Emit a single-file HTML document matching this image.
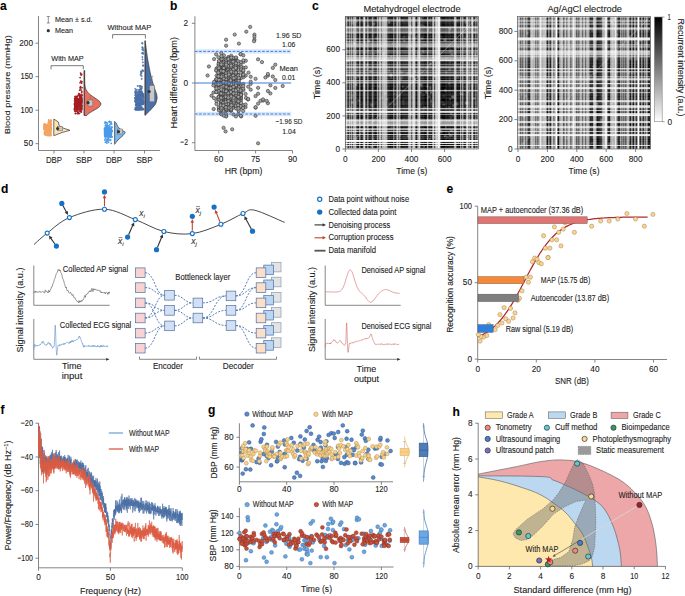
<!DOCTYPE html>
<html><head><meta charset="utf-8"><style>
html,body{margin:0;padding:0;background:#fff;width:685px;height:596px;overflow:hidden}
svg{display:block;font-family:"Liberation Sans", sans-serif;}
</style></head><body>
<svg width="685" height="596" viewBox="0 0 685 596" font-size="7.5" fill="#222">
<style>text{stroke:#222;stroke-width:0.1px}</style>
<text x="0" y="10" font-weight="bold" fill="#000" font-size="12">a</text>
<text x="170" y="10" font-weight="bold" fill="#000" font-size="12">b</text>
<text x="312" y="10" font-weight="bold" fill="#000" font-size="12">c</text>
<text x="1" y="192.5" font-weight="bold" fill="#000" font-size="12">d</text>
<text x="446.5" y="193" font-weight="bold" fill="#000" font-size="12">e</text>
<text x="0.5" y="413.8" font-weight="bold" fill="#000" font-size="12">f</text>
<text x="208" y="413.5" font-weight="bold" fill="#000" font-size="12">g</text>
<text x="452.5" y="415.5" font-weight="bold" fill="#000" font-size="12">h</text>
<line x1="38.5" y1="16" x2="38.5" y2="150.5" stroke="#666" stroke-width="0.8"/>
<line x1="38.5" y1="150.5" x2="160" y2="150.5" stroke="#666" stroke-width="0.8"/>
<line x1="35.5" y1="43.2" x2="38.5" y2="43.2" stroke="#666" stroke-width="0.8"/>
<text x="33" y="45.8" text-anchor="end" textLength="13.8" lengthAdjust="spacingAndGlyphs" font-size="9">200</text>
<line x1="35.5" y1="76.7" x2="38.5" y2="76.7" stroke="#666" stroke-width="0.8"/>
<text x="33" y="79.3" text-anchor="end" textLength="12.5" lengthAdjust="spacingAndGlyphs" font-size="9">150</text>
<line x1="35.5" y1="110.2" x2="38.5" y2="110.2" stroke="#666" stroke-width="0.8"/>
<text x="33" y="112.8" text-anchor="end" textLength="12.5" lengthAdjust="spacingAndGlyphs" font-size="9">100</text>
<line x1="35.5" y1="143.7" x2="38.5" y2="143.7" stroke="#666" stroke-width="0.8"/>
<text x="33" y="146.3" text-anchor="end" textLength="9.2" lengthAdjust="spacingAndGlyphs" font-size="9">50</text>
<line x1="54" y1="150.5" x2="54" y2="153.5" stroke="#666" stroke-width="0.8"/>
<text x="54" y="162.6" text-anchor="middle" textLength="16.1" lengthAdjust="spacingAndGlyphs" font-size="8.5">DBP</text>
<line x1="84" y1="150.5" x2="84" y2="153.5" stroke="#666" stroke-width="0.8"/>
<text x="84" y="162.6" text-anchor="middle" textLength="16.1" lengthAdjust="spacingAndGlyphs" font-size="8.5">SBP</text>
<line x1="114" y1="150.5" x2="114" y2="153.5" stroke="#666" stroke-width="0.8"/>
<text x="114" y="162.6" text-anchor="middle" textLength="16.1" lengthAdjust="spacingAndGlyphs" font-size="8.5">DBP</text>
<line x1="144.5" y1="150.5" x2="144.5" y2="153.5" stroke="#666" stroke-width="0.8"/>
<text x="144.5" y="162.6" text-anchor="middle" textLength="16.1" lengthAdjust="spacingAndGlyphs" font-size="8.5">SBP</text>
<text x="0" y="2.8" text-anchor="middle" textLength="99" lengthAdjust="spacingAndGlyphs" font-size="7.8" transform="translate(7,84.7) rotate(-90)">Blood pressure (mmHg)</text>
<line x1="48.3" y1="16.5" x2="48.3" y2="23" stroke="#666" stroke-width="0.7"/>
<line x1="46.8" y1="16.5" x2="49.8" y2="16.5" stroke="#666" stroke-width="0.7"/>
<line x1="46.8" y1="23" x2="49.8" y2="23" stroke="#666" stroke-width="0.7"/>
<text x="55" y="22.1" textLength="37.5" lengthAdjust="spacingAndGlyphs">Mean ± s.d.</text>
<circle cx="48.3" cy="30.7" r="1.6" fill="#333"/>
<text x="55" y="33" textLength="18" lengthAdjust="spacingAndGlyphs">Mean</text>
<path d="M51,69.4V65.7H83.3V69.4" fill="none" stroke="#444" stroke-width="0.7"/>
<text x="67.5" y="60.7" text-anchor="middle" textLength="32.5" lengthAdjust="spacingAndGlyphs">With MAP</text>
<path d="M112.6,38.5V34.6H145.4V38.5" fill="none" stroke="#444" stroke-width="0.7"/>
<text x="129.4" y="29.5" text-anchor="middle" textLength="43.8" lengthAdjust="spacingAndGlyphs">Without MAP</text>
<circle cx="50.1" cy="129" r="0.9" fill="#F2A462"/>
<circle cx="47.2" cy="130.3" r="0.9" fill="#F2A462"/>
<circle cx="51.2" cy="127.8" r="0.9" fill="#F2A462"/>
<circle cx="45.5" cy="125.3" r="0.9" fill="#F2A462"/>
<circle cx="44.3" cy="127.1" r="0.9" fill="#F2A462"/>
<circle cx="45.1" cy="124.8" r="0.9" fill="#F2A462"/>
<circle cx="51.1" cy="129.3" r="0.9" fill="#F2A462"/>
<circle cx="49" cy="134.6" r="0.9" fill="#F2A462"/>
<circle cx="49.1" cy="126.9" r="0.9" fill="#F2A462"/>
<circle cx="50.7" cy="126.4" r="0.9" fill="#F2A462"/>
<circle cx="46.8" cy="131.1" r="0.9" fill="#F2A462"/>
<circle cx="45.5" cy="130.5" r="0.9" fill="#F2A462"/>
<circle cx="49.1" cy="129.4" r="0.9" fill="#F2A462"/>
<circle cx="45" cy="125.1" r="0.9" fill="#F2A462"/>
<circle cx="45.5" cy="128.9" r="0.9" fill="#F2A462"/>
<circle cx="50.5" cy="131.9" r="0.9" fill="#F2A462"/>
<circle cx="48.8" cy="123.4" r="0.9" fill="#F2A462"/>
<circle cx="44.9" cy="127.1" r="0.9" fill="#F2A462"/>
<circle cx="50.8" cy="121" r="0.9" fill="#F2A462"/>
<circle cx="49.5" cy="123.6" r="0.9" fill="#F2A462"/>
<circle cx="49.3" cy="121.3" r="0.9" fill="#F2A462"/>
<circle cx="46.9" cy="128" r="0.9" fill="#F2A462"/>
<circle cx="51.2" cy="123.7" r="0.9" fill="#F2A462"/>
<circle cx="46.5" cy="130.1" r="0.9" fill="#F2A462"/>
<circle cx="46.8" cy="129.7" r="0.9" fill="#F2A462"/>
<circle cx="45.3" cy="128.2" r="0.9" fill="#F2A462"/>
<circle cx="48.7" cy="120" r="0.9" fill="#F2A462"/>
<circle cx="49" cy="126.7" r="0.9" fill="#F2A462"/>
<circle cx="46.1" cy="128.8" r="0.9" fill="#F2A462"/>
<circle cx="45" cy="129.5" r="0.9" fill="#F2A462"/>
<circle cx="48.4" cy="122.6" r="0.9" fill="#F2A462"/>
<circle cx="50.3" cy="127" r="0.9" fill="#F2A462"/>
<circle cx="51.3" cy="124.9" r="0.9" fill="#F2A462"/>
<circle cx="46.6" cy="125.6" r="0.9" fill="#F2A462"/>
<circle cx="49.9" cy="133.5" r="0.9" fill="#F2A462"/>
<circle cx="47.3" cy="125.6" r="0.9" fill="#F2A462"/>
<circle cx="44.4" cy="128.9" r="0.9" fill="#F2A462"/>
<circle cx="48.7" cy="132.7" r="0.9" fill="#F2A462"/>
<circle cx="49.6" cy="126.5" r="0.9" fill="#F2A462"/>
<circle cx="48.1" cy="128.5" r="0.9" fill="#F2A462"/>
<circle cx="46.6" cy="129.5" r="0.9" fill="#F2A462"/>
<circle cx="50.7" cy="129.3" r="0.9" fill="#F2A462"/>
<circle cx="50.2" cy="123.9" r="0.9" fill="#F2A462"/>
<circle cx="50.5" cy="129.3" r="0.9" fill="#F2A462"/>
<circle cx="46.5" cy="134.7" r="0.9" fill="#F2A462"/>
<circle cx="48.6" cy="122.5" r="0.9" fill="#F2A462"/>
<circle cx="48.7" cy="132.6" r="0.9" fill="#F2A462"/>
<circle cx="48.7" cy="129.5" r="0.9" fill="#F2A462"/>
<circle cx="47.5" cy="126.3" r="0.9" fill="#F2A462"/>
<circle cx="49.9" cy="135.5" r="0.9" fill="#F2A462"/>
<circle cx="49.6" cy="132.2" r="0.9" fill="#F2A462"/>
<circle cx="50.3" cy="124" r="0.9" fill="#F2A462"/>
<circle cx="48.1" cy="129.3" r="0.9" fill="#F2A462"/>
<circle cx="50.9" cy="131.4" r="0.9" fill="#F2A462"/>
<circle cx="45.9" cy="128.2" r="0.9" fill="#F2A462"/>
<circle cx="47.2" cy="131.9" r="0.9" fill="#F2A462"/>
<circle cx="49.3" cy="128.7" r="0.9" fill="#F2A462"/>
<circle cx="50.9" cy="131.8" r="0.9" fill="#F2A462"/>
<circle cx="45.8" cy="135" r="0.9" fill="#F2A462"/>
<circle cx="50.5" cy="126.2" r="0.9" fill="#F2A462"/>
<circle cx="50.5" cy="129.9" r="0.9" fill="#F2A462"/>
<circle cx="50.5" cy="127.1" r="0.9" fill="#F2A462"/>
<circle cx="50.9" cy="129.5" r="0.9" fill="#F2A462"/>
<circle cx="44.7" cy="124" r="0.9" fill="#F2A462"/>
<circle cx="49.5" cy="126.6" r="0.9" fill="#F2A462"/>
<circle cx="49.2" cy="128.2" r="0.9" fill="#F2A462"/>
<circle cx="45.3" cy="132.8" r="0.9" fill="#F2A462"/>
<circle cx="46.9" cy="133.8" r="0.9" fill="#F2A462"/>
<circle cx="50.8" cy="123.4" r="0.9" fill="#F2A462"/>
<circle cx="48.2" cy="125.7" r="0.9" fill="#F2A462"/>
<circle cx="44.9" cy="131.7" r="0.9" fill="#F2A462"/>
<circle cx="50.2" cy="120.6" r="0.9" fill="#F2A462"/>
<circle cx="46.2" cy="127.1" r="0.9" fill="#F2A462"/>
<circle cx="50.8" cy="128.6" r="0.9" fill="#F2A462"/>
<circle cx="46" cy="134.3" r="0.9" fill="#F2A462"/>
<circle cx="45.7" cy="131.9" r="0.9" fill="#F2A462"/>
<circle cx="45.3" cy="127.6" r="0.9" fill="#F2A462"/>
<circle cx="46.4" cy="127.5" r="0.9" fill="#F2A462"/>
<circle cx="48.7" cy="127.9" r="0.9" fill="#F2A462"/>
<circle cx="51" cy="135.4" r="0.9" fill="#F2A462"/>
<circle cx="47.6" cy="127.2" r="0.9" fill="#F2A462"/>
<circle cx="45.8" cy="127.7" r="0.9" fill="#F2A462"/>
<circle cx="50.1" cy="130.5" r="0.9" fill="#F2A462"/>
<circle cx="49.5" cy="128.5" r="0.9" fill="#F2A462"/>
<circle cx="47.5" cy="128.2" r="0.9" fill="#F2A462"/>
<circle cx="45.9" cy="124.3" r="0.9" fill="#F2A462"/>
<circle cx="44.8" cy="129" r="0.9" fill="#F2A462"/>
<circle cx="50.6" cy="127.1" r="0.9" fill="#F2A462"/>
<circle cx="50.1" cy="133.9" r="0.9" fill="#F2A462"/>
<circle cx="45.5" cy="131.7" r="0.9" fill="#F2A462"/>
<circle cx="46.7" cy="128.9" r="0.9" fill="#F2A462"/>
<circle cx="46.1" cy="131.8" r="0.9" fill="#F2A462"/>
<circle cx="44" cy="127.6" r="0.9" fill="#F2A462"/>
<circle cx="44.5" cy="133.4" r="0.9" fill="#F2A462"/>
<circle cx="45.2" cy="129" r="0.9" fill="#F2A462"/>
<circle cx="45.7" cy="131.5" r="0.9" fill="#F2A462"/>
<circle cx="50.1" cy="123.6" r="0.9" fill="#F2A462"/>
<circle cx="46.7" cy="130.5" r="0.9" fill="#F2A462"/>
<circle cx="50.9" cy="121.9" r="0.9" fill="#F2A462"/>
<circle cx="48.8" cy="120.5" r="0.9" fill="#F2A462"/>
<circle cx="45.8" cy="127.7" r="0.9" fill="#F2A462"/>
<circle cx="46.1" cy="125.2" r="0.9" fill="#F2A462"/>
<circle cx="48.2" cy="129.7" r="0.9" fill="#F2A462"/>
<circle cx="48.7" cy="135.5" r="0.9" fill="#F2A462"/>
<circle cx="48.4" cy="125.5" r="0.9" fill="#F2A462"/>
<circle cx="51.2" cy="126.4" r="0.9" fill="#F2A462"/>
<circle cx="45.2" cy="129.9" r="0.9" fill="#F2A462"/>
<circle cx="47.4" cy="131.1" r="0.9" fill="#F2A462"/>
<circle cx="48.6" cy="128.3" r="0.9" fill="#F2A462"/>
<circle cx="47.4" cy="128.1" r="0.9" fill="#F2A462"/>
<circle cx="46.1" cy="132" r="0.9" fill="#F2A462"/>
<circle cx="48.6" cy="131.2" r="0.9" fill="#F2A462"/>
<circle cx="45.3" cy="124.7" r="0.9" fill="#F2A462"/>
<circle cx="44.6" cy="128.7" r="0.9" fill="#F2A462"/>
<circle cx="48.6" cy="129.1" r="0.9" fill="#F2A462"/>
<circle cx="50.5" cy="124.6" r="0.9" fill="#F2A462"/>
<circle cx="45.8" cy="130.1" r="0.9" fill="#F2A462"/>
<circle cx="44.1" cy="125.4" r="0.9" fill="#F2A462"/>
<circle cx="50.4" cy="133.1" r="0.9" fill="#F2A462"/>
<circle cx="46.2" cy="129.8" r="0.9" fill="#F2A462"/>
<circle cx="45.3" cy="129.4" r="0.9" fill="#F2A462"/>
<circle cx="44.6" cy="126.5" r="0.9" fill="#F2A462"/>
<circle cx="50.6" cy="128.5" r="0.9" fill="#F2A462"/>
<circle cx="51.2" cy="120.6" r="0.9" fill="#F2A462"/>
<circle cx="44.1" cy="124.2" r="0.9" fill="#F2A462"/>
<circle cx="50.6" cy="130.5" r="0.9" fill="#F2A462"/>
<circle cx="50.9" cy="120.1" r="0.9" fill="#F2A462"/>
<circle cx="47.2" cy="132.6" r="0.9" fill="#F2A462"/>
<circle cx="49.9" cy="121.7" r="0.9" fill="#F2A462"/>
<circle cx="45.9" cy="132.2" r="0.9" fill="#F2A462"/>
<circle cx="50.1" cy="125.4" r="0.9" fill="#F2A462"/>
<circle cx="44.6" cy="132.3" r="0.9" fill="#F2A462"/>
<circle cx="49.9" cy="129.5" r="0.9" fill="#F2A462"/>
<circle cx="48.8" cy="122.5" r="0.9" fill="#F2A462"/>
<circle cx="51" cy="134.2" r="0.9" fill="#F2A462"/>
<circle cx="47.9" cy="135.1" r="0.9" fill="#F2A462"/>
<circle cx="51.3" cy="128.7" r="0.9" fill="#F2A462"/>
<circle cx="49.1" cy="127.8" r="0.9" fill="#F2A462"/>
<circle cx="49.2" cy="128.3" r="0.9" fill="#F2A462"/>
<circle cx="46.1" cy="124.9" r="0.9" fill="#F2A462"/>
<circle cx="48.1" cy="133.6" r="0.9" fill="#F2A462"/>
<circle cx="51.1" cy="126.7" r="0.9" fill="#F2A462"/>
<circle cx="44" cy="128.8" r="0.9" fill="#F2A462"/>
<circle cx="44.8" cy="125.7" r="0.9" fill="#F2A462"/>
<circle cx="44.6" cy="126.4" r="0.9" fill="#F2A462"/>
<circle cx="50.6" cy="123.6" r="0.9" fill="#F2A462"/>
<circle cx="48.5" cy="134.3" r="0.9" fill="#F2A462"/>
<circle cx="49.8" cy="128.4" r="0.9" fill="#F2A462"/>
<circle cx="50.6" cy="133.1" r="0.9" fill="#F2A462"/>
<circle cx="51.3" cy="129.1" r="0.9" fill="#F2A462"/>
<circle cx="47.7" cy="126.1" r="0.9" fill="#F2A462"/>
<circle cx="50.6" cy="127.6" r="0.9" fill="#F2A462"/>
<circle cx="50.2" cy="126.6" r="0.9" fill="#F2A462"/>
<circle cx="45" cy="129" r="0.9" fill="#F2A462"/>
<circle cx="47.9" cy="127.4" r="0.9" fill="#F2A462"/>
<circle cx="50.1" cy="127.7" r="0.9" fill="#F2A462"/>
<circle cx="49.2" cy="123.2" r="0.9" fill="#F2A462"/>
<circle cx="49.5" cy="125.6" r="0.9" fill="#F2A462"/>
<circle cx="47.5" cy="135.5" r="0.9" fill="#F2A462"/>
<circle cx="49.4" cy="126.2" r="0.9" fill="#F2A462"/>
<circle cx="47.6" cy="124.6" r="0.9" fill="#F2A462"/>
<circle cx="46.8" cy="130.4" r="0.9" fill="#F2A462"/>
<circle cx="47.5" cy="134.9" r="0.9" fill="#F2A462"/>
<circle cx="50.1" cy="122.9" r="0.9" fill="#F2A462"/>
<circle cx="45.6" cy="128.1" r="0.9" fill="#F2A462"/>
<circle cx="44.9" cy="126.3" r="0.9" fill="#F2A462"/>
<circle cx="50.9" cy="121.6" r="0.9" fill="#F2A462"/>
<circle cx="50.5" cy="132.1" r="0.9" fill="#F2A462"/>
<circle cx="50.7" cy="128.9" r="0.9" fill="#F2A462"/>
<circle cx="44.2" cy="129.3" r="0.9" fill="#F2A462"/>
<circle cx="44.4" cy="125.8" r="0.9" fill="#F2A462"/>
<circle cx="49.8" cy="130.9" r="0.9" fill="#F2A462"/>
<circle cx="44.2" cy="126.7" r="0.9" fill="#F2A462"/>
<circle cx="49.9" cy="128.4" r="0.9" fill="#F2A462"/>
<circle cx="47.7" cy="124.3" r="0.9" fill="#F2A462"/>
<circle cx="49.8" cy="123.9" r="0.9" fill="#F2A462"/>
<circle cx="44.6" cy="134.6" r="0.9" fill="#F2A462"/>
<circle cx="51.2" cy="126.9" r="0.9" fill="#F2A462"/>
<circle cx="49.1" cy="130.2" r="0.9" fill="#F2A462"/>
<circle cx="47" cy="128.9" r="0.9" fill="#F2A462"/>
<circle cx="51" cy="127.1" r="0.9" fill="#F2A462"/>
<circle cx="49.7" cy="126.9" r="0.9" fill="#F2A462"/>
<circle cx="48" cy="131.6" r="0.9" fill="#F2A462"/>
<circle cx="44.9" cy="127.7" r="0.9" fill="#F2A462"/>
<circle cx="45.8" cy="128.4" r="0.9" fill="#F2A462"/>
<circle cx="45.3" cy="129.1" r="0.9" fill="#F2A462"/>
<circle cx="45.8" cy="133.9" r="0.9" fill="#F2A462"/>
<circle cx="46.2" cy="131.9" r="0.9" fill="#F2A462"/>
<circle cx="45.1" cy="130.6" r="0.9" fill="#F2A462"/>
<circle cx="46.4" cy="126.6" r="0.9" fill="#F2A462"/>
<circle cx="48.9" cy="123.2" r="0.9" fill="#F2A462"/>
<circle cx="49.2" cy="133" r="0.9" fill="#F2A462"/>
<circle cx="50.2" cy="133.1" r="0.9" fill="#F2A462"/>
<circle cx="45.8" cy="128.4" r="0.9" fill="#F2A462"/>
<circle cx="50.3" cy="131.3" r="0.9" fill="#F2A462"/>
<circle cx="44.6" cy="132.3" r="0.9" fill="#F2A462"/>
<circle cx="47" cy="132.5" r="0.9" fill="#F2A462"/>
<circle cx="49" cy="132.9" r="0.9" fill="#F2A462"/>
<circle cx="44.5" cy="127.1" r="0.9" fill="#F2A462"/>
<circle cx="50.3" cy="135.4" r="0.9" fill="#F2A462"/>
<path d="M53.8,119.1 L58.5,122 L59,125.5 L63,128 L69.9,130.3 L62,132.5 L53.8,135.7Z" fill="#FEE3AF" stroke="#333" stroke-width="0.7"/>
<rect x="57.4" y="126.5" width="5.1" height="4.3" fill="#C8C8C8" stroke="#666" stroke-width="0.5"/>
<circle cx="57.6" cy="128.5" r="1.6" fill="#333"/>
<circle cx="79.2" cy="105.1" r="0.9" fill="#A51F24"/>
<circle cx="76.3" cy="109" r="0.9" fill="#A51F24"/>
<circle cx="81.7" cy="95.3" r="0.9" fill="#A51F24"/>
<circle cx="80" cy="100.1" r="0.9" fill="#A51F24"/>
<circle cx="75.9" cy="104.9" r="0.9" fill="#A51F24"/>
<circle cx="78.5" cy="106" r="0.9" fill="#A51F24"/>
<circle cx="78.6" cy="102.1" r="0.9" fill="#A51F24"/>
<circle cx="74.7" cy="109.1" r="0.9" fill="#A51F24"/>
<circle cx="79.6" cy="105.1" r="0.9" fill="#A51F24"/>
<circle cx="81.7" cy="97.9" r="0.9" fill="#A51F24"/>
<circle cx="79.1" cy="99.3" r="0.9" fill="#A51F24"/>
<circle cx="80.8" cy="108" r="0.9" fill="#A51F24"/>
<circle cx="81.4" cy="106.3" r="0.9" fill="#A51F24"/>
<circle cx="79.7" cy="94.5" r="0.9" fill="#A51F24"/>
<circle cx="74.8" cy="110.7" r="0.9" fill="#A51F24"/>
<circle cx="77.7" cy="107" r="0.9" fill="#A51F24"/>
<circle cx="77.1" cy="110.7" r="0.9" fill="#A51F24"/>
<circle cx="79.6" cy="102.1" r="0.9" fill="#A51F24"/>
<circle cx="77.7" cy="102.5" r="0.9" fill="#A51F24"/>
<circle cx="76.4" cy="98.4" r="0.9" fill="#A51F24"/>
<circle cx="77.6" cy="113.5" r="0.9" fill="#A51F24"/>
<circle cx="76" cy="103.1" r="0.9" fill="#A51F24"/>
<circle cx="77.9" cy="111.9" r="0.9" fill="#A51F24"/>
<circle cx="80.5" cy="100.8" r="0.9" fill="#A51F24"/>
<circle cx="77.6" cy="104.8" r="0.9" fill="#A51F24"/>
<circle cx="80" cy="95.6" r="0.9" fill="#A51F24"/>
<circle cx="80.8" cy="102.1" r="0.9" fill="#A51F24"/>
<circle cx="77.4" cy="108.9" r="0.9" fill="#A51F24"/>
<circle cx="75.9" cy="97.7" r="0.9" fill="#A51F24"/>
<circle cx="81" cy="109.4" r="0.9" fill="#A51F24"/>
<circle cx="77.9" cy="105.7" r="0.9" fill="#A51F24"/>
<circle cx="76.5" cy="98.8" r="0.9" fill="#A51F24"/>
<circle cx="79" cy="101.5" r="0.9" fill="#A51F24"/>
<circle cx="80" cy="101.7" r="0.9" fill="#A51F24"/>
<circle cx="79.2" cy="103.8" r="0.9" fill="#A51F24"/>
<circle cx="77.9" cy="101.3" r="0.9" fill="#A51F24"/>
<circle cx="76.9" cy="99.9" r="0.9" fill="#A51F24"/>
<circle cx="77.8" cy="102.5" r="0.9" fill="#A51F24"/>
<circle cx="81.2" cy="98.9" r="0.9" fill="#A51F24"/>
<circle cx="75.9" cy="97.6" r="0.9" fill="#A51F24"/>
<circle cx="75.1" cy="103.8" r="0.9" fill="#A51F24"/>
<circle cx="81.2" cy="108.4" r="0.9" fill="#A51F24"/>
<circle cx="80.1" cy="96.4" r="0.9" fill="#A51F24"/>
<circle cx="80.7" cy="104" r="0.9" fill="#A51F24"/>
<circle cx="75.6" cy="100.8" r="0.9" fill="#A51F24"/>
<circle cx="75.2" cy="99.1" r="0.9" fill="#A51F24"/>
<circle cx="81.7" cy="108.3" r="0.9" fill="#A51F24"/>
<circle cx="79.5" cy="101.4" r="0.9" fill="#A51F24"/>
<circle cx="80.6" cy="111.5" r="0.9" fill="#A51F24"/>
<circle cx="78.5" cy="100.1" r="0.9" fill="#A51F24"/>
<circle cx="75.1" cy="105.9" r="0.9" fill="#A51F24"/>
<circle cx="81.5" cy="102.9" r="0.9" fill="#A51F24"/>
<circle cx="80.7" cy="100.2" r="0.9" fill="#A51F24"/>
<circle cx="78.3" cy="106.9" r="0.9" fill="#A51F24"/>
<circle cx="78.1" cy="103.2" r="0.9" fill="#A51F24"/>
<circle cx="76.4" cy="107" r="0.9" fill="#A51F24"/>
<circle cx="78.7" cy="103.8" r="0.9" fill="#A51F24"/>
<circle cx="80.9" cy="98.6" r="0.9" fill="#A51F24"/>
<circle cx="79.3" cy="103.5" r="0.9" fill="#A51F24"/>
<circle cx="74.6" cy="104.3" r="0.9" fill="#A51F24"/>
<circle cx="76.4" cy="108.8" r="0.9" fill="#A51F24"/>
<circle cx="81.1" cy="99.5" r="0.9" fill="#A51F24"/>
<circle cx="75.9" cy="103.8" r="0.9" fill="#A51F24"/>
<circle cx="80.8" cy="95.4" r="0.9" fill="#A51F24"/>
<circle cx="76.1" cy="107.3" r="0.9" fill="#A51F24"/>
<circle cx="81.9" cy="98.6" r="0.9" fill="#A51F24"/>
<circle cx="78.5" cy="95" r="0.9" fill="#A51F24"/>
<circle cx="80.8" cy="103.7" r="0.9" fill="#A51F24"/>
<circle cx="78.6" cy="109.5" r="0.9" fill="#A51F24"/>
<circle cx="77" cy="96.4" r="0.9" fill="#A51F24"/>
<circle cx="78.2" cy="98.6" r="0.9" fill="#A51F24"/>
<circle cx="80.8" cy="100.3" r="0.9" fill="#A51F24"/>
<circle cx="81" cy="98.4" r="0.9" fill="#A51F24"/>
<circle cx="79.9" cy="105.9" r="0.9" fill="#A51F24"/>
<circle cx="81.6" cy="100" r="0.9" fill="#A51F24"/>
<circle cx="80.4" cy="100.4" r="0.9" fill="#A51F24"/>
<circle cx="81" cy="106.9" r="0.9" fill="#A51F24"/>
<circle cx="78.5" cy="100.2" r="0.9" fill="#A51F24"/>
<circle cx="79.3" cy="106.2" r="0.9" fill="#A51F24"/>
<circle cx="77.6" cy="99.1" r="0.9" fill="#A51F24"/>
<circle cx="79.9" cy="97.9" r="0.9" fill="#A51F24"/>
<circle cx="81.9" cy="94.8" r="0.9" fill="#A51F24"/>
<circle cx="79.5" cy="113.3" r="0.9" fill="#A51F24"/>
<circle cx="76.3" cy="102.4" r="0.9" fill="#A51F24"/>
<circle cx="80.1" cy="105.2" r="0.9" fill="#A51F24"/>
<circle cx="79" cy="103.8" r="0.9" fill="#A51F24"/>
<circle cx="76.3" cy="104.8" r="0.9" fill="#A51F24"/>
<circle cx="78.9" cy="104.2" r="0.9" fill="#A51F24"/>
<circle cx="75.3" cy="113.5" r="0.9" fill="#A51F24"/>
<circle cx="75.1" cy="98.8" r="0.9" fill="#A51F24"/>
<circle cx="79.7" cy="96.2" r="0.9" fill="#A51F24"/>
<circle cx="76.5" cy="98.9" r="0.9" fill="#A51F24"/>
<circle cx="80.1" cy="97.3" r="0.9" fill="#A51F24"/>
<circle cx="81" cy="107.7" r="0.9" fill="#A51F24"/>
<circle cx="78.7" cy="108.1" r="0.9" fill="#A51F24"/>
<circle cx="77.5" cy="99.2" r="0.9" fill="#A51F24"/>
<circle cx="75" cy="97" r="0.9" fill="#A51F24"/>
<circle cx="80.9" cy="102.2" r="0.9" fill="#A51F24"/>
<circle cx="76.7" cy="111" r="0.9" fill="#A51F24"/>
<circle cx="81" cy="89.9" r="0.9" fill="#A51F24"/>
<circle cx="81" cy="106.6" r="0.9" fill="#A51F24"/>
<circle cx="74.7" cy="98.6" r="0.9" fill="#A51F24"/>
<circle cx="76.8" cy="109.2" r="0.9" fill="#A51F24"/>
<circle cx="81" cy="98.6" r="0.9" fill="#A51F24"/>
<circle cx="75.2" cy="102.6" r="0.9" fill="#A51F24"/>
<circle cx="81.2" cy="96.5" r="0.9" fill="#A51F24"/>
<circle cx="81.3" cy="99.1" r="0.9" fill="#A51F24"/>
<circle cx="79.5" cy="110.9" r="0.9" fill="#A51F24"/>
<circle cx="75" cy="108.1" r="0.9" fill="#A51F24"/>
<circle cx="81.8" cy="102" r="0.9" fill="#A51F24"/>
<circle cx="75.1" cy="99.6" r="0.9" fill="#A51F24"/>
<circle cx="79.6" cy="94.5" r="0.9" fill="#A51F24"/>
<circle cx="81.5" cy="102" r="0.9" fill="#A51F24"/>
<circle cx="77.7" cy="103.8" r="0.9" fill="#A51F24"/>
<circle cx="78.6" cy="103.6" r="0.9" fill="#A51F24"/>
<circle cx="77.8" cy="103.5" r="0.9" fill="#A51F24"/>
<circle cx="76.5" cy="98.4" r="0.9" fill="#A51F24"/>
<circle cx="76.9" cy="103.7" r="0.9" fill="#A51F24"/>
<circle cx="74.5" cy="103.8" r="0.9" fill="#A51F24"/>
<circle cx="80.8" cy="110.5" r="0.9" fill="#A51F24"/>
<circle cx="75.9" cy="113.3" r="0.9" fill="#A51F24"/>
<circle cx="78.9" cy="103.3" r="0.9" fill="#A51F24"/>
<circle cx="76.1" cy="100.2" r="0.9" fill="#A51F24"/>
<circle cx="75.3" cy="103.7" r="0.9" fill="#A51F24"/>
<circle cx="74.6" cy="101" r="0.9" fill="#A51F24"/>
<circle cx="80" cy="100.3" r="0.9" fill="#A51F24"/>
<circle cx="78.6" cy="103.7" r="0.9" fill="#A51F24"/>
<circle cx="74.9" cy="98.8" r="0.9" fill="#A51F24"/>
<circle cx="74.9" cy="107" r="0.9" fill="#A51F24"/>
<circle cx="79.2" cy="103.5" r="0.9" fill="#A51F24"/>
<circle cx="74.9" cy="105.3" r="0.9" fill="#A51F24"/>
<circle cx="79" cy="103.1" r="0.9" fill="#A51F24"/>
<circle cx="79.2" cy="100.4" r="0.9" fill="#A51F24"/>
<circle cx="76.3" cy="99.3" r="0.9" fill="#A51F24"/>
<circle cx="78.5" cy="102.8" r="0.9" fill="#A51F24"/>
<circle cx="78.6" cy="101.3" r="0.9" fill="#A51F24"/>
<circle cx="79.1" cy="105.2" r="0.9" fill="#A51F24"/>
<circle cx="78.8" cy="104" r="0.9" fill="#A51F24"/>
<circle cx="81" cy="97.2" r="0.9" fill="#A51F24"/>
<circle cx="81.5" cy="104.3" r="0.9" fill="#A51F24"/>
<circle cx="76.3" cy="97.3" r="0.9" fill="#A51F24"/>
<circle cx="77.8" cy="100.9" r="0.9" fill="#A51F24"/>
<circle cx="77" cy="102.5" r="0.9" fill="#A51F24"/>
<circle cx="78.8" cy="93.6" r="0.9" fill="#A51F24"/>
<circle cx="80.3" cy="104.5" r="0.9" fill="#A51F24"/>
<circle cx="80.2" cy="104.8" r="0.9" fill="#A51F24"/>
<circle cx="79.9" cy="103.2" r="0.9" fill="#A51F24"/>
<circle cx="79.7" cy="101.9" r="0.9" fill="#A51F24"/>
<circle cx="76.3" cy="102.1" r="0.9" fill="#A51F24"/>
<circle cx="79.2" cy="99.1" r="0.9" fill="#A51F24"/>
<circle cx="79.6" cy="102.7" r="0.9" fill="#A51F24"/>
<circle cx="77.2" cy="101.2" r="0.9" fill="#A51F24"/>
<circle cx="80.6" cy="104.5" r="0.9" fill="#A51F24"/>
<circle cx="81.2" cy="98" r="0.9" fill="#A51F24"/>
<circle cx="76.8" cy="105.2" r="0.9" fill="#A51F24"/>
<circle cx="76.3" cy="104.7" r="0.9" fill="#A51F24"/>
<circle cx="79.8" cy="103.3" r="0.9" fill="#A51F24"/>
<circle cx="77.2" cy="101.8" r="0.9" fill="#A51F24"/>
<circle cx="81.7" cy="106.8" r="0.9" fill="#A51F24"/>
<circle cx="80.4" cy="95.7" r="0.9" fill="#A51F24"/>
<circle cx="77.7" cy="106.3" r="0.9" fill="#A51F24"/>
<circle cx="80.1" cy="105.2" r="0.9" fill="#A51F24"/>
<circle cx="79.4" cy="105.4" r="0.9" fill="#A51F24"/>
<circle cx="77.4" cy="105.9" r="0.9" fill="#A51F24"/>
<circle cx="77.6" cy="100.7" r="0.9" fill="#A51F24"/>
<circle cx="80.8" cy="102.7" r="0.9" fill="#A51F24"/>
<circle cx="76.7" cy="107.2" r="0.9" fill="#A51F24"/>
<circle cx="81.4" cy="106.2" r="0.9" fill="#A51F24"/>
<circle cx="74.7" cy="105" r="0.9" fill="#A51F24"/>
<circle cx="80.5" cy="96.4" r="0.9" fill="#A51F24"/>
<circle cx="80.1" cy="106.7" r="0.9" fill="#A51F24"/>
<circle cx="80.5" cy="109.8" r="0.9" fill="#A51F24"/>
<circle cx="74.6" cy="109" r="0.9" fill="#A51F24"/>
<circle cx="79.9" cy="105.2" r="0.9" fill="#A51F24"/>
<circle cx="77.5" cy="96.2" r="0.9" fill="#A51F24"/>
<circle cx="74.6" cy="108.7" r="0.9" fill="#A51F24"/>
<circle cx="74.9" cy="103.3" r="0.9" fill="#A51F24"/>
<circle cx="81.8" cy="91.3" r="0.9" fill="#A51F24"/>
<circle cx="78.1" cy="105.9" r="0.9" fill="#A51F24"/>
<circle cx="77.5" cy="96.5" r="0.9" fill="#A51F24"/>
<circle cx="76.7" cy="97.5" r="0.9" fill="#A51F24"/>
<circle cx="79.5" cy="100.8" r="0.9" fill="#A51F24"/>
<circle cx="79.5" cy="110.4" r="0.9" fill="#A51F24"/>
<circle cx="82" cy="102.1" r="0.9" fill="#A51F24"/>
<circle cx="81.7" cy="105.4" r="0.9" fill="#A51F24"/>
<circle cx="77.9" cy="112.7" r="0.9" fill="#A51F24"/>
<circle cx="81.4" cy="112" r="0.9" fill="#A51F24"/>
<circle cx="80.5" cy="103.5" r="0.9" fill="#A51F24"/>
<circle cx="79.5" cy="102.8" r="0.9" fill="#A51F24"/>
<circle cx="81.5" cy="97.7" r="0.9" fill="#A51F24"/>
<circle cx="81.8" cy="100.5" r="0.9" fill="#A51F24"/>
<circle cx="75" cy="106.1" r="0.9" fill="#A51F24"/>
<circle cx="78.7" cy="106" r="0.9" fill="#A51F24"/>
<circle cx="80.5" cy="104.6" r="0.9" fill="#A51F24"/>
<circle cx="76.7" cy="109" r="0.9" fill="#A51F24"/>
<circle cx="81.9" cy="100.1" r="0.9" fill="#A51F24"/>
<circle cx="80.2" cy="103.7" r="0.9" fill="#A51F24"/>
<circle cx="74.8" cy="107.7" r="0.9" fill="#A51F24"/>
<circle cx="75.3" cy="106.9" r="0.9" fill="#A51F24"/>
<circle cx="77.2" cy="109.4" r="0.9" fill="#A51F24"/>
<circle cx="81.3" cy="106" r="0.9" fill="#A51F24"/>
<circle cx="79.6" cy="102.5" r="0.9" fill="#A51F24"/>
<circle cx="81.8" cy="105.8" r="0.9" fill="#A51F24"/>
<circle cx="80.4" cy="99" r="0.9" fill="#A51F24"/>
<circle cx="81.9" cy="95.8" r="0.9" fill="#A51F24"/>
<circle cx="81.1" cy="106.9" r="0.9" fill="#A51F24"/>
<circle cx="77.3" cy="103.7" r="0.9" fill="#A51F24"/>
<circle cx="81.2" cy="105.5" r="0.9" fill="#A51F24"/>
<circle cx="81.4" cy="95.5" r="0.9" fill="#A51F24"/>
<circle cx="75.2" cy="102.2" r="0.9" fill="#A51F24"/>
<circle cx="79.5" cy="101" r="0.9" fill="#A51F24"/>
<circle cx="79.5" cy="99.7" r="0.9" fill="#A51F24"/>
<circle cx="81.7" cy="92.7" r="0.9" fill="#A51F24"/>
<circle cx="76" cy="102.3" r="0.9" fill="#A51F24"/>
<circle cx="76.9" cy="108.5" r="0.9" fill="#A51F24"/>
<circle cx="77.9" cy="105.9" r="0.9" fill="#A51F24"/>
<circle cx="77.4" cy="101" r="0.9" fill="#A51F24"/>
<circle cx="81.2" cy="103.9" r="0.9" fill="#A51F24"/>
<circle cx="80" cy="107.8" r="0.9" fill="#A51F24"/>
<circle cx="79.7" cy="90.2" r="0.9" fill="#A51F24"/>
<circle cx="74.9" cy="103.4" r="0.9" fill="#A51F24"/>
<circle cx="75.9" cy="106.7" r="0.9" fill="#A51F24"/>
<circle cx="77.2" cy="107.4" r="0.9" fill="#A51F24"/>
<circle cx="78.1" cy="112.5" r="0.9" fill="#A51F24"/>
<circle cx="81.9" cy="109.7" r="0.9" fill="#A51F24"/>
<circle cx="75.3" cy="105.6" r="0.9" fill="#A51F24"/>
<circle cx="81.5" cy="105.5" r="0.9" fill="#A51F24"/>
<circle cx="81" cy="107.9" r="0.9" fill="#A51F24"/>
<circle cx="76.8" cy="101.3" r="0.9" fill="#A51F24"/>
<circle cx="75.9" cy="103.8" r="0.9" fill="#A51F24"/>
<circle cx="76.1" cy="108.5" r="0.9" fill="#A51F24"/>
<circle cx="78.6" cy="113.5" r="0.9" fill="#A51F24"/>
<circle cx="80.7" cy="103.2" r="0.9" fill="#A51F24"/>
<circle cx="81.7" cy="103.8" r="0.9" fill="#A51F24"/>
<circle cx="75.6" cy="105" r="0.9" fill="#A51F24"/>
<circle cx="74.7" cy="110.7" r="0.9" fill="#A51F24"/>
<circle cx="80.2" cy="103.8" r="0.9" fill="#A51F24"/>
<circle cx="75.5" cy="111.3" r="0.9" fill="#A51F24"/>
<circle cx="79" cy="99.2" r="0.9" fill="#A51F24"/>
<circle cx="79.7" cy="103.1" r="0.9" fill="#A51F24"/>
<circle cx="78.2" cy="103" r="0.9" fill="#A51F24"/>
<circle cx="81.9" cy="107.9" r="0.9" fill="#A51F24"/>
<circle cx="78.7" cy="109.2" r="0.9" fill="#A51F24"/>
<circle cx="80.5" cy="96.5" r="0.9" fill="#A51F24"/>
<circle cx="76.7" cy="99.4" r="0.9" fill="#A51F24"/>
<circle cx="78.2" cy="105.7" r="0.9" fill="#A51F24"/>
<circle cx="75.5" cy="100.7" r="0.9" fill="#A51F24"/>
<circle cx="75.3" cy="96.4" r="0.9" fill="#A51F24"/>
<circle cx="79.6" cy="109.2" r="0.9" fill="#A51F24"/>
<circle cx="79.9" cy="106.5" r="0.9" fill="#A51F24"/>
<circle cx="75" cy="106.5" r="0.9" fill="#A51F24"/>
<circle cx="78.2" cy="101.6" r="0.9" fill="#A51F24"/>
<circle cx="81.3" cy="109.1" r="0.9" fill="#A51F24"/>
<circle cx="81.7" cy="102.8" r="0.9" fill="#A51F24"/>
<circle cx="74.6" cy="109.5" r="0.9" fill="#A51F24"/>
<circle cx="77.7" cy="99.4" r="0.9" fill="#A51F24"/>
<circle cx="81.6" cy="99.7" r="0.9" fill="#A51F24"/>
<circle cx="78.2" cy="105" r="0.9" fill="#A51F24"/>
<circle cx="78.2" cy="100.5" r="0.9" fill="#A51F24"/>
<circle cx="78.7" cy="107.4" r="0.9" fill="#A51F24"/>
<circle cx="80.1" cy="77.6" r="0.9" fill="#A51F24"/>
<circle cx="80.1" cy="82.7" r="0.9" fill="#A51F24"/>
<circle cx="81.8" cy="81.6" r="0.9" fill="#A51F24"/>
<circle cx="81.7" cy="74.3" r="0.9" fill="#A51F24"/>
<circle cx="81.2" cy="75.1" r="0.9" fill="#A51F24"/>
<circle cx="80.3" cy="88" r="0.9" fill="#A51F24"/>
<circle cx="80.8" cy="81.1" r="0.9" fill="#A51F24"/>
<circle cx="80.5" cy="86.7" r="0.9" fill="#A51F24"/>
<circle cx="80.8" cy="74.1" r="0.9" fill="#A51F24"/>
<circle cx="81.6" cy="83.1" r="0.9" fill="#A51F24"/>
<circle cx="80.4" cy="87.7" r="0.9" fill="#A51F24"/>
<circle cx="82" cy="87.7" r="0.9" fill="#A51F24"/>
<circle cx="80.6" cy="73.1" r="0.9" fill="#A51F24"/>
<circle cx="81.6" cy="81.9" r="0.9" fill="#A51F24"/>
<path d="M84.2,70.6 L84.7,70.6 L84.7,71.4 L84.7,72.1 L84.7,72.9 L84.7,73.6 L84.7,74.4 L84.7,75.2 L84.7,75.9 L84.7,76.7 L84.7,77.4 L84.7,78.2 L84.7,79 L84.7,79.7 L84.7,80.5 L84.7,81.3 L84.8,82 L84.8,82.8 L84.8,83.5 L84.9,84.3 L84.9,85.1 L85,85.8 L85.2,86.6 L85.3,87.3 L85.5,88.1 L85.8,88.9 L86.1,89.6 L86.5,90.4 L87,91.1 L87.5,91.9 L88.2,92.7 L88.9,93.4 L89.7,94.2 L90.7,95 L91.7,95.7 L92.7,96.5 L93.8,97.2 L95,98 L96.1,98.8 L97.1,99.5 L98.2,100.3 L99.1,101 L99.8,101.8 L100.4,102.6 L100.8,103.3 L101.1,104.1 L100.6,104.8 L100.3,105.6 L99.7,106.4 L98.9,107.1 L97.9,107.9 L96.7,108.7 L95.4,109.4 L94.1,110.2 L92.8,110.9 L91.5,111.7 L90.3,112.5 L89.2,113.2 L88.2,114 L87.4,114.7 L86.7,115.5 L84.2,115.5Z" fill="#E8705F" stroke="#333" stroke-width="0.7"/>
<line x1="84.2" y1="70.6" x2="84.2" y2="115.5" stroke="#333" stroke-width="0.7"/>
<line x1="90.4" y1="95" x2="90.4" y2="100" stroke="#777" stroke-width="0.5"/>
<rect x="88" y="100" width="4.8" height="6" fill="#C8C8C8" stroke="#666" stroke-width="0.5"/>
<circle cx="88" cy="102.7" r="1.6" fill="#333"/>
<circle cx="106.7" cy="136.2" r="0.9" fill="#4C9BEA"/>
<circle cx="108.5" cy="137.4" r="0.9" fill="#4C9BEA"/>
<circle cx="105.9" cy="130.1" r="0.9" fill="#4C9BEA"/>
<circle cx="108.4" cy="133.8" r="0.9" fill="#4C9BEA"/>
<circle cx="104.8" cy="135.2" r="0.9" fill="#4C9BEA"/>
<circle cx="109.9" cy="129.1" r="0.9" fill="#4C9BEA"/>
<circle cx="111" cy="133.6" r="0.9" fill="#4C9BEA"/>
<circle cx="105.8" cy="131.9" r="0.9" fill="#4C9BEA"/>
<circle cx="109.8" cy="129.6" r="0.9" fill="#4C9BEA"/>
<circle cx="105.6" cy="129.8" r="0.9" fill="#4C9BEA"/>
<circle cx="107.4" cy="132.3" r="0.9" fill="#4C9BEA"/>
<circle cx="108.2" cy="132.1" r="0.9" fill="#4C9BEA"/>
<circle cx="111.3" cy="129.5" r="0.9" fill="#4C9BEA"/>
<circle cx="106.1" cy="130.1" r="0.9" fill="#4C9BEA"/>
<circle cx="111.5" cy="137" r="0.9" fill="#4C9BEA"/>
<circle cx="104.8" cy="133" r="0.9" fill="#4C9BEA"/>
<circle cx="105.4" cy="136" r="0.9" fill="#4C9BEA"/>
<circle cx="109.7" cy="137.4" r="0.9" fill="#4C9BEA"/>
<circle cx="111" cy="134.6" r="0.9" fill="#4C9BEA"/>
<circle cx="105.4" cy="142.2" r="0.9" fill="#4C9BEA"/>
<circle cx="108.4" cy="128.3" r="0.9" fill="#4C9BEA"/>
<circle cx="111.1" cy="135.6" r="0.9" fill="#4C9BEA"/>
<circle cx="108.3" cy="130.6" r="0.9" fill="#4C9BEA"/>
<circle cx="110.1" cy="140.4" r="0.9" fill="#4C9BEA"/>
<circle cx="108.9" cy="139.7" r="0.9" fill="#4C9BEA"/>
<circle cx="107.2" cy="123.2" r="0.9" fill="#4C9BEA"/>
<circle cx="105.1" cy="127.6" r="0.9" fill="#4C9BEA"/>
<circle cx="106" cy="135" r="0.9" fill="#4C9BEA"/>
<circle cx="110.8" cy="135.6" r="0.9" fill="#4C9BEA"/>
<circle cx="108.4" cy="135.3" r="0.9" fill="#4C9BEA"/>
<circle cx="108.3" cy="131.7" r="0.9" fill="#4C9BEA"/>
<circle cx="104.6" cy="134" r="0.9" fill="#4C9BEA"/>
<circle cx="111.3" cy="134.9" r="0.9" fill="#4C9BEA"/>
<circle cx="108.2" cy="131.6" r="0.9" fill="#4C9BEA"/>
<circle cx="105.1" cy="136.6" r="0.9" fill="#4C9BEA"/>
<circle cx="109" cy="121.8" r="0.9" fill="#4C9BEA"/>
<circle cx="110" cy="134.9" r="0.9" fill="#4C9BEA"/>
<circle cx="107.8" cy="127.3" r="0.9" fill="#4C9BEA"/>
<circle cx="109.6" cy="136.3" r="0.9" fill="#4C9BEA"/>
<circle cx="105" cy="131" r="0.9" fill="#4C9BEA"/>
<circle cx="111.4" cy="128" r="0.9" fill="#4C9BEA"/>
<circle cx="110.4" cy="133.7" r="0.9" fill="#4C9BEA"/>
<circle cx="111.4" cy="127.9" r="0.9" fill="#4C9BEA"/>
<circle cx="106.7" cy="127.9" r="0.9" fill="#4C9BEA"/>
<circle cx="109.8" cy="124.9" r="0.9" fill="#4C9BEA"/>
<circle cx="105.2" cy="131.9" r="0.9" fill="#4C9BEA"/>
<circle cx="105.3" cy="134.2" r="0.9" fill="#4C9BEA"/>
<circle cx="105" cy="136.6" r="0.9" fill="#4C9BEA"/>
<circle cx="110.1" cy="131.4" r="0.9" fill="#4C9BEA"/>
<circle cx="112" cy="136.7" r="0.9" fill="#4C9BEA"/>
<circle cx="109.1" cy="132.1" r="0.9" fill="#4C9BEA"/>
<circle cx="104.8" cy="131.6" r="0.9" fill="#4C9BEA"/>
<circle cx="106.3" cy="134.6" r="0.9" fill="#4C9BEA"/>
<circle cx="111.6" cy="136.8" r="0.9" fill="#4C9BEA"/>
<circle cx="106.7" cy="130.5" r="0.9" fill="#4C9BEA"/>
<circle cx="105.1" cy="130.9" r="0.9" fill="#4C9BEA"/>
<circle cx="104.7" cy="131.3" r="0.9" fill="#4C9BEA"/>
<circle cx="106.6" cy="132.4" r="0.9" fill="#4C9BEA"/>
<circle cx="105.5" cy="127.9" r="0.9" fill="#4C9BEA"/>
<circle cx="105.7" cy="136.6" r="0.9" fill="#4C9BEA"/>
<circle cx="109.3" cy="130.2" r="0.9" fill="#4C9BEA"/>
<circle cx="111.3" cy="134.1" r="0.9" fill="#4C9BEA"/>
<circle cx="106.5" cy="128.3" r="0.9" fill="#4C9BEA"/>
<circle cx="111" cy="133.6" r="0.9" fill="#4C9BEA"/>
<circle cx="109.1" cy="133.8" r="0.9" fill="#4C9BEA"/>
<circle cx="104.5" cy="130.1" r="0.9" fill="#4C9BEA"/>
<circle cx="107.8" cy="141.1" r="0.9" fill="#4C9BEA"/>
<circle cx="108.1" cy="133.7" r="0.9" fill="#4C9BEA"/>
<circle cx="104.9" cy="140" r="0.9" fill="#4C9BEA"/>
<circle cx="109.9" cy="136.3" r="0.9" fill="#4C9BEA"/>
<circle cx="104.5" cy="129" r="0.9" fill="#4C9BEA"/>
<circle cx="105.2" cy="130.3" r="0.9" fill="#4C9BEA"/>
<circle cx="109.3" cy="134" r="0.9" fill="#4C9BEA"/>
<circle cx="109.5" cy="132.3" r="0.9" fill="#4C9BEA"/>
<circle cx="111.1" cy="132.2" r="0.9" fill="#4C9BEA"/>
<circle cx="105.1" cy="130.7" r="0.9" fill="#4C9BEA"/>
<circle cx="110.6" cy="123.9" r="0.9" fill="#4C9BEA"/>
<circle cx="111.9" cy="131" r="0.9" fill="#4C9BEA"/>
<circle cx="105.3" cy="122" r="0.9" fill="#4C9BEA"/>
<circle cx="107.5" cy="133.7" r="0.9" fill="#4C9BEA"/>
<circle cx="107" cy="128.7" r="0.9" fill="#4C9BEA"/>
<circle cx="106.5" cy="128.8" r="0.9" fill="#4C9BEA"/>
<circle cx="111.7" cy="131" r="0.9" fill="#4C9BEA"/>
<circle cx="111.3" cy="133.2" r="0.9" fill="#4C9BEA"/>
<circle cx="108.3" cy="125.6" r="0.9" fill="#4C9BEA"/>
<circle cx="111.6" cy="124.1" r="0.9" fill="#4C9BEA"/>
<circle cx="108.2" cy="127.2" r="0.9" fill="#4C9BEA"/>
<circle cx="106.5" cy="122.8" r="0.9" fill="#4C9BEA"/>
<circle cx="107.1" cy="127.6" r="0.9" fill="#4C9BEA"/>
<circle cx="107.4" cy="139.2" r="0.9" fill="#4C9BEA"/>
<circle cx="111.7" cy="127.2" r="0.9" fill="#4C9BEA"/>
<circle cx="110.2" cy="134.9" r="0.9" fill="#4C9BEA"/>
<circle cx="105.3" cy="125.8" r="0.9" fill="#4C9BEA"/>
<circle cx="111.1" cy="133.3" r="0.9" fill="#4C9BEA"/>
<circle cx="108" cy="130.6" r="0.9" fill="#4C9BEA"/>
<circle cx="111.6" cy="131.7" r="0.9" fill="#4C9BEA"/>
<circle cx="105" cy="134.6" r="0.9" fill="#4C9BEA"/>
<circle cx="110.7" cy="139.9" r="0.9" fill="#4C9BEA"/>
<circle cx="108.9" cy="132.9" r="0.9" fill="#4C9BEA"/>
<circle cx="107.9" cy="132.6" r="0.9" fill="#4C9BEA"/>
<circle cx="106.6" cy="127.6" r="0.9" fill="#4C9BEA"/>
<circle cx="105" cy="134.6" r="0.9" fill="#4C9BEA"/>
<circle cx="106.5" cy="130.9" r="0.9" fill="#4C9BEA"/>
<circle cx="109.4" cy="135.7" r="0.9" fill="#4C9BEA"/>
<circle cx="111.4" cy="131.8" r="0.9" fill="#4C9BEA"/>
<circle cx="106.7" cy="139.8" r="0.9" fill="#4C9BEA"/>
<circle cx="104.7" cy="123.1" r="0.9" fill="#4C9BEA"/>
<circle cx="111.9" cy="130.7" r="0.9" fill="#4C9BEA"/>
<circle cx="106.2" cy="136" r="0.9" fill="#4C9BEA"/>
<circle cx="110.7" cy="130.4" r="0.9" fill="#4C9BEA"/>
<circle cx="108.6" cy="128.4" r="0.9" fill="#4C9BEA"/>
<circle cx="108.1" cy="130.8" r="0.9" fill="#4C9BEA"/>
<circle cx="107.4" cy="125.8" r="0.9" fill="#4C9BEA"/>
<circle cx="104.6" cy="132.5" r="0.9" fill="#4C9BEA"/>
<circle cx="106.8" cy="143" r="0.9" fill="#4C9BEA"/>
<circle cx="109.1" cy="137.2" r="0.9" fill="#4C9BEA"/>
<circle cx="106.6" cy="127" r="0.9" fill="#4C9BEA"/>
<circle cx="108.5" cy="128.1" r="0.9" fill="#4C9BEA"/>
<circle cx="108.9" cy="130.2" r="0.9" fill="#4C9BEA"/>
<circle cx="109.3" cy="136.5" r="0.9" fill="#4C9BEA"/>
<circle cx="108.3" cy="128.3" r="0.9" fill="#4C9BEA"/>
<circle cx="109.9" cy="128.9" r="0.9" fill="#4C9BEA"/>
<circle cx="110.2" cy="136" r="0.9" fill="#4C9BEA"/>
<circle cx="110.9" cy="135.9" r="0.9" fill="#4C9BEA"/>
<circle cx="108.7" cy="130.3" r="0.9" fill="#4C9BEA"/>
<circle cx="109.8" cy="127" r="0.9" fill="#4C9BEA"/>
<circle cx="105.7" cy="125" r="0.9" fill="#4C9BEA"/>
<circle cx="105.6" cy="128.9" r="0.9" fill="#4C9BEA"/>
<circle cx="109.4" cy="122" r="0.9" fill="#4C9BEA"/>
<circle cx="107.4" cy="135.4" r="0.9" fill="#4C9BEA"/>
<circle cx="105.2" cy="129.2" r="0.9" fill="#4C9BEA"/>
<circle cx="109.3" cy="134.2" r="0.9" fill="#4C9BEA"/>
<circle cx="107.8" cy="140.4" r="0.9" fill="#4C9BEA"/>
<circle cx="108.7" cy="137.3" r="0.9" fill="#4C9BEA"/>
<circle cx="107.1" cy="126.8" r="0.9" fill="#4C9BEA"/>
<circle cx="104.8" cy="135.9" r="0.9" fill="#4C9BEA"/>
<circle cx="111" cy="137.2" r="0.9" fill="#4C9BEA"/>
<circle cx="104.8" cy="128.6" r="0.9" fill="#4C9BEA"/>
<circle cx="107" cy="127.7" r="0.9" fill="#4C9BEA"/>
<circle cx="106" cy="131.5" r="0.9" fill="#4C9BEA"/>
<circle cx="107.2" cy="124.8" r="0.9" fill="#4C9BEA"/>
<circle cx="105.5" cy="138.6" r="0.9" fill="#4C9BEA"/>
<circle cx="109.6" cy="121.5" r="0.9" fill="#4C9BEA"/>
<circle cx="106.7" cy="127" r="0.9" fill="#4C9BEA"/>
<circle cx="110" cy="130.8" r="0.9" fill="#4C9BEA"/>
<circle cx="108.2" cy="131" r="0.9" fill="#4C9BEA"/>
<circle cx="106.9" cy="132.7" r="0.9" fill="#4C9BEA"/>
<circle cx="110.5" cy="133.2" r="0.9" fill="#4C9BEA"/>
<circle cx="111.5" cy="131" r="0.9" fill="#4C9BEA"/>
<circle cx="106.1" cy="137.1" r="0.9" fill="#4C9BEA"/>
<circle cx="105.9" cy="122.4" r="0.9" fill="#4C9BEA"/>
<circle cx="107" cy="132" r="0.9" fill="#4C9BEA"/>
<circle cx="109.6" cy="128.8" r="0.9" fill="#4C9BEA"/>
<circle cx="107.1" cy="132.6" r="0.9" fill="#4C9BEA"/>
<circle cx="111.4" cy="133" r="0.9" fill="#4C9BEA"/>
<circle cx="107" cy="127.9" r="0.9" fill="#4C9BEA"/>
<circle cx="107.7" cy="129.1" r="0.9" fill="#4C9BEA"/>
<circle cx="107.4" cy="135.6" r="0.9" fill="#4C9BEA"/>
<circle cx="108.6" cy="133.6" r="0.9" fill="#4C9BEA"/>
<circle cx="110.3" cy="128.9" r="0.9" fill="#4C9BEA"/>
<circle cx="106.6" cy="141.2" r="0.9" fill="#4C9BEA"/>
<circle cx="108.5" cy="142.4" r="0.9" fill="#4C9BEA"/>
<circle cx="106.4" cy="125.4" r="0.9" fill="#4C9BEA"/>
<circle cx="109.3" cy="133.4" r="0.9" fill="#4C9BEA"/>
<circle cx="111.3" cy="143.3" r="0.9" fill="#4C9BEA"/>
<circle cx="107.9" cy="135.5" r="0.9" fill="#4C9BEA"/>
<circle cx="107.3" cy="133" r="0.9" fill="#4C9BEA"/>
<circle cx="105.1" cy="131.1" r="0.9" fill="#4C9BEA"/>
<circle cx="105.3" cy="129.6" r="0.9" fill="#4C9BEA"/>
<circle cx="111.6" cy="131" r="0.9" fill="#4C9BEA"/>
<circle cx="106.2" cy="129.5" r="0.9" fill="#4C9BEA"/>
<circle cx="110" cy="135.4" r="0.9" fill="#4C9BEA"/>
<circle cx="106.8" cy="130.2" r="0.9" fill="#4C9BEA"/>
<circle cx="109.2" cy="130" r="0.9" fill="#4C9BEA"/>
<circle cx="109.6" cy="126.6" r="0.9" fill="#4C9BEA"/>
<circle cx="108.3" cy="131.8" r="0.9" fill="#4C9BEA"/>
<circle cx="108" cy="128" r="0.9" fill="#4C9BEA"/>
<circle cx="106.8" cy="131.2" r="0.9" fill="#4C9BEA"/>
<circle cx="107.2" cy="136.7" r="0.9" fill="#4C9BEA"/>
<circle cx="106.9" cy="133.6" r="0.9" fill="#4C9BEA"/>
<circle cx="109.1" cy="134.3" r="0.9" fill="#4C9BEA"/>
<circle cx="106.9" cy="133.6" r="0.9" fill="#4C9BEA"/>
<circle cx="109.4" cy="132.3" r="0.9" fill="#4C9BEA"/>
<circle cx="107.4" cy="131.4" r="0.9" fill="#4C9BEA"/>
<circle cx="108.6" cy="130.6" r="0.9" fill="#4C9BEA"/>
<circle cx="107.8" cy="135.4" r="0.9" fill="#4C9BEA"/>
<circle cx="111.9" cy="127.1" r="0.9" fill="#4C9BEA"/>
<circle cx="108.3" cy="138" r="0.9" fill="#4C9BEA"/>
<circle cx="110.4" cy="132.2" r="0.9" fill="#4C9BEA"/>
<circle cx="109.1" cy="128.6" r="0.9" fill="#4C9BEA"/>
<circle cx="111.4" cy="129.8" r="0.9" fill="#4C9BEA"/>
<circle cx="107.1" cy="129" r="0.9" fill="#4C9BEA"/>
<circle cx="105.3" cy="132.7" r="0.9" fill="#4C9BEA"/>
<circle cx="109.3" cy="128.8" r="0.9" fill="#4C9BEA"/>
<circle cx="111.2" cy="137.1" r="0.9" fill="#4C9BEA"/>
<circle cx="107.3" cy="128.5" r="0.9" fill="#4C9BEA"/>
<circle cx="111" cy="121.8" r="0.9" fill="#4C9BEA"/>
<circle cx="105.3" cy="128.7" r="0.9" fill="#4C9BEA"/>
<circle cx="111.1" cy="123" r="0.9" fill="#4C9BEA"/>
<circle cx="109.3" cy="131.8" r="0.9" fill="#4C9BEA"/>
<path d="M114.6,121.4 C114.8,121.7 115.3,122 116,123 C116.7,124 117.4,126.2 118.5,127.5 C119.6,128.8 121.4,129.7 122.5,130.5 C123.6,131.3 125,131.5 125.1,132.3 C125.2,133.1 124.2,134.2 123,135.5 C121.8,136.8 119.4,138.5 118,140 C116.6,141.5 115.2,143.6 114.6,144.3Z" fill="#79B8F0" stroke="#333" stroke-width="0.7"/>
<rect x="117.5" y="129" width="5" height="5" fill="#C8C8C8" stroke="#666" stroke-width="0.5"/>
<circle cx="118.5" cy="131.7" r="1.6" fill="#333"/>
<path d="M136.6,109.5h2M137.6,108.5v2" fill="none" stroke="#4B6FA8" stroke-width="0.75"/>
<path d="M136.4,104.3h2M137.4,103.3v2" fill="none" stroke="#4B6FA8" stroke-width="0.75"/>
<path d="M136.5,107.6h2M137.5,106.6v2" fill="none" stroke="#4B6FA8" stroke-width="0.75"/>
<path d="M142,103.3h2M143,102.3v2" fill="none" stroke="#4B6FA8" stroke-width="0.75"/>
<path d="M134.6,94.1h2M135.6,93.1v2" fill="none" stroke="#4B6FA8" stroke-width="0.75"/>
<path d="M137.7,108h2M138.7,107v2" fill="none" stroke="#4B6FA8" stroke-width="0.75"/>
<path d="M140.3,92.6h2M141.3,91.6v2" fill="none" stroke="#4B6FA8" stroke-width="0.75"/>
<path d="M138.9,98.7h2M139.9,97.7v2" fill="none" stroke="#4B6FA8" stroke-width="0.75"/>
<path d="M138.2,101.7h2M139.2,100.7v2" fill="none" stroke="#4B6FA8" stroke-width="0.75"/>
<path d="M138.2,105.3h2M139.2,104.3v2" fill="none" stroke="#4B6FA8" stroke-width="0.75"/>
<path d="M140.5,102.5h2M141.5,101.5v2" fill="none" stroke="#4B6FA8" stroke-width="0.75"/>
<path d="M140.3,102.3h2M141.3,101.3v2" fill="none" stroke="#4B6FA8" stroke-width="0.75"/>
<path d="M139.5,95.4h2M140.5,94.4v2" fill="none" stroke="#4B6FA8" stroke-width="0.75"/>
<path d="M136,92.3h2M137,91.3v2" fill="none" stroke="#4B6FA8" stroke-width="0.75"/>
<path d="M138.9,100.4h2M139.9,99.4v2" fill="none" stroke="#4B6FA8" stroke-width="0.75"/>
<path d="M142.3,95.7h2M143.3,94.7v2" fill="none" stroke="#4B6FA8" stroke-width="0.75"/>
<path d="M138.8,92.2h2M139.8,91.2v2" fill="none" stroke="#4B6FA8" stroke-width="0.75"/>
<path d="M140.9,92.4h2M141.9,91.4v2" fill="none" stroke="#4B6FA8" stroke-width="0.75"/>
<path d="M142.5,97.1h2M143.5,96.1v2" fill="none" stroke="#4B6FA8" stroke-width="0.75"/>
<path d="M134.3,88.9h2M135.3,87.9v2" fill="none" stroke="#4B6FA8" stroke-width="0.75"/>
<path d="M140.1,91.9h2M141.1,90.9v2" fill="none" stroke="#4B6FA8" stroke-width="0.75"/>
<path d="M138,90.2h2M139,89.2v2" fill="none" stroke="#4B6FA8" stroke-width="0.75"/>
<path d="M139.6,101.1h2M140.6,100.1v2" fill="none" stroke="#4B6FA8" stroke-width="0.75"/>
<path d="M142.1,102.4h2M143.1,101.4v2" fill="none" stroke="#4B6FA8" stroke-width="0.75"/>
<path d="M134.9,109.5h2M135.9,108.5v2" fill="none" stroke="#4B6FA8" stroke-width="0.75"/>
<path d="M134.6,91h2M135.6,90v2" fill="none" stroke="#4B6FA8" stroke-width="0.75"/>
<path d="M141,95.9h2M142,94.9v2" fill="none" stroke="#4B6FA8" stroke-width="0.75"/>
<path d="M139,105.5h2M140,104.5v2" fill="none" stroke="#4B6FA8" stroke-width="0.75"/>
<path d="M139.4,98.7h2M140.4,97.7v2" fill="none" stroke="#4B6FA8" stroke-width="0.75"/>
<path d="M141.2,98h2M142.2,97v2" fill="none" stroke="#4B6FA8" stroke-width="0.75"/>
<path d="M137,109.5h2M138,108.5v2" fill="none" stroke="#4B6FA8" stroke-width="0.75"/>
<path d="M136,98h2M137,97v2" fill="none" stroke="#4B6FA8" stroke-width="0.75"/>
<path d="M136.1,93.1h2M137.1,92.1v2" fill="none" stroke="#4B6FA8" stroke-width="0.75"/>
<path d="M136.9,92.1h2M137.9,91.1v2" fill="none" stroke="#4B6FA8" stroke-width="0.75"/>
<path d="M142.5,102h2M143.5,101v2" fill="none" stroke="#4B6FA8" stroke-width="0.75"/>
<path d="M140.6,101.8h2M141.6,100.8v2" fill="none" stroke="#4B6FA8" stroke-width="0.75"/>
<path d="M138.2,91.8h2M139.2,90.8v2" fill="none" stroke="#4B6FA8" stroke-width="0.75"/>
<path d="M136.6,94.1h2M137.6,93.1v2" fill="none" stroke="#4B6FA8" stroke-width="0.75"/>
<path d="M139.3,103.2h2M140.3,102.2v2" fill="none" stroke="#4B6FA8" stroke-width="0.75"/>
<path d="M138.8,103.5h2M139.8,102.5v2" fill="none" stroke="#4B6FA8" stroke-width="0.75"/>
<path d="M135.5,96.1h2M136.5,95.1v2" fill="none" stroke="#4B6FA8" stroke-width="0.75"/>
<path d="M142.4,103.7h2M143.4,102.7v2" fill="none" stroke="#4B6FA8" stroke-width="0.75"/>
<path d="M140.3,103.4h2M141.3,102.4v2" fill="none" stroke="#4B6FA8" stroke-width="0.75"/>
<path d="M140.1,89.3h2M141.1,88.3v2" fill="none" stroke="#4B6FA8" stroke-width="0.75"/>
<path d="M134.2,98.1h2M135.2,97.1v2" fill="none" stroke="#4B6FA8" stroke-width="0.75"/>
<path d="M140.7,102.5h2M141.7,101.5v2" fill="none" stroke="#4B6FA8" stroke-width="0.75"/>
<path d="M142.2,96.6h2M143.2,95.6v2" fill="none" stroke="#4B6FA8" stroke-width="0.75"/>
<path d="M139.1,87.2h2M140.1,86.2v2" fill="none" stroke="#4B6FA8" stroke-width="0.75"/>
<path d="M137.1,98.3h2M138.1,97.3v2" fill="none" stroke="#4B6FA8" stroke-width="0.75"/>
<path d="M141.3,104.5h2M142.3,103.5v2" fill="none" stroke="#4B6FA8" stroke-width="0.75"/>
<path d="M135.5,109.5h2M136.5,108.5v2" fill="none" stroke="#4B6FA8" stroke-width="0.75"/>
<path d="M140.9,86.9h2M141.9,85.9v2" fill="none" stroke="#4B6FA8" stroke-width="0.75"/>
<path d="M136.6,109.5h2M137.6,108.5v2" fill="none" stroke="#4B6FA8" stroke-width="0.75"/>
<path d="M141.2,93.2h2M142.2,92.2v2" fill="none" stroke="#4B6FA8" stroke-width="0.75"/>
<path d="M135.1,105.7h2M136.1,104.7v2" fill="none" stroke="#4B6FA8" stroke-width="0.75"/>
<path d="M140.9,107.4h2M141.9,106.4v2" fill="none" stroke="#4B6FA8" stroke-width="0.75"/>
<path d="M136.4,105.9h2M137.4,104.9v2" fill="none" stroke="#4B6FA8" stroke-width="0.75"/>
<path d="M135.5,100.9h2M136.5,99.9v2" fill="none" stroke="#4B6FA8" stroke-width="0.75"/>
<path d="M140.4,93h2M141.4,92v2" fill="none" stroke="#4B6FA8" stroke-width="0.75"/>
<path d="M141.8,103.8h2M142.8,102.8v2" fill="none" stroke="#4B6FA8" stroke-width="0.75"/>
<path d="M137.6,95.7h2M138.6,94.7v2" fill="none" stroke="#4B6FA8" stroke-width="0.75"/>
<path d="M138.4,86h2M139.4,85v2" fill="none" stroke="#4B6FA8" stroke-width="0.75"/>
<path d="M138.5,109.5h2M139.5,108.5v2" fill="none" stroke="#4B6FA8" stroke-width="0.75"/>
<path d="M136,104.2h2M137,103.2v2" fill="none" stroke="#4B6FA8" stroke-width="0.75"/>
<path d="M138.7,109.5h2M139.7,108.5v2" fill="none" stroke="#4B6FA8" stroke-width="0.75"/>
<path d="M138.4,94.5h2M139.4,93.5v2" fill="none" stroke="#4B6FA8" stroke-width="0.75"/>
<path d="M138.5,108.8h2M139.5,107.8v2" fill="none" stroke="#4B6FA8" stroke-width="0.75"/>
<path d="M138.7,109.5h2M139.7,108.5v2" fill="none" stroke="#4B6FA8" stroke-width="0.75"/>
<path d="M139.2,109.3h2M140.2,108.3v2" fill="none" stroke="#4B6FA8" stroke-width="0.75"/>
<path d="M141.2,99.9h2M142.2,98.9v2" fill="none" stroke="#4B6FA8" stroke-width="0.75"/>
<path d="M140.1,92.8h2M141.1,91.8v2" fill="none" stroke="#4B6FA8" stroke-width="0.75"/>
<path d="M140.3,98.9h2M141.3,97.9v2" fill="none" stroke="#4B6FA8" stroke-width="0.75"/>
<path d="M140.5,86.8h2M141.5,85.8v2" fill="none" stroke="#4B6FA8" stroke-width="0.75"/>
<path d="M135.9,89.8h2M136.9,88.8v2" fill="none" stroke="#4B6FA8" stroke-width="0.75"/>
<path d="M141.6,100.6h2M142.6,99.6v2" fill="none" stroke="#4B6FA8" stroke-width="0.75"/>
<path d="M140.9,94.1h2M141.9,93.1v2" fill="none" stroke="#4B6FA8" stroke-width="0.75"/>
<path d="M138.1,99h2M139.1,98v2" fill="none" stroke="#4B6FA8" stroke-width="0.75"/>
<path d="M139.9,99.3h2M140.9,98.3v2" fill="none" stroke="#4B6FA8" stroke-width="0.75"/>
<path d="M140.6,109.5h2M141.6,108.5v2" fill="none" stroke="#4B6FA8" stroke-width="0.75"/>
<path d="M139.4,107.8h2M140.4,106.8v2" fill="none" stroke="#4B6FA8" stroke-width="0.75"/>
<path d="M138.3,99.7h2M139.3,98.7v2" fill="none" stroke="#4B6FA8" stroke-width="0.75"/>
<path d="M136.9,107.3h2M137.9,106.3v2" fill="none" stroke="#4B6FA8" stroke-width="0.75"/>
<path d="M134.3,95.3h2M135.3,94.3v2" fill="none" stroke="#4B6FA8" stroke-width="0.75"/>
<path d="M135.4,98h2M136.4,97v2" fill="none" stroke="#4B6FA8" stroke-width="0.75"/>
<path d="M138.9,105.5h2M139.9,104.5v2" fill="none" stroke="#4B6FA8" stroke-width="0.75"/>
<path d="M138.8,92.6h2M139.8,91.6v2" fill="none" stroke="#4B6FA8" stroke-width="0.75"/>
<path d="M139.1,98.3h2M140.1,97.3v2" fill="none" stroke="#4B6FA8" stroke-width="0.75"/>
<path d="M140.6,92.1h2M141.6,91.1v2" fill="none" stroke="#4B6FA8" stroke-width="0.75"/>
<path d="M134.5,100.7h2M135.5,99.7v2" fill="none" stroke="#4B6FA8" stroke-width="0.75"/>
<path d="M142,109.5h2M143,108.5v2" fill="none" stroke="#4B6FA8" stroke-width="0.75"/>
<path d="M140.9,95.5h2M141.9,94.5v2" fill="none" stroke="#4B6FA8" stroke-width="0.75"/>
<path d="M137,101.4h2M138,100.4v2" fill="none" stroke="#4B6FA8" stroke-width="0.75"/>
<path d="M137.6,94.6h2M138.6,93.6v2" fill="none" stroke="#4B6FA8" stroke-width="0.75"/>
<path d="M140.2,93.1h2M141.2,92.1v2" fill="none" stroke="#4B6FA8" stroke-width="0.75"/>
<path d="M134.6,92.6h2M135.6,91.6v2" fill="none" stroke="#4B6FA8" stroke-width="0.75"/>
<path d="M139.1,108.7h2M140.1,107.7v2" fill="none" stroke="#4B6FA8" stroke-width="0.75"/>
<path d="M137.5,109.5h2M138.5,108.5v2" fill="none" stroke="#4B6FA8" stroke-width="0.75"/>
<path d="M141.8,102.9h2M142.8,101.9v2" fill="none" stroke="#4B6FA8" stroke-width="0.75"/>
<path d="M135,95.7h2M136,94.7v2" fill="none" stroke="#4B6FA8" stroke-width="0.75"/>
<path d="M141.7,104.2h2M142.7,103.2v2" fill="none" stroke="#4B6FA8" stroke-width="0.75"/>
<path d="M139.3,98h2M140.3,97v2" fill="none" stroke="#4B6FA8" stroke-width="0.75"/>
<path d="M135.1,104.8h2M136.1,103.8v2" fill="none" stroke="#4B6FA8" stroke-width="0.75"/>
<path d="M134.6,101.7h2M135.6,100.7v2" fill="none" stroke="#4B6FA8" stroke-width="0.75"/>
<path d="M134.9,101.7h2M135.9,100.7v2" fill="none" stroke="#4B6FA8" stroke-width="0.75"/>
<path d="M135.6,103.6h2M136.6,102.6v2" fill="none" stroke="#4B6FA8" stroke-width="0.75"/>
<path d="M140.6,96.5h2M141.6,95.5v2" fill="none" stroke="#4B6FA8" stroke-width="0.75"/>
<path d="M142.3,97.6h2M143.3,96.6v2" fill="none" stroke="#4B6FA8" stroke-width="0.75"/>
<path d="M138.8,89.7h2M139.8,88.7v2" fill="none" stroke="#4B6FA8" stroke-width="0.75"/>
<path d="M142.1,97.3h2M143.1,96.3v2" fill="none" stroke="#4B6FA8" stroke-width="0.75"/>
<path d="M134.4,91.5h2M135.4,90.5v2" fill="none" stroke="#4B6FA8" stroke-width="0.75"/>
<path d="M142.5,99.1h2M143.5,98.1v2" fill="none" stroke="#4B6FA8" stroke-width="0.75"/>
<path d="M139.8,94.3h2M140.8,93.3v2" fill="none" stroke="#4B6FA8" stroke-width="0.75"/>
<path d="M140.9,100.6h2M141.9,99.6v2" fill="none" stroke="#4B6FA8" stroke-width="0.75"/>
<path d="M142.5,102.7h2M143.5,101.7v2" fill="none" stroke="#4B6FA8" stroke-width="0.75"/>
<path d="M138.4,91.5h2M139.4,90.5v2" fill="none" stroke="#4B6FA8" stroke-width="0.75"/>
<path d="M142,95.1h2M143,94.1v2" fill="none" stroke="#4B6FA8" stroke-width="0.75"/>
<path d="M135,94.3h2M136,93.3v2" fill="none" stroke="#4B6FA8" stroke-width="0.75"/>
<path d="M136.8,104.5h2M137.8,103.5v2" fill="none" stroke="#4B6FA8" stroke-width="0.75"/>
<path d="M139.5,109.5h2M140.5,108.5v2" fill="none" stroke="#4B6FA8" stroke-width="0.75"/>
<path d="M135.4,105.1h2M136.4,104.1v2" fill="none" stroke="#4B6FA8" stroke-width="0.75"/>
<path d="M135.8,97.9h2M136.8,96.9v2" fill="none" stroke="#4B6FA8" stroke-width="0.75"/>
<path d="M139.8,108.8h2M140.8,107.8v2" fill="none" stroke="#4B6FA8" stroke-width="0.75"/>
<path d="M135.4,90.9h2M136.4,89.9v2" fill="none" stroke="#4B6FA8" stroke-width="0.75"/>
<path d="M134.7,109h2M135.7,108v2" fill="none" stroke="#4B6FA8" stroke-width="0.75"/>
<path d="M137.3,96.1h2M138.3,95.1v2" fill="none" stroke="#4B6FA8" stroke-width="0.75"/>
<path d="M139.6,86h2M140.6,85v2" fill="none" stroke="#4B6FA8" stroke-width="0.75"/>
<path d="M134.9,109.5h2M135.9,108.5v2" fill="none" stroke="#4B6FA8" stroke-width="0.75"/>
<path d="M134.6,109.5h2M135.6,108.5v2" fill="none" stroke="#4B6FA8" stroke-width="0.75"/>
<path d="M139.6,93.8h2M140.6,92.8v2" fill="none" stroke="#4B6FA8" stroke-width="0.75"/>
<path d="M141.9,101h2M142.9,100v2" fill="none" stroke="#4B6FA8" stroke-width="0.75"/>
<path d="M135.2,98.7h2M136.2,97.7v2" fill="none" stroke="#4B6FA8" stroke-width="0.75"/>
<path d="M136.9,100.6h2M137.9,99.6v2" fill="none" stroke="#4B6FA8" stroke-width="0.75"/>
<path d="M140.6,91.1h2M141.6,90.1v2" fill="none" stroke="#4B6FA8" stroke-width="0.75"/>
<path d="M137.8,95.9h2M138.8,94.9v2" fill="none" stroke="#4B6FA8" stroke-width="0.75"/>
<path d="M140,102.8h2M141,101.8v2" fill="none" stroke="#4B6FA8" stroke-width="0.75"/>
<path d="M134.8,101.3h2M135.8,100.3v2" fill="none" stroke="#4B6FA8" stroke-width="0.75"/>
<path d="M139.7,107.2h2M140.7,106.2v2" fill="none" stroke="#4B6FA8" stroke-width="0.75"/>
<path d="M140.9,100.5h2M141.9,99.5v2" fill="none" stroke="#4B6FA8" stroke-width="0.75"/>
<path d="M142.2,109.5h2M143.2,108.5v2" fill="none" stroke="#4B6FA8" stroke-width="0.75"/>
<path d="M139.7,95.7h2M140.7,94.7v2" fill="none" stroke="#4B6FA8" stroke-width="0.75"/>
<path d="M134.2,101.6h2M135.2,100.6v2" fill="none" stroke="#4B6FA8" stroke-width="0.75"/>
<path d="M140.7,88.5h2M141.7,87.5v2" fill="none" stroke="#4B6FA8" stroke-width="0.75"/>
<path d="M138.7,92.5h2M139.7,91.5v2" fill="none" stroke="#4B6FA8" stroke-width="0.75"/>
<path d="M134.3,108h2M135.3,107v2" fill="none" stroke="#4B6FA8" stroke-width="0.75"/>
<path d="M142.5,94.3h2M143.5,93.3v2" fill="none" stroke="#4B6FA8" stroke-width="0.75"/>
<path d="M140.1,103.2h2M141.1,102.2v2" fill="none" stroke="#4B6FA8" stroke-width="0.75"/>
<path d="M135.6,99.6h2M136.6,98.6v2" fill="none" stroke="#4B6FA8" stroke-width="0.75"/>
<path d="M141.8,93.7h2M142.8,92.7v2" fill="none" stroke="#4B6FA8" stroke-width="0.75"/>
<path d="M134.7,97.9h2M135.7,96.9v2" fill="none" stroke="#4B6FA8" stroke-width="0.75"/>
<path d="M135.5,96.9h2M136.5,95.9v2" fill="none" stroke="#4B6FA8" stroke-width="0.75"/>
<path d="M141.4,97.1h2M142.4,96.1v2" fill="none" stroke="#4B6FA8" stroke-width="0.75"/>
<path d="M137.6,104.5h2M138.6,103.5v2" fill="none" stroke="#4B6FA8" stroke-width="0.75"/>
<path d="M137.9,103.9h2M138.9,102.9v2" fill="none" stroke="#4B6FA8" stroke-width="0.75"/>
<path d="M136.7,96.5h2M137.7,95.5v2" fill="none" stroke="#4B6FA8" stroke-width="0.75"/>
<path d="M140,94.6h2M141,93.6v2" fill="none" stroke="#4B6FA8" stroke-width="0.75"/>
<path d="M139.3,101.7h2M140.3,100.7v2" fill="none" stroke="#4B6FA8" stroke-width="0.75"/>
<path d="M140.6,99.4h2M141.6,98.4v2" fill="none" stroke="#4B6FA8" stroke-width="0.75"/>
<path d="M140.1,106.2h2M141.1,105.2v2" fill="none" stroke="#4B6FA8" stroke-width="0.75"/>
<path d="M141.1,109.5h2M142.1,108.5v2" fill="none" stroke="#4B6FA8" stroke-width="0.75"/>
<path d="M134.9,105.1h2M135.9,104.1v2" fill="none" stroke="#4B6FA8" stroke-width="0.75"/>
<path d="M135.1,99.8h2M136.1,98.8v2" fill="none" stroke="#4B6FA8" stroke-width="0.75"/>
<path d="M139.5,99h2M140.5,98v2" fill="none" stroke="#4B6FA8" stroke-width="0.75"/>
<path d="M136.7,94.9h2M137.7,93.9v2" fill="none" stroke="#4B6FA8" stroke-width="0.75"/>
<path d="M138.4,94.6h2M139.4,93.6v2" fill="none" stroke="#4B6FA8" stroke-width="0.75"/>
<path d="M140.2,94h2M141.2,93v2" fill="none" stroke="#4B6FA8" stroke-width="0.75"/>
<path d="M139.6,97.6h2M140.6,96.6v2" fill="none" stroke="#4B6FA8" stroke-width="0.75"/>
<path d="M134.4,97.4h2M135.4,96.4v2" fill="none" stroke="#4B6FA8" stroke-width="0.75"/>
<path d="M139.7,104.5h2M140.7,103.5v2" fill="none" stroke="#4B6FA8" stroke-width="0.75"/>
<path d="M137.7,97.6h2M138.7,96.6v2" fill="none" stroke="#4B6FA8" stroke-width="0.75"/>
<path d="M134.6,98.8h2M135.6,97.8v2" fill="none" stroke="#4B6FA8" stroke-width="0.75"/>
<path d="M140.1,92.7h2M141.1,91.7v2" fill="none" stroke="#4B6FA8" stroke-width="0.75"/>
<path d="M135.7,109.5h2M136.7,108.5v2" fill="none" stroke="#4B6FA8" stroke-width="0.75"/>
<path d="M141.6,103h2M142.6,102v2" fill="none" stroke="#4B6FA8" stroke-width="0.75"/>
<path d="M136.4,109.5h2M137.4,108.5v2" fill="none" stroke="#4B6FA8" stroke-width="0.75"/>
<path d="M135.7,104.8h2M136.7,103.8v2" fill="none" stroke="#4B6FA8" stroke-width="0.75"/>
<path d="M135.5,108.9h2M136.5,107.9v2" fill="none" stroke="#4B6FA8" stroke-width="0.75"/>
<path d="M134.3,98.5h2M135.3,97.5v2" fill="none" stroke="#4B6FA8" stroke-width="0.75"/>
<path d="M136.6,104.3h2M137.6,103.3v2" fill="none" stroke="#4B6FA8" stroke-width="0.75"/>
<path d="M134.3,109.5h2M135.3,108.5v2" fill="none" stroke="#4B6FA8" stroke-width="0.75"/>
<path d="M140.2,92.7h2M141.2,91.7v2" fill="none" stroke="#4B6FA8" stroke-width="0.75"/>
<path d="M138.2,107.1h2M139.2,106.1v2" fill="none" stroke="#4B6FA8" stroke-width="0.75"/>
<path d="M140.8,109.5h2M141.8,108.5v2" fill="none" stroke="#4B6FA8" stroke-width="0.75"/>
<path d="M141.9,102.5h2M142.9,101.5v2" fill="none" stroke="#4B6FA8" stroke-width="0.75"/>
<path d="M138.9,104.6h2M139.9,103.6v2" fill="none" stroke="#4B6FA8" stroke-width="0.75"/>
<path d="M136.5,107.7h2M137.5,106.7v2" fill="none" stroke="#4B6FA8" stroke-width="0.75"/>
<path d="M136,96h2M137,95v2" fill="none" stroke="#4B6FA8" stroke-width="0.75"/>
<path d="M142.5,102.5h2M143.5,101.5v2" fill="none" stroke="#4B6FA8" stroke-width="0.75"/>
<path d="M134.6,94.7h2M135.6,93.7v2" fill="none" stroke="#4B6FA8" stroke-width="0.75"/>
<path d="M140.5,95.9h2M141.5,94.9v2" fill="none" stroke="#4B6FA8" stroke-width="0.75"/>
<path d="M140.1,96.2h2M141.1,95.2v2" fill="none" stroke="#4B6FA8" stroke-width="0.75"/>
<path d="M135.5,99.1h2M136.5,98.1v2" fill="none" stroke="#4B6FA8" stroke-width="0.75"/>
<path d="M135,100.9h2M136,99.9v2" fill="none" stroke="#4B6FA8" stroke-width="0.75"/>
<path d="M136.3,102.8h2M137.3,101.8v2" fill="none" stroke="#4B6FA8" stroke-width="0.75"/>
<path d="M139.8,91.3h2M140.8,90.3v2" fill="none" stroke="#4B6FA8" stroke-width="0.75"/>
<path d="M138.7,109.5h2M139.7,108.5v2" fill="none" stroke="#4B6FA8" stroke-width="0.75"/>
<path d="M135.5,107.1h2M136.5,106.1v2" fill="none" stroke="#4B6FA8" stroke-width="0.75"/>
<path d="M139.6,104.5h2M140.6,103.5v2" fill="none" stroke="#4B6FA8" stroke-width="0.75"/>
<path d="M135.8,97.8h2M136.8,96.8v2" fill="none" stroke="#4B6FA8" stroke-width="0.75"/>
<path d="M136,99.5h2M137,98.5v2" fill="none" stroke="#4B6FA8" stroke-width="0.75"/>
<path d="M138.6,103.4h2M139.6,102.4v2" fill="none" stroke="#4B6FA8" stroke-width="0.75"/>
<path d="M135,102.5h2M136,101.5v2" fill="none" stroke="#4B6FA8" stroke-width="0.75"/>
<path d="M139.3,89.7h2M140.3,88.7v2" fill="none" stroke="#4B6FA8" stroke-width="0.75"/>
<path d="M136.2,104.6h2M137.2,103.6v2" fill="none" stroke="#4B6FA8" stroke-width="0.75"/>
<path d="M137.2,109.5h2M138.2,108.5v2" fill="none" stroke="#4B6FA8" stroke-width="0.75"/>
<path d="M139.8,88.6h2M140.8,87.6v2" fill="none" stroke="#4B6FA8" stroke-width="0.75"/>
<path d="M138.1,106.1h2M139.1,105.1v2" fill="none" stroke="#4B6FA8" stroke-width="0.75"/>
<path d="M137.4,102.3h2M138.4,101.3v2" fill="none" stroke="#4B6FA8" stroke-width="0.75"/>
<path d="M138,99.3h2M139,98.3v2" fill="none" stroke="#4B6FA8" stroke-width="0.75"/>
<path d="M141.7,108.4h2M142.7,107.4v2" fill="none" stroke="#4B6FA8" stroke-width="0.75"/>
<path d="M134.2,92.7h2M135.2,91.7v2" fill="none" stroke="#4B6FA8" stroke-width="0.75"/>
<path d="M134.4,101h2M135.4,100v2" fill="none" stroke="#4B6FA8" stroke-width="0.75"/>
<path d="M142.3,109h2M143.3,108v2" fill="none" stroke="#4B6FA8" stroke-width="0.75"/>
<path d="M134.6,98.8h2M135.6,97.8v2" fill="none" stroke="#4B6FA8" stroke-width="0.75"/>
<path d="M138.1,97.4h2M139.1,96.4v2" fill="none" stroke="#4B6FA8" stroke-width="0.75"/>
<path d="M141.5,100.7h2M142.5,99.7v2" fill="none" stroke="#4B6FA8" stroke-width="0.75"/>
<path d="M135.6,97.3h2M136.6,96.3v2" fill="none" stroke="#4B6FA8" stroke-width="0.75"/>
<path d="M138.9,109.5h2M139.9,108.5v2" fill="none" stroke="#4B6FA8" stroke-width="0.75"/>
<path d="M136.5,94.4h2M137.5,93.4v2" fill="none" stroke="#4B6FA8" stroke-width="0.75"/>
<path d="M135.6,105.4h2M136.6,104.4v2" fill="none" stroke="#4B6FA8" stroke-width="0.75"/>
<path d="M138,92.3h2M139,91.3v2" fill="none" stroke="#4B6FA8" stroke-width="0.75"/>
<path d="M142.2,104.1h2M143.2,103.1v2" fill="none" stroke="#4B6FA8" stroke-width="0.75"/>
<path d="M135.6,99.4h2M136.6,98.4v2" fill="none" stroke="#4B6FA8" stroke-width="0.75"/>
<path d="M136.7,86h2M137.7,85v2" fill="none" stroke="#4B6FA8" stroke-width="0.75"/>
<path d="M134.9,100h2M135.9,99v2" fill="none" stroke="#4B6FA8" stroke-width="0.75"/>
<path d="M140.3,93.4h2M141.3,92.4v2" fill="none" stroke="#4B6FA8" stroke-width="0.75"/>
<path d="M135.9,97.3h2M136.9,96.3v2" fill="none" stroke="#4B6FA8" stroke-width="0.75"/>
<path d="M135.2,109.5h2M136.2,108.5v2" fill="none" stroke="#4B6FA8" stroke-width="0.75"/>
<path d="M139.6,93.1h2M140.6,92.1v2" fill="none" stroke="#4B6FA8" stroke-width="0.75"/>
<path d="M139.1,93.5h2M140.1,92.5v2" fill="none" stroke="#4B6FA8" stroke-width="0.75"/>
<path d="M139.8,108.9h2M140.8,107.9v2" fill="none" stroke="#4B6FA8" stroke-width="0.75"/>
<path d="M142.6,100.7h2M143.6,99.7v2" fill="none" stroke="#4B6FA8" stroke-width="0.75"/>
<path d="M140.6,109.5h2M141.6,108.5v2" fill="none" stroke="#4B6FA8" stroke-width="0.75"/>
<path d="M139.8,102h2M140.8,101v2" fill="none" stroke="#4B6FA8" stroke-width="0.75"/>
<path d="M141.7,94.6h2M142.7,93.6v2" fill="none" stroke="#4B6FA8" stroke-width="0.75"/>
<path d="M136.1,99.6h2M137.1,98.6v2" fill="none" stroke="#4B6FA8" stroke-width="0.75"/>
<path d="M139,107.6h2M140,106.6v2" fill="none" stroke="#4B6FA8" stroke-width="0.75"/>
<path d="M137.8,105.8h2M138.8,104.8v2" fill="none" stroke="#4B6FA8" stroke-width="0.75"/>
<path d="M140.2,100h2M141.2,99v2" fill="none" stroke="#4B6FA8" stroke-width="0.75"/>
<path d="M139.5,100.3h2M140.5,99.3v2" fill="none" stroke="#4B6FA8" stroke-width="0.75"/>
<path d="M136.2,99.3h2M137.2,98.3v2" fill="none" stroke="#4B6FA8" stroke-width="0.75"/>
<path d="M138.6,96.4h2M139.6,95.4v2" fill="none" stroke="#4B6FA8" stroke-width="0.75"/>
<path d="M137.5,109.5h2M138.5,108.5v2" fill="none" stroke="#4B6FA8" stroke-width="0.75"/>
<path d="M139,100h2M140,99v2" fill="none" stroke="#4B6FA8" stroke-width="0.75"/>
<path d="M137.9,93h2M138.9,92v2" fill="none" stroke="#4B6FA8" stroke-width="0.75"/>
<path d="M135,97.1h2M136,96.1v2" fill="none" stroke="#4B6FA8" stroke-width="0.75"/>
<path d="M140.3,104.5h2M141.3,103.5v2" fill="none" stroke="#4B6FA8" stroke-width="0.75"/>
<path d="M138.2,104h2M139.2,103v2" fill="none" stroke="#4B6FA8" stroke-width="0.75"/>
<path d="M136.8,99.2h2M137.8,98.2v2" fill="none" stroke="#4B6FA8" stroke-width="0.75"/>
<path d="M141.9,95.9h2M142.9,94.9v2" fill="none" stroke="#4B6FA8" stroke-width="0.75"/>
<path d="M134.4,100.1h2M135.4,99.1v2" fill="none" stroke="#4B6FA8" stroke-width="0.75"/>
<path d="M138.4,89.7h2M139.4,88.7v2" fill="none" stroke="#4B6FA8" stroke-width="0.75"/>
<path d="M140.5,92h2M141.5,91v2" fill="none" stroke="#4B6FA8" stroke-width="0.75"/>
<path d="M136.1,104.9h2M137.1,103.9v2" fill="none" stroke="#4B6FA8" stroke-width="0.75"/>
<path d="M135.7,97h2M136.7,96v2" fill="none" stroke="#4B6FA8" stroke-width="0.75"/>
<path d="M137.2,102.3h2M138.2,101.3v2" fill="none" stroke="#4B6FA8" stroke-width="0.75"/>
<path d="M134.8,107.5h2M135.8,106.5v2" fill="none" stroke="#4B6FA8" stroke-width="0.75"/>
<path d="M141.8,104h2M142.8,103v2" fill="none" stroke="#4B6FA8" stroke-width="0.75"/>
<path d="M138.1,100.1h2M139.1,99.1v2" fill="none" stroke="#4B6FA8" stroke-width="0.75"/>
<path d="M136.3,109.5h2M137.3,108.5v2" fill="none" stroke="#4B6FA8" stroke-width="0.75"/>
<path d="M134.8,104.1h2M135.8,103.1v2" fill="none" stroke="#4B6FA8" stroke-width="0.75"/>
<path d="M140,71.4h2M141,70.4v2" fill="none" stroke="#4B6FA8" stroke-width="0.75"/>
<path d="M140.2,73.7h2M141.2,72.7v2" fill="none" stroke="#4B6FA8" stroke-width="0.75"/>
<path d="M142,48.9h2M143,47.9v2" fill="none" stroke="#4B6FA8" stroke-width="0.75"/>
<path d="M140.3,72.8h2M141.3,71.8v2" fill="none" stroke="#4B6FA8" stroke-width="0.75"/>
<path d="M141.8,53.2h2M142.8,52.2v2" fill="none" stroke="#4B6FA8" stroke-width="0.75"/>
<path d="M141.2,53.3h2M142.2,52.3v2" fill="none" stroke="#4B6FA8" stroke-width="0.75"/>
<path d="M141.4,47.3h2M142.4,46.3v2" fill="none" stroke="#4B6FA8" stroke-width="0.75"/>
<path d="M141.5,59.5h2M142.5,58.5v2" fill="none" stroke="#4B6FA8" stroke-width="0.75"/>
<path d="M141.2,42.9h2M142.2,41.9v2" fill="none" stroke="#4B6FA8" stroke-width="0.75"/>
<path d="M142.3,70.9h2M143.3,69.9v2" fill="none" stroke="#4B6FA8" stroke-width="0.75"/>
<path d="M139.5,74.9h2M140.5,73.9v2" fill="none" stroke="#4B6FA8" stroke-width="0.75"/>
<path d="M140.7,76.1h2M141.7,75.1v2" fill="none" stroke="#4B6FA8" stroke-width="0.75"/>
<path d="M141.5,47.7h2M142.5,46.7v2" fill="none" stroke="#4B6FA8" stroke-width="0.75"/>
<path d="M141.4,70.2h2M142.4,69.2v2" fill="none" stroke="#4B6FA8" stroke-width="0.75"/>
<path d="M140.7,78.9h2M141.7,77.9v2" fill="none" stroke="#4B6FA8" stroke-width="0.75"/>
<path d="M141.4,43.6h2M142.4,42.6v2" fill="none" stroke="#4B6FA8" stroke-width="0.75"/>
<path d="M142.5,50.5h2M143.5,49.5v2" fill="none" stroke="#4B6FA8" stroke-width="0.75"/>
<path d="M142.2,53.8h2M143.2,52.8v2" fill="none" stroke="#4B6FA8" stroke-width="0.75"/>
<path d="M141.9,62.3h2M142.9,61.3v2" fill="none" stroke="#4B6FA8" stroke-width="0.75"/>
<path d="M141.3,49.6h2M142.3,48.6v2" fill="none" stroke="#4B6FA8" stroke-width="0.75"/>
<path d="M142.2,65.7h2M143.2,64.7v2" fill="none" stroke="#4B6FA8" stroke-width="0.75"/>
<path d="M141.4,57.1h2M142.4,56.1v2" fill="none" stroke="#4B6FA8" stroke-width="0.75"/>
<path d="M141.6,70.8h2M142.6,69.8v2" fill="none" stroke="#4B6FA8" stroke-width="0.75"/>
<path d="M142.1,65.4h2M143.1,64.4v2" fill="none" stroke="#4B6FA8" stroke-width="0.75"/>
<path d="M140.4,72.2h2M141.4,71.2v2" fill="none" stroke="#4B6FA8" stroke-width="0.75"/>
<path d="M141.6,52.8h2M142.6,51.8v2" fill="none" stroke="#4B6FA8" stroke-width="0.75"/>
<path d="M145.1,40.7 C145.3,42.4 147,54.7 147.5,58 C148,61.3 149.9,71.2 150.5,74 C151.1,76.8 153.2,84 153.8,86 C154.4,88 156.2,92.8 156.5,94 C156.8,95.2 157.2,97 157.1,98 C157,99 156.2,102.8 155.5,104 C154.8,105.2 151.5,108.9 150.5,110 C149.5,111.1 145.6,114.8 145.1,115.3Z" fill="#4A70A9" stroke="#333" stroke-width="0.7"/>
<line x1="145.1" y1="40.7" x2="145.1" y2="115.3" stroke="#333" stroke-width="0.7"/>
<line x1="152" y1="76.3" x2="152" y2="85.4" stroke="#888" stroke-width="0.6"/>
<line x1="150.5" y1="76.3" x2="153.5" y2="76.3" stroke="#888" stroke-width="0.6"/>
<rect x="149.5" y="85.4" width="5" height="16.4" fill="#C8C8C8" stroke="#666" stroke-width="0.5"/>
<circle cx="149.1" cy="91.5" r="1.6" fill="#333"/>
<line x1="194.9" y1="16.3" x2="194.9" y2="150.5" stroke="#666" stroke-width="0.8"/>
<line x1="194.9" y1="150.5" x2="292.5" y2="150.5" stroke="#666" stroke-width="0.8"/>
<line x1="191.9" y1="23.3" x2="194.9" y2="23.3" stroke="#666" stroke-width="0.8"/>
<text x="188" y="25.9" text-anchor="end" textLength="4.6" lengthAdjust="spacingAndGlyphs" font-size="9">2</text>
<line x1="191.9" y1="83" x2="194.9" y2="83" stroke="#666" stroke-width="0.8"/>
<text x="188" y="85.6" text-anchor="end" textLength="4.6" lengthAdjust="spacingAndGlyphs" font-size="9">0</text>
<line x1="191.9" y1="142.7" x2="194.9" y2="142.7" stroke="#666" stroke-width="0.8"/>
<text x="188" y="145.3" text-anchor="end" textLength="7.9" lengthAdjust="spacingAndGlyphs" font-size="9">−2</text>
<line x1="218.7" y1="150.5" x2="218.7" y2="153.5" stroke="#666" stroke-width="0.8"/>
<text x="218.7" y="161.6" text-anchor="middle" textLength="9.2" lengthAdjust="spacingAndGlyphs" font-size="9">60</text>
<line x1="255.6" y1="150.5" x2="255.6" y2="153.5" stroke="#666" stroke-width="0.8"/>
<text x="255.6" y="161.6" text-anchor="middle" textLength="9.2" lengthAdjust="spacingAndGlyphs" font-size="9">75</text>
<line x1="292.5" y1="150.5" x2="292.5" y2="153.5" stroke="#666" stroke-width="0.8"/>
<text x="292.5" y="161.6" text-anchor="middle" textLength="9.2" lengthAdjust="spacingAndGlyphs" font-size="9">90</text>
<text x="243.5" y="174" text-anchor="middle" textLength="37.7" lengthAdjust="spacingAndGlyphs" font-size="8.5">HR (bpm)</text>
<text x="0" y="3.1" text-anchor="middle" textLength="91.5" lengthAdjust="spacingAndGlyphs" font-size="8.5" transform="translate(173.5,82.7) rotate(-90)">Heart difference (bpm)</text>
<rect x="195.5" y="49.2" width="95.7" height="4.4" fill="#D9E7FA"/>
<rect x="195.5" y="111.8" width="95.7" height="4.4" fill="#D9E7FA"/>
<g fill="#A3A3A3" stroke="#2A2A2A" stroke-width="0.55"><circle cx="228.2" cy="91" r="1.65"/><circle cx="228.6" cy="75.1" r="1.65"/><circle cx="228.5" cy="59.7" r="1.65"/><circle cx="235.9" cy="87.8" r="1.65"/><circle cx="228.4" cy="103.3" r="1.65"/><circle cx="228.4" cy="66.7" r="1.65"/><circle cx="225.9" cy="97.3" r="1.65"/><circle cx="230.7" cy="89.3" r="1.65"/><circle cx="223.7" cy="79.5" r="1.65"/><circle cx="226" cy="82" r="1.65"/><circle cx="228.7" cy="90.7" r="1.65"/><circle cx="223.7" cy="93.4" r="1.65"/><circle cx="228.9" cy="86.2" r="1.65"/><circle cx="223.5" cy="83.4" r="1.65"/><circle cx="241.1" cy="94.7" r="1.65"/><circle cx="238.3" cy="97.2" r="1.65"/><circle cx="231.1" cy="94.3" r="1.65"/><circle cx="228.8" cy="93.9" r="1.65"/><circle cx="243.2" cy="71.4" r="1.65"/><circle cx="231" cy="78.3" r="1.65"/><circle cx="228.6" cy="84.2" r="1.65"/><circle cx="230.7" cy="84.4" r="1.65"/><circle cx="231" cy="70.5" r="1.65"/><circle cx="238.1" cy="75" r="1.65"/><circle cx="228.3" cy="89.6" r="1.65"/><circle cx="243.4" cy="62.1" r="1.65"/><circle cx="224" cy="103.9" r="1.65"/><circle cx="233.8" cy="60.9" r="1.65"/><circle cx="221" cy="80.1" r="1.65"/><circle cx="240.6" cy="89.7" r="1.65"/><circle cx="226.1" cy="73.9" r="1.65"/><circle cx="228.5" cy="66.2" r="1.65"/><circle cx="233.4" cy="65.5" r="1.65"/><circle cx="236.1" cy="60.6" r="1.65"/><circle cx="221.3" cy="91.9" r="1.65"/><circle cx="226.1" cy="89.4" r="1.65"/><circle cx="218.8" cy="70.5" r="1.65"/><circle cx="228.6" cy="105.6" r="1.65"/><circle cx="228.7" cy="79.7" r="1.65"/><circle cx="226.4" cy="60" r="1.65"/><circle cx="223.9" cy="86" r="1.65"/><circle cx="226.4" cy="98.9" r="1.65"/><circle cx="223.9" cy="94.2" r="1.65"/><circle cx="230.7" cy="85.6" r="1.65"/><circle cx="238.3" cy="95.8" r="1.65"/><circle cx="216.4" cy="89.5" r="1.65"/><circle cx="228.4" cy="57" r="1.65"/><circle cx="226.2" cy="88" r="1.65"/><circle cx="230.7" cy="82.9" r="1.65"/><circle cx="220.9" cy="102.2" r="1.65"/><circle cx="228.5" cy="110.2" r="1.65"/><circle cx="220.8" cy="75" r="1.65"/><circle cx="233.4" cy="85.8" r="1.65"/><circle cx="228.3" cy="68" r="1.65"/><circle cx="228.8" cy="94.9" r="1.65"/><circle cx="230.9" cy="80" r="1.65"/><circle cx="226" cy="82.3" r="1.65"/><circle cx="218.9" cy="109.1" r="1.65"/><circle cx="233.5" cy="103.4" r="1.65"/><circle cx="230.7" cy="74.2" r="1.65"/><circle cx="228.3" cy="97.7" r="1.65"/><circle cx="236" cy="89.8" r="1.65"/><circle cx="235.7" cy="106.6" r="1.65"/><circle cx="221" cy="93.2" r="1.65"/><circle cx="223.7" cy="92.8" r="1.65"/><circle cx="238.4" cy="89" r="1.65"/><circle cx="238.2" cy="93.3" r="1.65"/><circle cx="223.7" cy="84.9" r="1.65"/><circle cx="221.3" cy="76.5" r="1.65"/><circle cx="223.3" cy="108.7" r="1.65"/><circle cx="225.9" cy="69.7" r="1.65"/><circle cx="218.6" cy="84.5" r="1.65"/><circle cx="228.8" cy="72.4" r="1.65"/><circle cx="220.8" cy="113.5" r="1.65"/><circle cx="221" cy="106.4" r="1.65"/><circle cx="233.2" cy="106.7" r="1.65"/><circle cx="223.8" cy="64" r="1.65"/><circle cx="228.8" cy="83.1" r="1.65"/><circle cx="233.1" cy="67.1" r="1.65"/><circle cx="233.7" cy="74.4" r="1.65"/><circle cx="226.2" cy="103.3" r="1.65"/><circle cx="228.3" cy="86.2" r="1.65"/><circle cx="223.9" cy="102.1" r="1.65"/><circle cx="240.7" cy="84.6" r="1.65"/><circle cx="233.7" cy="77.7" r="1.65"/><circle cx="220.8" cy="110.3" r="1.65"/><circle cx="228.5" cy="64.7" r="1.65"/><circle cx="233.5" cy="87.6" r="1.65"/><circle cx="231.3" cy="87.5" r="1.65"/><circle cx="241.1" cy="69.4" r="1.65"/><circle cx="238.4" cy="107.2" r="1.65"/><circle cx="225.7" cy="75" r="1.65"/><circle cx="228.5" cy="77.8" r="1.65"/><circle cx="221.1" cy="80.8" r="1.65"/><circle cx="231.4" cy="91" r="1.65"/><circle cx="228.7" cy="97.6" r="1.65"/><circle cx="245.7" cy="75.5" r="1.65"/><circle cx="228.4" cy="87" r="1.65"/><circle cx="214" cy="84.2" r="1.65"/><circle cx="223.3" cy="66.6" r="1.65"/><circle cx="228.8" cy="69.4" r="1.65"/><circle cx="221.3" cy="101.6" r="1.65"/><circle cx="223.6" cy="60.1" r="1.65"/><circle cx="226.2" cy="116.2" r="1.65"/><circle cx="230.9" cy="81.1" r="1.65"/><circle cx="228.3" cy="86.6" r="1.65"/><circle cx="223.6" cy="84.1" r="1.65"/><circle cx="233.1" cy="85.3" r="1.65"/><circle cx="225.8" cy="69.8" r="1.65"/><circle cx="226" cy="90.2" r="1.65"/><circle cx="218.9" cy="78.9" r="1.65"/><circle cx="223.4" cy="75.7" r="1.65"/><circle cx="233.5" cy="94.6" r="1.65"/><circle cx="219.1" cy="98.5" r="1.65"/><circle cx="228.8" cy="66.8" r="1.65"/><circle cx="233.8" cy="86.8" r="1.65"/><circle cx="226.2" cy="91.9" r="1.65"/><circle cx="231.1" cy="93.9" r="1.65"/><circle cx="221.2" cy="67.3" r="1.65"/><circle cx="238.5" cy="67.5" r="1.65"/><circle cx="235.9" cy="65" r="1.65"/><circle cx="230.9" cy="81.6" r="1.65"/><circle cx="216" cy="86.5" r="1.65"/><circle cx="220.8" cy="61.4" r="1.65"/><circle cx="235.8" cy="78" r="1.65"/><circle cx="241" cy="98.9" r="1.65"/><circle cx="231" cy="61.4" r="1.65"/><circle cx="235.7" cy="90.9" r="1.65"/><circle cx="223.9" cy="75.5" r="1.65"/><circle cx="225.7" cy="66.2" r="1.65"/><circle cx="228.9" cy="66.9" r="1.65"/><circle cx="231.1" cy="80" r="1.65"/><circle cx="218.7" cy="64.7" r="1.65"/><circle cx="235.9" cy="116.4" r="1.65"/><circle cx="238.6" cy="110.1" r="1.65"/><circle cx="220.8" cy="93" r="1.65"/><circle cx="218.3" cy="79.5" r="1.65"/><circle cx="231" cy="92.3" r="1.65"/><circle cx="223.5" cy="101.8" r="1.65"/><circle cx="213.7" cy="109" r="1.65"/><circle cx="233.5" cy="82.3" r="1.65"/><circle cx="228.2" cy="86.1" r="1.65"/><circle cx="226.4" cy="68.5" r="1.65"/><circle cx="243.4" cy="90.1" r="1.65"/><circle cx="228.2" cy="62.1" r="1.65"/><circle cx="223.8" cy="62.4" r="1.65"/><circle cx="228.6" cy="87" r="1.65"/><circle cx="221.3" cy="87" r="1.65"/><circle cx="223.8" cy="106" r="1.65"/><circle cx="231.4" cy="104.5" r="1.65"/><circle cx="225.8" cy="87.8" r="1.65"/><circle cx="226.4" cy="90.6" r="1.65"/><circle cx="240.8" cy="98.1" r="1.65"/><circle cx="233.2" cy="88.8" r="1.65"/><circle cx="233.4" cy="103.9" r="1.65"/><circle cx="230.9" cy="63" r="1.65"/><circle cx="231.3" cy="72.8" r="1.65"/><circle cx="238.4" cy="104.2" r="1.65"/><circle cx="228.2" cy="101.2" r="1.65"/><circle cx="241" cy="88.8" r="1.65"/><circle cx="221.2" cy="97" r="1.65"/><circle cx="226.3" cy="81.6" r="1.65"/><circle cx="218.4" cy="98" r="1.65"/><circle cx="226.3" cy="88" r="1.65"/><circle cx="231.3" cy="74.7" r="1.65"/><circle cx="238" cy="84.9" r="1.65"/><circle cx="223.6" cy="86.4" r="1.65"/><circle cx="228.3" cy="88.9" r="1.65"/><circle cx="226.1" cy="87.9" r="1.65"/><circle cx="223.3" cy="93.3" r="1.65"/><circle cx="221.4" cy="85.9" r="1.65"/><circle cx="228.3" cy="89.3" r="1.65"/><circle cx="216.4" cy="82.4" r="1.65"/><circle cx="228.7" cy="75.1" r="1.65"/><circle cx="228.4" cy="98.5" r="1.65"/><circle cx="223.4" cy="96" r="1.65"/><circle cx="221.5" cy="98.3" r="1.65"/><circle cx="218.4" cy="68.2" r="1.65"/><circle cx="240.7" cy="65" r="1.65"/><circle cx="218.6" cy="83" r="1.65"/><circle cx="238.4" cy="80.6" r="1.65"/><circle cx="233.4" cy="77.1" r="1.65"/><circle cx="225.8" cy="67.8" r="1.65"/><circle cx="221.2" cy="101.4" r="1.65"/><circle cx="236.1" cy="85.7" r="1.65"/><circle cx="241" cy="78.1" r="1.65"/><circle cx="221.2" cy="91.2" r="1.65"/><circle cx="225.9" cy="103.2" r="1.65"/><circle cx="235.6" cy="75.3" r="1.65"/><circle cx="231" cy="110.6" r="1.65"/><circle cx="240.9" cy="96.6" r="1.65"/><circle cx="223.6" cy="92.2" r="1.65"/><circle cx="231.3" cy="55.8" r="1.65"/><circle cx="220.9" cy="103.7" r="1.65"/><circle cx="243.5" cy="106.8" r="1.65"/><circle cx="223.8" cy="88.5" r="1.65"/><circle cx="214.1" cy="59.1" r="1.65"/><circle cx="228.9" cy="107.5" r="1.65"/><circle cx="228.3" cy="76.6" r="1.65"/><circle cx="241.2" cy="116.4" r="1.65"/><circle cx="226" cy="75.7" r="1.65"/><circle cx="228.7" cy="99.8" r="1.65"/><circle cx="233.8" cy="74.1" r="1.65"/><circle cx="238.5" cy="84.2" r="1.65"/><circle cx="228.6" cy="78.3" r="1.65"/><circle cx="235.6" cy="96.4" r="1.65"/><circle cx="231.1" cy="100.1" r="1.65"/><circle cx="225.9" cy="96.8" r="1.65"/><circle cx="228.5" cy="96.1" r="1.65"/><circle cx="228.4" cy="99.6" r="1.65"/><circle cx="224" cy="101" r="1.65"/><circle cx="236" cy="78.5" r="1.65"/><circle cx="218.9" cy="82.2" r="1.65"/><circle cx="235.7" cy="69.4" r="1.65"/><circle cx="235.8" cy="74.4" r="1.65"/><circle cx="228.8" cy="90.8" r="1.65"/><circle cx="223.3" cy="75.9" r="1.65"/><circle cx="226.4" cy="58.9" r="1.65"/><circle cx="230.9" cy="82.7" r="1.65"/><circle cx="233.4" cy="114.4" r="1.65"/><circle cx="231" cy="78.7" r="1.65"/><circle cx="235.9" cy="103" r="1.65"/><circle cx="223.6" cy="86" r="1.65"/><circle cx="230.9" cy="100.3" r="1.65"/><circle cx="218.8" cy="88.1" r="1.65"/><circle cx="233.3" cy="107.7" r="1.65"/><circle cx="228.3" cy="68.8" r="1.65"/><circle cx="226" cy="105.7" r="1.65"/><circle cx="235.6" cy="82.9" r="1.65"/><circle cx="233.4" cy="76.9" r="1.65"/><circle cx="228.7" cy="79.8" r="1.65"/><circle cx="218.4" cy="92.3" r="1.65"/><circle cx="235.8" cy="91.5" r="1.65"/><circle cx="246" cy="97.9" r="1.65"/><circle cx="226" cy="113.9" r="1.65"/><circle cx="228.8" cy="83.5" r="1.65"/><circle cx="226.2" cy="105.4" r="1.65"/><circle cx="230.7" cy="90.1" r="1.65"/><circle cx="233.4" cy="98.9" r="1.65"/><circle cx="236.1" cy="73.8" r="1.65"/><circle cx="221.2" cy="77.9" r="1.65"/><circle cx="238.5" cy="92.1" r="1.65"/><circle cx="221.5" cy="75.1" r="1.65"/><circle cx="231.1" cy="72.2" r="1.65"/><circle cx="236" cy="74.5" r="1.65"/><circle cx="233.7" cy="80.4" r="1.65"/><circle cx="221.1" cy="94.5" r="1.65"/><circle cx="223.3" cy="81.8" r="1.65"/><circle cx="225.9" cy="67.6" r="1.65"/><circle cx="228.6" cy="81.5" r="1.65"/><circle cx="236.3" cy="79.6" r="1.65"/><circle cx="221.2" cy="53.1" r="1.65"/><circle cx="230.8" cy="101.1" r="1.65"/><circle cx="233.8" cy="104" r="1.65"/><circle cx="233.4" cy="76.5" r="1.65"/><circle cx="230.8" cy="58.3" r="1.65"/><circle cx="238.4" cy="114" r="1.65"/><circle cx="230.9" cy="110.6" r="1.65"/><circle cx="233.2" cy="105" r="1.65"/><circle cx="233.6" cy="87.3" r="1.65"/><circle cx="241" cy="92.8" r="1.65"/><circle cx="216.6" cy="75.6" r="1.65"/><circle cx="235.7" cy="79.9" r="1.65"/><circle cx="226.4" cy="109.7" r="1.65"/><circle cx="226.3" cy="74.4" r="1.65"/><circle cx="221" cy="103.3" r="1.65"/><circle cx="216.2" cy="79.5" r="1.65"/><circle cx="226.2" cy="87.8" r="1.65"/><circle cx="223.5" cy="89.7" r="1.65"/><circle cx="230.7" cy="87.4" r="1.65"/><circle cx="218.9" cy="110.3" r="1.65"/><circle cx="238.1" cy="85.7" r="1.65"/><circle cx="231" cy="103.1" r="1.65"/><circle cx="226" cy="90.9" r="1.65"/><circle cx="223.9" cy="92" r="1.65"/><circle cx="223.7" cy="84.9" r="1.65"/><circle cx="221.1" cy="77.7" r="1.65"/><circle cx="226.4" cy="63.9" r="1.65"/><circle cx="228.4" cy="90.9" r="1.65"/><circle cx="228.7" cy="57.8" r="1.65"/><circle cx="218.5" cy="87.1" r="1.65"/><circle cx="226.3" cy="105.1" r="1.65"/><circle cx="223.8" cy="105.5" r="1.65"/><circle cx="228.8" cy="60.1" r="1.65"/><circle cx="240.8" cy="101.1" r="1.65"/><circle cx="233.3" cy="99.1" r="1.65"/><circle cx="226.2" cy="78.8" r="1.65"/><circle cx="219" cy="62" r="1.65"/><circle cx="218.6" cy="63.8" r="1.65"/><circle cx="215.9" cy="85.1" r="1.65"/><circle cx="233.2" cy="94.8" r="1.65"/><circle cx="223.9" cy="87.1" r="1.65"/><circle cx="228.2" cy="94.3" r="1.65"/><circle cx="223.3" cy="84" r="1.65"/><circle cx="228.2" cy="62.8" r="1.65"/><circle cx="238.7" cy="110.7" r="1.65"/><circle cx="223.5" cy="93.7" r="1.65"/><circle cx="226.2" cy="98.2" r="1.65"/><circle cx="223.8" cy="110.9" r="1.65"/><circle cx="233.4" cy="83.7" r="1.65"/><circle cx="221.3" cy="67.4" r="1.65"/><circle cx="221.1" cy="91.8" r="1.65"/><circle cx="218.7" cy="69.6" r="1.65"/><circle cx="218.6" cy="67.2" r="1.65"/><circle cx="230.6" cy="101" r="1.65"/><circle cx="245.8" cy="60.7" r="1.65"/><circle cx="221" cy="83.8" r="1.65"/><circle cx="235.8" cy="88.1" r="1.65"/><circle cx="231.3" cy="94.5" r="1.65"/><circle cx="221.1" cy="91.1" r="1.65"/><circle cx="225.8" cy="97.5" r="1.65"/><circle cx="226.2" cy="67.3" r="1.65"/><circle cx="223.6" cy="76.9" r="1.65"/><circle cx="240.5" cy="106.2" r="1.65"/><circle cx="216.1" cy="79.9" r="1.65"/><circle cx="231.1" cy="101.7" r="1.65"/><circle cx="230.8" cy="75.9" r="1.65"/><circle cx="224" cy="88.5" r="1.65"/><circle cx="228.8" cy="70.1" r="1.65"/><circle cx="233.5" cy="69.3" r="1.65"/><circle cx="228.8" cy="100.3" r="1.65"/><circle cx="230.7" cy="96.5" r="1.65"/><circle cx="233.3" cy="86.7" r="1.65"/><circle cx="216.5" cy="68.4" r="1.65"/><circle cx="238.4" cy="87.4" r="1.65"/><circle cx="243.1" cy="105.1" r="1.65"/><circle cx="236" cy="95.3" r="1.65"/><circle cx="236.1" cy="107.5" r="1.65"/><circle cx="218.8" cy="107.1" r="1.65"/><circle cx="228.2" cy="89.3" r="1.65"/><circle cx="223.3" cy="91.1" r="1.65"/><circle cx="223.6" cy="90.1" r="1.65"/><circle cx="235.6" cy="70.4" r="1.65"/><circle cx="223.3" cy="59.1" r="1.65"/><circle cx="228.6" cy="102.2" r="1.65"/><circle cx="216.2" cy="84.1" r="1.65"/><circle cx="228.2" cy="73.5" r="1.65"/><circle cx="228.8" cy="99.3" r="1.65"/><circle cx="223.5" cy="76.9" r="1.65"/><circle cx="223.9" cy="93.9" r="1.65"/><circle cx="240.9" cy="93.7" r="1.65"/><circle cx="221.2" cy="93.1" r="1.65"/><circle cx="221.1" cy="70.2" r="1.65"/><circle cx="223.7" cy="103.9" r="1.65"/><circle cx="235.7" cy="87.8" r="1.65"/><circle cx="243.1" cy="75.2" r="1.65"/><circle cx="231.3" cy="100.8" r="1.65"/><circle cx="223.4" cy="59.2" r="1.65"/><circle cx="226" cy="90.6" r="1.65"/><circle cx="236.1" cy="93.1" r="1.65"/><circle cx="223.5" cy="72.6" r="1.65"/><circle cx="238.3" cy="82.3" r="1.65"/><circle cx="238.7" cy="67.5" r="1.65"/><circle cx="228.3" cy="102.5" r="1.65"/><circle cx="233.3" cy="101.8" r="1.65"/><circle cx="233.7" cy="74.8" r="1.65"/><circle cx="238.2" cy="79.3" r="1.65"/><circle cx="221" cy="62.8" r="1.65"/><circle cx="236.2" cy="101.6" r="1.65"/><circle cx="225.9" cy="98.1" r="1.65"/><circle cx="224" cy="71.4" r="1.65"/><circle cx="228.8" cy="90.6" r="1.65"/><circle cx="226.3" cy="101.2" r="1.65"/><circle cx="221" cy="84.9" r="1.65"/><circle cx="218.5" cy="81.8" r="1.65"/><circle cx="221.3" cy="89.6" r="1.65"/><circle cx="238.6" cy="79.4" r="1.65"/><circle cx="240.6" cy="72.7" r="1.65"/><circle cx="233.2" cy="80" r="1.65"/><circle cx="235.7" cy="75.4" r="1.65"/><circle cx="225.8" cy="62.1" r="1.65"/><circle cx="228.5" cy="88.2" r="1.65"/><circle cx="231" cy="75.2" r="1.65"/><circle cx="221.3" cy="74.9" r="1.65"/><circle cx="220.8" cy="100.1" r="1.65"/><circle cx="228.3" cy="93.2" r="1.65"/><circle cx="225.8" cy="90" r="1.65"/><circle cx="221" cy="94.4" r="1.65"/><circle cx="230.8" cy="68.7" r="1.65"/><circle cx="226.4" cy="75.8" r="1.65"/><circle cx="235.8" cy="105" r="1.65"/><circle cx="228.3" cy="71.4" r="1.65"/><circle cx="226.2" cy="76.3" r="1.65"/><circle cx="228.9" cy="83.1" r="1.65"/><circle cx="228.8" cy="89.6" r="1.65"/><circle cx="223.7" cy="96.5" r="1.65"/><circle cx="226" cy="66.1" r="1.65"/><circle cx="233.4" cy="74.7" r="1.65"/><circle cx="233.3" cy="92.9" r="1.65"/><circle cx="236.1" cy="80.5" r="1.65"/><circle cx="216.5" cy="70.6" r="1.65"/><circle cx="226.1" cy="71" r="1.65"/><circle cx="226.3" cy="102.9" r="1.65"/><circle cx="228.7" cy="92.8" r="1.65"/><circle cx="226.2" cy="100.4" r="1.65"/><circle cx="225.9" cy="64.8" r="1.65"/><circle cx="233.3" cy="105.2" r="1.65"/><circle cx="228.3" cy="94.3" r="1.65"/><circle cx="221.5" cy="85" r="1.65"/><circle cx="238.6" cy="87.1" r="1.65"/><circle cx="236.2" cy="61.8" r="1.65"/><circle cx="223.9" cy="96.8" r="1.65"/><circle cx="233.7" cy="92.1" r="1.65"/><circle cx="223.6" cy="101.7" r="1.65"/><circle cx="236.1" cy="97.3" r="1.65"/><circle cx="225.8" cy="95.7" r="1.65"/><circle cx="223.7" cy="84.8" r="1.65"/><circle cx="225.7" cy="73.6" r="1.65"/><circle cx="224" cy="92.2" r="1.65"/><circle cx="231.3" cy="81.1" r="1.65"/><circle cx="228.3" cy="98.4" r="1.65"/><circle cx="228.7" cy="85.7" r="1.65"/><circle cx="223.9" cy="61.7" r="1.65"/><circle cx="228.6" cy="87.4" r="1.65"/><circle cx="216.2" cy="54.4" r="1.65"/><circle cx="231.1" cy="110" r="1.65"/><circle cx="236.2" cy="98.2" r="1.65"/><circle cx="231.2" cy="84.3" r="1.65"/><circle cx="225.9" cy="85.8" r="1.65"/><circle cx="228.6" cy="65.5" r="1.65"/><circle cx="228.6" cy="87.2" r="1.65"/><circle cx="225.7" cy="107.5" r="1.65"/><circle cx="223.3" cy="63.4" r="1.65"/><circle cx="223.5" cy="98.2" r="1.65"/><circle cx="235.7" cy="67.5" r="1.65"/><circle cx="228.3" cy="103.4" r="1.65"/><circle cx="236" cy="97.7" r="1.65"/><circle cx="226.4" cy="97.5" r="1.65"/><circle cx="228.5" cy="90.3" r="1.65"/><circle cx="228.6" cy="79.6" r="1.65"/><circle cx="231.2" cy="98.7" r="1.65"/><circle cx="233.6" cy="101.4" r="1.65"/><circle cx="231.1" cy="89.4" r="1.65"/><circle cx="223.3" cy="75.2" r="1.65"/><circle cx="223.9" cy="103.6" r="1.65"/><circle cx="238.1" cy="92.3" r="1.65"/><circle cx="225.8" cy="103.3" r="1.65"/><circle cx="226.1" cy="110.1" r="1.65"/><circle cx="238.4" cy="94.3" r="1.65"/><circle cx="236.1" cy="84.4" r="1.65"/><circle cx="230.8" cy="62.9" r="1.65"/><circle cx="226.4" cy="100.2" r="1.65"/><circle cx="243.4" cy="77.2" r="1.65"/><circle cx="231.3" cy="68.2" r="1.65"/><circle cx="231" cy="83.8" r="1.65"/><circle cx="228.2" cy="77.6" r="1.65"/><circle cx="218.3" cy="83.1" r="1.65"/><circle cx="218.8" cy="96.8" r="1.65"/><circle cx="230.9" cy="103.4" r="1.65"/><circle cx="231" cy="65.7" r="1.65"/><circle cx="226" cy="116.4" r="1.65"/><circle cx="220.9" cy="108.4" r="1.65"/><circle cx="218.7" cy="73.7" r="1.65"/><circle cx="225.9" cy="82.7" r="1.65"/><circle cx="219" cy="86.7" r="1.65"/><circle cx="233.2" cy="87.5" r="1.65"/><circle cx="236.3" cy="92.9" r="1.65"/><circle cx="248.5" cy="72.6" r="1.65"/><circle cx="233.4" cy="93.9" r="1.65"/><circle cx="223.8" cy="84.2" r="1.65"/><circle cx="223.7" cy="70" r="1.65"/><circle cx="223.9" cy="55.4" r="1.65"/><circle cx="228.8" cy="100" r="1.65"/><circle cx="235.7" cy="84.9" r="1.65"/><circle cx="233.8" cy="81.8" r="1.65"/><circle cx="233.1" cy="87" r="1.65"/><circle cx="230.6" cy="65.7" r="1.65"/><circle cx="233.4" cy="100.9" r="1.65"/><circle cx="238.2" cy="75.5" r="1.65"/><circle cx="221.1" cy="67.6" r="1.65"/><circle cx="226.1" cy="109.1" r="1.65"/><circle cx="218.7" cy="82.8" r="1.65"/><circle cx="238.7" cy="82.2" r="1.65"/><circle cx="238.7" cy="90.7" r="1.65"/><circle cx="233.3" cy="66.7" r="1.65"/><circle cx="221" cy="79.7" r="1.65"/><circle cx="228.7" cy="77.9" r="1.65"/><circle cx="225.9" cy="59.6" r="1.65"/><circle cx="228.5" cy="72.9" r="1.65"/><circle cx="226.2" cy="61.3" r="1.65"/><circle cx="230.6" cy="77.8" r="1.65"/><circle cx="226.3" cy="92.5" r="1.65"/><circle cx="233.6" cy="95.9" r="1.65"/><circle cx="230.9" cy="99.8" r="1.65"/><circle cx="225.9" cy="96.4" r="1.65"/><circle cx="228.6" cy="99.4" r="1.65"/><circle cx="225.9" cy="71.1" r="1.65"/><circle cx="233.7" cy="71.3" r="1.65"/><circle cx="226.1" cy="95.5" r="1.65"/><circle cx="230.9" cy="94.3" r="1.65"/><circle cx="226.3" cy="90" r="1.65"/><circle cx="218.8" cy="96.5" r="1.65"/><circle cx="233.2" cy="63.9" r="1.65"/><circle cx="221.1" cy="101.5" r="1.65"/><circle cx="233.5" cy="89.1" r="1.65"/><circle cx="231.3" cy="81.4" r="1.65"/><circle cx="218.6" cy="98.7" r="1.65"/><circle cx="221.1" cy="58.3" r="1.65"/><circle cx="226.4" cy="88.3" r="1.65"/><circle cx="223.6" cy="88.5" r="1.65"/><circle cx="221.4" cy="95.9" r="1.65"/><circle cx="233.2" cy="92.4" r="1.65"/><circle cx="226" cy="91" r="1.65"/><circle cx="230.8" cy="92.2" r="1.65"/><circle cx="226.4" cy="107.2" r="1.65"/><circle cx="231" cy="81.1" r="1.65"/><circle cx="223.4" cy="87.5" r="1.65"/><circle cx="228.2" cy="65.6" r="1.65"/><circle cx="233.4" cy="76.7" r="1.65"/><circle cx="228.2" cy="69.1" r="1.65"/><circle cx="226.1" cy="63.8" r="1.65"/><circle cx="221.3" cy="69.3" r="1.65"/><circle cx="228.4" cy="90.4" r="1.65"/><circle cx="230.8" cy="79.6" r="1.65"/><circle cx="226" cy="97.1" r="1.65"/><circle cx="223.4" cy="100.4" r="1.65"/><circle cx="231.3" cy="97.5" r="1.65"/><circle cx="245.5" cy="107.2" r="1.65"/><circle cx="226.3" cy="102.9" r="1.65"/><circle cx="230.9" cy="89.8" r="1.65"/><circle cx="231.2" cy="77.4" r="1.65"/><circle cx="211.5" cy="95.7" r="1.65"/><circle cx="228.3" cy="105.8" r="1.65"/><circle cx="223.8" cy="87.6" r="1.65"/><circle cx="238.7" cy="97.8" r="1.65"/><circle cx="226.1" cy="75" r="1.65"/><circle cx="223.7" cy="101.3" r="1.65"/><circle cx="225.9" cy="76.5" r="1.65"/><circle cx="228.3" cy="102.8" r="1.65"/><circle cx="223.8" cy="79.4" r="1.65"/><circle cx="228.8" cy="77.5" r="1.65"/><circle cx="218.5" cy="98.9" r="1.65"/><circle cx="225.8" cy="77.5" r="1.65"/><circle cx="233.4" cy="87.7" r="1.65"/><circle cx="240.9" cy="107.6" r="1.65"/><circle cx="233.4" cy="104.2" r="1.65"/><circle cx="231.3" cy="73.9" r="1.65"/><circle cx="236.1" cy="91.1" r="1.65"/><circle cx="236.2" cy="87.4" r="1.65"/><circle cx="238.5" cy="90.6" r="1.65"/><circle cx="236.1" cy="72" r="1.65"/><circle cx="228.9" cy="95.3" r="1.65"/><circle cx="230.7" cy="80.2" r="1.65"/><circle cx="228.6" cy="86.5" r="1.65"/><circle cx="230.8" cy="61.9" r="1.65"/><circle cx="231.2" cy="109" r="1.65"/><circle cx="223.4" cy="101.5" r="1.65"/><circle cx="214" cy="98.1" r="1.65"/><circle cx="223.5" cy="71.8" r="1.65"/><circle cx="216.4" cy="101.1" r="1.65"/><circle cx="228.7" cy="85.6" r="1.65"/><circle cx="228.8" cy="79.2" r="1.65"/><circle cx="216.5" cy="79.2" r="1.65"/><circle cx="233.4" cy="89.6" r="1.65"/><circle cx="233.6" cy="87.3" r="1.65"/><circle cx="228.3" cy="83.8" r="1.65"/><circle cx="240.5" cy="90.4" r="1.65"/><circle cx="241" cy="103.1" r="1.65"/><circle cx="221.5" cy="59.1" r="1.65"/><circle cx="236.1" cy="108.5" r="1.65"/><circle cx="231" cy="64.7" r="1.65"/><circle cx="231.1" cy="97.2" r="1.65"/><circle cx="236.1" cy="105" r="1.65"/><circle cx="223.7" cy="91.4" r="1.65"/><circle cx="223.5" cy="94" r="1.65"/><circle cx="223.9" cy="71.7" r="1.65"/><circle cx="223.5" cy="65.7" r="1.65"/><circle cx="228.8" cy="67.3" r="1.65"/><circle cx="218.9" cy="82.6" r="1.65"/><circle cx="221.4" cy="101.3" r="1.65"/><circle cx="233.7" cy="78" r="1.65"/><circle cx="228.9" cy="62.4" r="1.65"/><circle cx="231.4" cy="99.2" r="1.65"/><circle cx="216.2" cy="70.5" r="1.65"/><circle cx="223.5" cy="102.3" r="1.65"/><circle cx="226.3" cy="74.6" r="1.65"/><circle cx="228.9" cy="81.1" r="1.65"/><circle cx="223.7" cy="70.4" r="1.65"/><circle cx="235.6" cy="66.3" r="1.65"/><circle cx="228.2" cy="102.8" r="1.65"/><circle cx="228.5" cy="88.4" r="1.65"/><circle cx="228.8" cy="98.2" r="1.65"/><circle cx="233.7" cy="89.8" r="1.65"/><circle cx="226" cy="100.2" r="1.65"/><circle cx="235.9" cy="94.4" r="1.65"/><circle cx="231" cy="86" r="1.65"/><circle cx="228.2" cy="98.8" r="1.65"/><circle cx="228.2" cy="83.4" r="1.65"/><circle cx="231" cy="74.6" r="1.65"/><circle cx="235.9" cy="103.7" r="1.65"/><circle cx="236.2" cy="58" r="1.65"/><circle cx="230.8" cy="86.1" r="1.65"/><circle cx="233.7" cy="91.5" r="1.65"/><circle cx="228.4" cy="59.1" r="1.65"/><circle cx="235.9" cy="83" r="1.65"/><circle cx="228.7" cy="88.4" r="1.65"/><circle cx="213.5" cy="92.5" r="1.65"/><circle cx="238.7" cy="67.9" r="1.65"/><circle cx="228.9" cy="100.8" r="1.65"/><circle cx="221.5" cy="94.6" r="1.65"/><circle cx="225.7" cy="91.8" r="1.65"/><circle cx="223.7" cy="105.9" r="1.65"/><circle cx="243.4" cy="67.8" r="1.65"/><circle cx="231.3" cy="82.5" r="1.65"/><circle cx="218.5" cy="88.1" r="1.65"/><circle cx="230.7" cy="70.4" r="1.65"/><circle cx="226.3" cy="88.6" r="1.65"/><circle cx="240.7" cy="95.5" r="1.65"/><circle cx="220.8" cy="84.1" r="1.65"/><circle cx="213.5" cy="85.4" r="1.65"/><circle cx="228.6" cy="98" r="1.65"/><circle cx="226.1" cy="92.8" r="1.65"/><circle cx="226.3" cy="89.1" r="1.65"/><circle cx="214" cy="82" r="1.65"/><circle cx="230.6" cy="99.4" r="1.65"/><circle cx="241.2" cy="67.2" r="1.65"/><circle cx="216.5" cy="87.1" r="1.65"/><circle cx="236.2" cy="97" r="1.65"/><circle cx="223.8" cy="103.5" r="1.65"/><circle cx="243.2" cy="88.6" r="1.65"/><circle cx="230.8" cy="91" r="1.65"/><circle cx="226.4" cy="76" r="1.65"/><circle cx="235.9" cy="57.5" r="1.65"/><circle cx="231" cy="94.4" r="1.65"/><circle cx="223.8" cy="65.3" r="1.65"/><circle cx="233.6" cy="86.8" r="1.65"/><circle cx="226.2" cy="93.6" r="1.65"/><circle cx="216.3" cy="92.1" r="1.65"/><circle cx="240.8" cy="62.2" r="1.65"/><circle cx="226.3" cy="84.7" r="1.65"/><circle cx="223.5" cy="79.4" r="1.65"/><circle cx="230.8" cy="101.5" r="1.65"/><circle cx="219" cy="72.7" r="1.65"/><circle cx="219" cy="99.5" r="1.65"/><circle cx="226.2" cy="74" r="1.65"/><circle cx="225.8" cy="73" r="1.65"/><circle cx="228.2" cy="100.5" r="1.65"/><circle cx="236.2" cy="81.7" r="1.65"/><circle cx="226.4" cy="63.6" r="1.65"/><circle cx="230.8" cy="93.5" r="1.65"/><circle cx="233.6" cy="82.4" r="1.65"/><circle cx="220.8" cy="92" r="1.65"/><circle cx="230.9" cy="92.6" r="1.65"/><circle cx="221.3" cy="91.1" r="1.65"/><circle cx="235.8" cy="88.6" r="1.65"/><circle cx="231.2" cy="82.4" r="1.65"/><circle cx="228.8" cy="67" r="1.65"/><circle cx="218.4" cy="66.7" r="1.65"/><circle cx="228.7" cy="88.1" r="1.65"/><circle cx="223.5" cy="90.3" r="1.65"/><circle cx="233.2" cy="77.6" r="1.65"/><circle cx="228.4" cy="62.9" r="1.65"/><circle cx="223.6" cy="78.4" r="1.65"/><circle cx="233.8" cy="84.4" r="1.65"/><circle cx="233.7" cy="99.3" r="1.65"/><circle cx="223.3" cy="76.8" r="1.65"/><circle cx="235.6" cy="89.9" r="1.65"/><circle cx="226.4" cy="86.5" r="1.65"/><circle cx="226.1" cy="63.2" r="1.65"/><circle cx="228.6" cy="102.8" r="1.65"/><circle cx="223.5" cy="69.1" r="1.65"/><circle cx="226.3" cy="99.7" r="1.65"/><circle cx="228.6" cy="101.7" r="1.65"/><circle cx="238.4" cy="83" r="1.65"/><circle cx="238.2" cy="69.7" r="1.65"/><circle cx="226.3" cy="78.9" r="1.65"/><circle cx="238.2" cy="61.2" r="1.65"/><circle cx="228.3" cy="92.7" r="1.65"/><circle cx="231.1" cy="73" r="1.65"/><circle cx="233.7" cy="92.7" r="1.65"/><circle cx="230.8" cy="95.7" r="1.65"/><circle cx="245.6" cy="94" r="1.65"/><circle cx="230.7" cy="64.4" r="1.65"/><circle cx="221.2" cy="88.3" r="1.65"/><circle cx="238.6" cy="78.3" r="1.65"/><circle cx="225.8" cy="95.6" r="1.65"/><circle cx="226.1" cy="77.8" r="1.65"/><circle cx="208.9" cy="66.5" r="1.65"/><circle cx="235.6" cy="105.6" r="1.65"/><circle cx="233.5" cy="87.8" r="1.65"/><circle cx="233.3" cy="69.4" r="1.65"/><circle cx="235.7" cy="68.9" r="1.65"/><circle cx="241.2" cy="69.4" r="1.65"/><circle cx="228.2" cy="104" r="1.65"/><circle cx="235.8" cy="73.1" r="1.65"/><circle cx="223.7" cy="115.7" r="1.65"/><circle cx="226" cy="90.7" r="1.65"/><circle cx="235.6" cy="77.5" r="1.65"/><circle cx="231.3" cy="102.6" r="1.65"/><circle cx="218.5" cy="84.4" r="1.65"/><circle cx="230.9" cy="83.5" r="1.65"/><circle cx="228.8" cy="107.8" r="1.65"/><circle cx="224" cy="102.8" r="1.65"/><circle cx="231.3" cy="77" r="1.65"/><circle cx="226" cy="104.2" r="1.65"/><circle cx="218.9" cy="61.1" r="1.65"/><circle cx="221.4" cy="64.5" r="1.65"/><circle cx="240.6" cy="54.2" r="1.65"/><circle cx="219" cy="68.3" r="1.65"/><circle cx="230.7" cy="99.7" r="1.65"/><circle cx="233.6" cy="98.3" r="1.65"/><circle cx="233.3" cy="98.8" r="1.65"/><circle cx="220.9" cy="97.3" r="1.65"/><circle cx="225.8" cy="101.7" r="1.65"/><circle cx="228.9" cy="72.6" r="1.65"/><circle cx="233.2" cy="57.9" r="1.65"/><circle cx="223.9" cy="71.3" r="1.65"/><circle cx="220.9" cy="93.4" r="1.65"/><circle cx="235.8" cy="72.6" r="1.65"/><circle cx="235.7" cy="68.9" r="1.65"/><circle cx="231.4" cy="90.5" r="1.65"/><circle cx="223.3" cy="102.9" r="1.65"/><circle cx="231.3" cy="100.4" r="1.65"/><circle cx="228.4" cy="99.6" r="1.65"/><circle cx="233.8" cy="61.4" r="1.65"/><circle cx="221.3" cy="109.5" r="1.65"/><circle cx="228.4" cy="99" r="1.65"/><circle cx="228.5" cy="95.9" r="1.65"/><circle cx="220.9" cy="70.4" r="1.65"/><circle cx="230.9" cy="97.1" r="1.65"/><circle cx="228.2" cy="81.8" r="1.65"/><circle cx="226.2" cy="90.7" r="1.65"/><circle cx="231.1" cy="82.4" r="1.65"/><circle cx="218.5" cy="57.3" r="1.65"/><circle cx="228.2" cy="66.1" r="1.65"/><circle cx="231.3" cy="57.6" r="1.65"/><circle cx="230.7" cy="99" r="1.65"/><circle cx="235.8" cy="90.8" r="1.65"/><circle cx="220.8" cy="106.6" r="1.65"/><circle cx="218.6" cy="92.2" r="1.65"/><circle cx="230.9" cy="97.9" r="1.65"/><circle cx="231" cy="79.5" r="1.65"/><circle cx="243.2" cy="111" r="1.65"/><circle cx="233.3" cy="104.5" r="1.65"/><circle cx="223.8" cy="78.7" r="1.65"/><circle cx="233.3" cy="75.6" r="1.65"/><circle cx="223.5" cy="67.4" r="1.65"/><circle cx="218.7" cy="97.2" r="1.65"/><circle cx="245.6" cy="104.5" r="1.65"/><circle cx="231.2" cy="66.9" r="1.65"/><circle cx="233.2" cy="101" r="1.65"/><circle cx="233.3" cy="74.4" r="1.65"/><circle cx="240.8" cy="106.2" r="1.65"/><circle cx="230.8" cy="106.7" r="1.65"/><circle cx="236.2" cy="83.3" r="1.65"/><circle cx="221.1" cy="71.2" r="1.65"/><circle cx="218.6" cy="76.6" r="1.65"/><circle cx="238.4" cy="78.9" r="1.65"/><circle cx="238.6" cy="80.7" r="1.65"/><circle cx="230.8" cy="90.4" r="1.65"/><circle cx="231.2" cy="94.8" r="1.65"/><circle cx="228.9" cy="93.2" r="1.65"/><circle cx="223.4" cy="82.5" r="1.65"/><circle cx="238.1" cy="89.3" r="1.65"/><circle cx="233.7" cy="103.2" r="1.65"/><circle cx="230.9" cy="84.4" r="1.65"/><circle cx="230.8" cy="88" r="1.65"/><circle cx="235.6" cy="98.5" r="1.65"/><circle cx="231.1" cy="65.6" r="1.65"/><circle cx="233.8" cy="72.1" r="1.65"/><circle cx="221.4" cy="107.9" r="1.65"/><circle cx="231.1" cy="95.7" r="1.65"/><circle cx="243.3" cy="83.9" r="1.65"/><circle cx="226.4" cy="83.5" r="1.65"/><circle cx="228.7" cy="99.2" r="1.65"/><circle cx="233.8" cy="101.8" r="1.65"/><circle cx="236.1" cy="100.2" r="1.65"/><circle cx="233.6" cy="94.5" r="1.65"/><circle cx="218.8" cy="71.7" r="1.65"/><circle cx="230.7" cy="98.6" r="1.65"/><circle cx="221" cy="71.2" r="1.65"/><circle cx="223.3" cy="67.8" r="1.65"/><circle cx="231.3" cy="97.6" r="1.65"/><circle cx="226.4" cy="81.6" r="1.65"/><circle cx="233.5" cy="69.4" r="1.65"/><circle cx="248" cy="99.5" r="1.65"/><circle cx="233.2" cy="75.7" r="1.65"/><circle cx="233.4" cy="93" r="1.65"/><circle cx="223.5" cy="83.5" r="1.65"/><circle cx="223.4" cy="86" r="1.65"/><circle cx="220.9" cy="105.2" r="1.65"/><circle cx="226.2" cy="79.8" r="1.65"/><circle cx="221.4" cy="98.4" r="1.65"/><circle cx="223.3" cy="82.4" r="1.65"/><circle cx="225.9" cy="66.4" r="1.65"/><circle cx="221" cy="97" r="1.65"/><circle cx="218.7" cy="90.7" r="1.65"/><circle cx="218.8" cy="75.3" r="1.65"/><circle cx="230.9" cy="79.5" r="1.65"/><circle cx="228.8" cy="74.6" r="1.65"/><circle cx="235.8" cy="95.3" r="1.65"/><circle cx="235.8" cy="73.4" r="1.65"/><circle cx="226.3" cy="87" r="1.65"/><circle cx="233.7" cy="78.2" r="1.65"/><circle cx="219" cy="88.1" r="1.65"/><circle cx="243.1" cy="107.9" r="1.65"/><circle cx="235.7" cy="67.9" r="1.65"/><circle cx="226.1" cy="75.7" r="1.65"/><circle cx="221.5" cy="56.2" r="1.65"/><circle cx="231.1" cy="84.3" r="1.65"/><circle cx="216.3" cy="91.9" r="1.65"/><circle cx="223.5" cy="105" r="1.65"/><circle cx="233.8" cy="97" r="1.65"/><circle cx="228.3" cy="93.2" r="1.65"/><circle cx="226.1" cy="91.2" r="1.65"/><circle cx="236" cy="93.2" r="1.65"/><circle cx="221.4" cy="93.9" r="1.65"/><circle cx="231.2" cy="71.7" r="1.65"/><circle cx="226" cy="81.9" r="1.65"/><circle cx="223.5" cy="67.8" r="1.65"/><circle cx="231.4" cy="105.2" r="1.65"/><circle cx="221.2" cy="97.9" r="1.65"/><circle cx="240.7" cy="54.2" r="1.65"/><circle cx="223.4" cy="105.7" r="1.65"/><circle cx="241.1" cy="94.9" r="1.65"/><circle cx="221.4" cy="76.6" r="1.65"/><circle cx="233.5" cy="93.5" r="1.65"/><circle cx="221.1" cy="93.5" r="1.65"/><circle cx="218.8" cy="79.8" r="1.65"/><circle cx="228.9" cy="83.5" r="1.65"/><circle cx="233.5" cy="99.9" r="1.65"/><circle cx="221.4" cy="87.2" r="1.65"/><circle cx="236.2" cy="83.5" r="1.65"/><circle cx="223.8" cy="68.1" r="1.65"/><circle cx="228.5" cy="101" r="1.65"/><circle cx="230.8" cy="92" r="1.65"/><circle cx="233.6" cy="97.9" r="1.65"/><circle cx="216.5" cy="104" r="1.65"/><circle cx="238.7" cy="77.9" r="1.65"/><circle cx="233.2" cy="61.6" r="1.65"/><circle cx="225.8" cy="96.8" r="1.65"/><circle cx="221.3" cy="70.9" r="1.65"/><circle cx="216.5" cy="88.4" r="1.65"/><circle cx="218.4" cy="72.6" r="1.65"/><circle cx="231.1" cy="96.4" r="1.65"/><circle cx="225.9" cy="107.3" r="1.65"/><circle cx="221.5" cy="114.2" r="1.65"/><circle cx="226" cy="82.5" r="1.65"/><circle cx="238.1" cy="105.2" r="1.65"/><circle cx="226.3" cy="64.7" r="1.65"/><circle cx="223.5" cy="81.9" r="1.65"/><circle cx="238.3" cy="63.7" r="1.65"/><circle cx="230.7" cy="80.4" r="1.65"/><circle cx="228.4" cy="97.6" r="1.65"/><circle cx="223.3" cy="71.3" r="1.65"/><circle cx="218.5" cy="76.3" r="1.65"/><circle cx="221.2" cy="89.4" r="1.65"/><circle cx="243.3" cy="60.3" r="1.65"/><circle cx="258.1" cy="93.7" r="1.65"/><circle cx="250.7" cy="83.8" r="1.65"/><circle cx="243.3" cy="55.4" r="1.65"/><circle cx="248.2" cy="99" r="1.65"/><circle cx="243.3" cy="70.4" r="1.65"/><circle cx="255.6" cy="78.8" r="1.65"/><circle cx="235.9" cy="85.3" r="1.65"/><circle cx="255.6" cy="96.1" r="1.65"/><circle cx="250.7" cy="76.7" r="1.65"/><circle cx="233.5" cy="89.9" r="1.65"/><circle cx="245.8" cy="67.4" r="1.65"/><circle cx="275.3" cy="64.7" r="1.65"/><circle cx="258.1" cy="103.6" r="1.65"/><circle cx="235.9" cy="90.5" r="1.65"/><circle cx="258.1" cy="87.8" r="1.65"/><circle cx="263" cy="100.6" r="1.65"/><circle cx="238.4" cy="99.7" r="1.65"/><circle cx="250.7" cy="81.7" r="1.65"/><circle cx="243.3" cy="86.1" r="1.65"/><circle cx="255.6" cy="107.7" r="1.65"/><circle cx="267.9" cy="91" r="1.65"/><circle cx="243.3" cy="75.3" r="1.65"/><circle cx="238.4" cy="101" r="1.65"/><circle cx="238.4" cy="96.8" r="1.65"/><circle cx="258.1" cy="59.3" r="1.65"/><circle cx="235.9" cy="63.3" r="1.65"/><circle cx="255.6" cy="107.2" r="1.65"/><circle cx="267.9" cy="103.2" r="1.65"/><circle cx="265.4" cy="77.4" r="1.65"/><circle cx="260.5" cy="100.8" r="1.65"/><circle cx="233.5" cy="86.8" r="1.65"/><circle cx="250.7" cy="89.7" r="1.65"/><circle cx="243.3" cy="74.6" r="1.65"/><circle cx="255.6" cy="115.8" r="1.65"/><circle cx="240.8" cy="115.8" r="1.65"/><circle cx="238.4" cy="101.3" r="1.65"/><circle cx="272.8" cy="67.9" r="1.65"/><circle cx="270.4" cy="85.3" r="1.65"/><circle cx="238.4" cy="108.5" r="1.65"/><circle cx="267.9" cy="75.6" r="1.65"/><circle cx="235.9" cy="72.4" r="1.65"/><circle cx="248.2" cy="86.7" r="1.65"/><circle cx="275.3" cy="87.9" r="1.65"/><circle cx="272.8" cy="76.5" r="1.65"/><circle cx="226.1" cy="39.7" r="1.65"/><circle cx="226.1" cy="45.7" r="1.65"/><circle cx="234.7" cy="34.6" r="1.65"/><circle cx="246.3" cy="31.7" r="1.65"/><circle cx="250.2" cy="26.9" r="1.65"/><circle cx="254.4" cy="34.6" r="1.65"/><circle cx="254.4" cy="36.7" r="1.65"/><circle cx="254.4" cy="39.7" r="1.65"/><circle cx="254.1" cy="41.2" r="1.65"/><circle cx="238.9" cy="43.6" r="1.65"/><circle cx="223.6" cy="127.8" r="1.65"/><circle cx="225.6" cy="131.4" r="1.65"/><circle cx="232.2" cy="129.3" r="1.65"/><circle cx="258.1" cy="143.3" r="1.65"/><circle cx="282.7" cy="86" r="1.65"/><circle cx="275.3" cy="80" r="1.65"/><circle cx="267.9" cy="74" r="1.65"/><circle cx="266.7" cy="100.9" r="1.65"/><circle cx="270.4" cy="93.4" r="1.65"/><circle cx="262" cy="62.1" r="1.65"/><circle cx="263" cy="99.4" r="1.65"/><circle cx="207.6" cy="75.5" r="1.65"/></g>
<line x1="194.9" y1="83" x2="291.2" y2="83" stroke="#3D7AD6" stroke-width="1"/>
<line x1="194.9" y1="51.4" x2="291.2" y2="51.4" stroke="#3D7AD6" stroke-width="1" stroke-dasharray="2.6,1.6"/>
<line x1="194.9" y1="114" x2="291.2" y2="114" stroke="#3D7AD6" stroke-width="1" stroke-dasharray="2.6,1.6"/>
<text x="288.7" y="38.4" text-anchor="middle" textLength="25.5" lengthAdjust="spacingAndGlyphs" font-size="7.8">1.96 SD</text>
<text x="288.7" y="46.9" text-anchor="middle" textLength="13.5" lengthAdjust="spacingAndGlyphs" font-size="7.8">1.06</text>
<text x="288.7" y="71.4" text-anchor="middle" textLength="18.5" lengthAdjust="spacingAndGlyphs" font-size="7.8">Mean</text>
<text x="288.7" y="80.4" text-anchor="middle" textLength="13.5" lengthAdjust="spacingAndGlyphs" font-size="7.8">0.01</text>
<text x="289" y="124.4" text-anchor="middle" textLength="27" lengthAdjust="spacingAndGlyphs" font-size="7.8">−1.96 SD</text>
<text x="289" y="133.6" text-anchor="middle" textLength="13.5" lengthAdjust="spacingAndGlyphs" font-size="7.8">1.04</text>
<defs><filter id="bl" x="0" y="0" width="1" height="1"><feGaussianBlur stdDeviation="0.55"/></filter></defs>
<g filter="url(#bl)">
<rect x="345.3" y="16.5" width="133" height="132.5" fill="#000"/>
<g fill="#fff"><rect x="345.3" y="16.5" width="1" height="132.5" opacity="0.2"/><rect x="346.3" y="16.5" width="1" height="132.5" opacity="0.9"/><rect x="347.3" y="16.5" width="1" height="132.5" opacity="0.1"/><rect x="348.3" y="16.5" width="1" height="132.5" opacity="0.2"/><rect x="349.3" y="16.5" width="1" height="132.5" opacity="0.7"/><rect x="350.3" y="16.5" width="1" height="132.5" opacity="0.1"/><rect x="351.3" y="16.5" width="1" height="132.5" opacity="0.8"/><rect x="353.3" y="16.5" width="1" height="132.5" opacity="0.8"/><rect x="354.3" y="16.5" width="1" height="132.5" opacity="0.7"/><rect x="355.3" y="16.5" width="1" height="132.5" opacity="0.8"/><rect x="356.3" y="16.5" width="2" height="132.5" opacity="0.1"/><rect x="359.3" y="16.5" width="1" height="132.5" opacity="0.8"/><rect x="360.3" y="16.5" width="1" height="132.5" opacity="0.1"/><rect x="362.3" y="16.5" width="1" height="132.5" opacity="0.2"/><rect x="363.3" y="16.5" width="2" height="132.5" opacity="0.8"/><rect x="365.3" y="16.5" width="2" height="132.5" opacity="0.1"/><rect x="367.3" y="16.5" width="1" height="132.5" opacity="0.7"/><rect x="368.3" y="16.5" width="1" height="132.5" opacity="0.2"/><rect x="370.3" y="16.5" width="1" height="132.5" opacity="0.1"/><rect x="371.3" y="16.5" width="1" height="132.5" opacity="0.2"/><rect x="372.3" y="16.5" width="1" height="132.5" opacity="0.7"/><rect x="373.3" y="16.5" width="2" height="132.5" opacity="0.1"/><rect x="376.3" y="16.5" width="1" height="132.5" opacity="0.2"/><rect x="377.3" y="16.5" width="1" height="132.5" opacity="0.8"/><rect x="378.3" y="16.5" width="1" height="132.5" opacity="0.1"/><rect x="379.3" y="16.5" width="1" height="132.5" opacity="0.9"/><rect x="380.3" y="16.5" width="1" height="132.5" opacity="0.8"/><rect x="381.3" y="16.5" width="1" height="132.5" opacity="0.2"/><rect x="382.3" y="16.5" width="1" height="132.5" opacity="0.9"/><rect x="383.3" y="16.5" width="1" height="132.5" opacity="0.8"/><rect x="384.3" y="16.5" width="1" height="132.5" opacity="0.9"/><rect x="385.3" y="16.5" width="1" height="132.5" opacity="0.8"/><rect x="386.3" y="16.5" width="1" height="132.5" opacity="0.8"/><rect x="387.3" y="16.5" width="3" height="132.5" opacity="0.1"/><rect x="391.3" y="16.5" width="1" height="132.5" opacity="0.1"/><rect x="393.3" y="16.5" width="1" height="132.5" opacity="0.6"/><rect x="394.3" y="16.5" width="2" height="132.5" opacity="0.1"/><rect x="396.3" y="16.5" width="1" height="132.5" opacity="0.6"/><rect x="397.3" y="16.5" width="1" height="132.5" opacity="0.9"/><rect x="398.3" y="16.5" width="1" height="132.5" opacity="0.1"/><rect x="399.3" y="16.5" width="1" height="132.5" opacity="0.8"/><rect x="400.3" y="16.5" width="1" height="132.5" opacity="0.1"/><rect x="402.3" y="16.5" width="6" height="132.5" opacity="0.1"/><rect x="408.3" y="16.5" width="1" height="132.5" opacity="0.8"/><rect x="409.3" y="16.5" width="1" height="132.5" opacity="0.8"/><rect x="410.3" y="16.5" width="1" height="132.5" opacity="0.8"/><rect x="411.3" y="16.5" width="1" height="132.5" opacity="0.1"/><rect x="412.3" y="16.5" width="1" height="132.5" opacity="0.8"/><rect x="413.3" y="16.5" width="1" height="132.5" /><rect x="414.3" y="16.5" width="1" height="132.5" opacity="0.9"/><rect x="415.3" y="16.5" width="1" height="132.5" opacity="0.1"/><rect x="417.3" y="16.5" width="1" height="132.5" opacity="0.6"/><rect x="418.3" y="16.5" width="2" height="132.5" opacity="0.8"/><rect x="420.3" y="16.5" width="4" height="132.5" opacity="0.1"/><rect x="426.3" y="16.5" width="1" height="132.5" opacity="0.1"/><rect x="427.3" y="16.5" width="1" height="132.5" opacity="0.8"/><rect x="429.3" y="16.5" width="1" height="132.5" opacity="0.1"/><rect x="430.3" y="16.5" width="1" height="132.5" opacity="0.2"/><rect x="432.3" y="16.5" width="2" height="132.5" opacity="0.7"/><rect x="434.3" y="16.5" width="1" height="132.5" opacity="0.1"/><rect x="435.3" y="16.5" width="1" height="132.5" opacity="0.9"/><rect x="436.3" y="16.5" width="1" height="132.5" /><rect x="437.3" y="16.5" width="3" height="132.5" opacity="0.9"/><rect x="440.3" y="16.5" width="1" height="132.5" opacity="0.1"/><rect x="445.3" y="16.5" width="2" height="132.5" opacity="0.1"/><rect x="448.3" y="16.5" width="3" height="132.5" opacity="0.1"/><rect x="452.3" y="16.5" width="2" height="132.5" opacity="0.1"/><rect x="454.3" y="16.5" width="1" height="132.5" opacity="0.9"/><rect x="455.3" y="16.5" width="1" height="132.5" opacity="0.8"/><rect x="456.3" y="16.5" width="1" height="132.5" opacity="0.1"/><rect x="458.3" y="16.5" width="1" height="132.5" opacity="0.1"/><rect x="460.3" y="16.5" width="1" height="132.5" opacity="0.8"/><rect x="462.3" y="16.5" width="1" height="132.5" opacity="0.8"/><rect x="463.3" y="16.5" width="2" height="132.5" opacity="0.1"/><rect x="465.3" y="16.5" width="1" height="132.5" opacity="0.2"/><rect x="466.3" y="16.5" width="1" height="132.5" opacity="0.9"/><rect x="467.3" y="16.5" width="1" height="132.5" /><rect x="468.3" y="16.5" width="1" height="132.5" opacity="0.2"/><rect x="469.3" y="16.5" width="1" height="132.5" opacity="0.6"/><rect x="471.3" y="16.5" width="2" height="132.5" opacity="0.8"/><rect x="473.3" y="16.5" width="2" height="132.5" opacity="0.1"/><rect x="475.3" y="16.5" width="1" height="132.5" opacity="0.6"/><rect x="476.3" y="16.5" width="1" height="132.5" opacity="0.2"/><rect x="477.3" y="16.5" width="1" height="132.5" opacity="0.6"/><rect x="345.3" y="17.5" width="133" height="2" opacity="0.1"/><rect x="345.3" y="19.5" width="133" height="1" opacity="0.8"/><rect x="345.3" y="20.5" width="133" height="1" opacity="0.6"/><rect x="345.3" y="21.5" width="133" height="3" opacity="0.1"/><rect x="345.3" y="25.5" width="133" height="1" opacity="0.1"/><rect x="345.3" y="26.5" width="133" height="2" opacity="0.8"/><rect x="345.3" y="28.5" width="133" height="1" opacity="0.1"/><rect x="345.3" y="29.5" width="133" height="1" opacity="0.6"/><rect x="345.3" y="30.4" width="133" height="1" opacity="0.1"/><rect x="345.3" y="31.4" width="133" height="1" opacity="0.7"/><rect x="345.3" y="32.4" width="133" height="1" opacity="0.8"/><rect x="345.3" y="35.4" width="133" height="2" opacity="0.1"/><rect x="345.3" y="38.4" width="133" height="1" opacity="0.7"/><rect x="345.3" y="40.4" width="133" height="1" opacity="0.1"/><rect x="345.3" y="41.4" width="133" height="1" opacity="0.8"/><rect x="345.3" y="43.4" width="133" height="1" opacity="0.8"/><rect x="345.3" y="44.4" width="133" height="1" opacity="0.7"/><rect x="345.3" y="45.4" width="133" height="1" opacity="0.8"/><rect x="345.3" y="46.4" width="133" height="1" opacity="0.8"/><rect x="345.3" y="48.4" width="133" height="1" opacity="0.1"/><rect x="345.3" y="50.4" width="133" height="1" opacity="0.8"/><rect x="345.3" y="52.4" width="133" height="1" opacity="0.6"/><rect x="345.3" y="54.4" width="133" height="1" opacity="0.1"/><rect x="345.3" y="55.4" width="133" height="1" /><rect x="345.3" y="56.3" width="133" height="1" opacity="0.1"/><rect x="345.3" y="57.3" width="133" height="1" opacity="0.9"/><rect x="345.3" y="58.3" width="133" height="1" opacity="0.8"/><rect x="345.3" y="59.3" width="133" height="2" opacity="0.9"/><rect x="345.3" y="62.3" width="133" height="1" opacity="0.1"/><rect x="345.3" y="63.3" width="133" height="1" opacity="0.2"/><rect x="345.3" y="64.3" width="133" height="1" opacity="0.6"/><rect x="345.3" y="66.3" width="133" height="1" opacity="0.8"/><rect x="345.3" y="67.3" width="133" height="1" opacity="0.8"/><rect x="345.3" y="68.3" width="133" height="1" opacity="0.1"/><rect x="345.3" y="69.3" width="133" height="1" opacity="0.2"/><rect x="345.3" y="70.3" width="133" height="1" opacity="0.6"/><rect x="345.3" y="71.3" width="133" height="1" opacity="0.1"/><rect x="345.3" y="72.3" width="133" height="1" opacity="0.7"/><rect x="345.3" y="73.3" width="133" height="1" opacity="0.1"/><rect x="345.3" y="74.3" width="133" height="2" opacity="0.8"/><rect x="345.3" y="77.3" width="133" height="1" opacity="0.1"/><rect x="345.3" y="78.3" width="133" height="1" opacity="0.2"/><rect x="345.3" y="80.3" width="133" height="1" opacity="0.9"/><rect x="345.3" y="81.3" width="133" height="1" opacity="0.1"/><rect x="345.3" y="82.3" width="133" height="1" opacity="0.8"/><rect x="345.3" y="83.2" width="133" height="1" opacity="0.1"/><rect x="345.3" y="85.2" width="133" height="2" opacity="0.1"/><rect x="345.3" y="89.2" width="133" height="1" opacity="0.1"/><rect x="345.3" y="90.2" width="133" height="1" opacity="0.8"/><rect x="345.3" y="91.2" width="133" height="1" opacity="0.1"/><rect x="345.3" y="93.2" width="133" height="3" opacity="0.1"/><rect x="345.3" y="97.2" width="133" height="2" opacity="0.1"/><rect x="345.3" y="101.2" width="133" height="4" opacity="0.1"/><rect x="345.3" y="106.2" width="133" height="2" opacity="0.1"/><rect x="345.3" y="108.2" width="133" height="1" opacity="0.9"/><rect x="345.3" y="109.2" width="133" height="2" opacity="0.2"/><rect x="345.3" y="111.1" width="133" height="1" /><rect x="345.3" y="112.1" width="133" height="1" opacity="0.8"/><rect x="345.3" y="114.1" width="133" height="1" opacity="0.6"/><rect x="345.3" y="116.1" width="133" height="1" opacity="0.1"/><rect x="345.3" y="118.1" width="133" height="1" opacity="0.1"/><rect x="345.3" y="119.1" width="133" height="1" opacity="0.6"/><rect x="345.3" y="120.1" width="133" height="1" opacity="0.9"/><rect x="345.3" y="121.1" width="133" height="1" opacity="0.7"/><rect x="345.3" y="122.1" width="133" height="2" opacity="0.6"/><rect x="345.3" y="124.1" width="133" height="1" opacity="0.8"/><rect x="345.3" y="125.1" width="133" height="1" opacity="0.9"/><rect x="345.3" y="126.1" width="133" height="1" opacity="0.1"/><rect x="345.3" y="128.1" width="133" height="1" opacity="0.6"/><rect x="345.3" y="129.1" width="133" height="1" opacity="0.7"/><rect x="345.3" y="130.1" width="133" height="1" opacity="0.1"/><rect x="345.3" y="131.1" width="133" height="1" opacity="0.8"/><rect x="345.3" y="134.1" width="133" height="1" opacity="0.8"/><rect x="345.3" y="136" width="133" height="1" opacity="0.2"/><rect x="345.3" y="137" width="133" height="1" opacity="0.1"/><rect x="345.3" y="138" width="133" height="1" opacity="0.2"/><rect x="345.3" y="140" width="133" height="1" /><rect x="345.3" y="141" width="133" height="1" opacity="0.9"/><rect x="345.3" y="142" width="133" height="1" opacity="0.1"/><rect x="345.3" y="143" width="133" height="1" opacity="0.9"/><rect x="345.3" y="145" width="133" height="1" opacity="0.8"/><rect x="345.3" y="147" width="133" height="1" opacity="0.1"/><rect x="345.3" y="148" width="133" height="1" opacity="0.7"/></g>
<g fill="#fff"><rect x="409.3" y="24.5" width="2" height="3" opacity="0.27"/><rect x="391.3" y="104.5" width="1" height="2" opacity="0.11"/><rect x="445.3" y="39.5" width="1" height="1" opacity="0.34"/><rect x="384.3" y="92.5" width="2" height="2" opacity="0.35"/><rect x="360.3" y="43.5" width="1" height="2" opacity="0.21"/><rect x="416.3" y="53.5" width="2" height="1" opacity="0.18"/><rect x="438.3" y="126.5" width="2" height="1" opacity="0.32"/><rect x="385.3" y="98.5" width="3" height="2" opacity="0.25"/><rect x="371.3" y="145.5" width="2" height="2" opacity="0.24"/><rect x="448.3" y="106.5" width="2" height="1" opacity="0.27"/><rect x="431.3" y="103.5" width="3" height="3" opacity="0.18"/><rect x="396.3" y="74.5" width="2" height="1" opacity="0.26"/><rect x="442.3" y="103.5" width="3" height="2" opacity="0.25"/><rect x="406.3" y="46.5" width="2" height="2" opacity="0.20"/><rect x="388.3" y="21.5" width="2" height="2" opacity="0.34"/><rect x="442.3" y="143.5" width="1" height="1" opacity="0.30"/><rect x="457.3" y="63.5" width="2" height="1" opacity="0.16"/><rect x="355.3" y="20.5" width="2" height="2" opacity="0.21"/><rect x="357.3" y="74.5" width="2" height="3" opacity="0.26"/><rect x="472.3" y="97.5" width="3" height="2" opacity="0.32"/><rect x="448.3" y="132.5" width="2" height="2" opacity="0.31"/><rect x="414.3" y="70.5" width="2" height="2" opacity="0.27"/><rect x="384.3" y="57.5" width="1" height="2" opacity="0.26"/><rect x="468.3" y="143.5" width="2" height="2" opacity="0.16"/><rect x="390.3" y="126.5" width="2" height="2" opacity="0.22"/><rect x="410.3" y="45.5" width="2" height="2" opacity="0.28"/><rect x="445.3" y="57.5" width="2" height="2" opacity="0.18"/><rect x="423.3" y="128.5" width="2" height="2" opacity="0.26"/><rect x="449.3" y="98.5" width="2" height="1" opacity="0.34"/><rect x="450.3" y="129.5" width="2" height="2" opacity="0.33"/><rect x="359.3" y="62.5" width="2" height="1" opacity="0.16"/><rect x="452.3" y="104.5" width="2" height="2" opacity="0.29"/><rect x="348.3" y="137.5" width="3" height="1" opacity="0.12"/><rect x="449.3" y="77.5" width="1" height="3" opacity="0.12"/><rect x="355.3" y="33.5" width="2" height="1" opacity="0.10"/><rect x="350.3" y="91.5" width="1" height="3" opacity="0.16"/><rect x="371.3" y="88.5" width="2" height="1" opacity="0.20"/><rect x="369.3" y="53.5" width="2" height="1" opacity="0.29"/><rect x="439.3" y="121.5" width="3" height="1" opacity="0.33"/><rect x="409.3" y="31.5" width="3" height="3" opacity="0.30"/><rect x="431.3" y="23.5" width="1" height="2" opacity="0.14"/><rect x="406.3" y="72.5" width="3" height="2" opacity="0.27"/><rect x="396.3" y="94.5" width="2" height="2" opacity="0.16"/><rect x="362.3" y="131.5" width="2" height="3" opacity="0.17"/><rect x="427.3" y="119.5" width="2" height="3" opacity="0.18"/><rect x="430.3" y="99.5" width="2" height="3" opacity="0.25"/><rect x="402.3" y="19.5" width="1" height="2" opacity="0.33"/><rect x="429.3" y="86.5" width="2" height="3" opacity="0.26"/><rect x="460.3" y="16.5" width="2" height="3" opacity="0.16"/><rect x="407.3" y="143.5" width="2" height="1" opacity="0.22"/><rect x="414.3" y="118.5" width="3" height="2" opacity="0.22"/><rect x="439.3" y="140.5" width="3" height="2" opacity="0.25"/><rect x="388.3" y="69.5" width="2" height="2" opacity="0.26"/><rect x="419.3" y="83.5" width="3" height="2" opacity="0.26"/><rect x="366.3" y="109.5" width="2" height="2" opacity="0.35"/><rect x="448.3" y="27.5" width="3" height="3" opacity="0.29"/><rect x="464.3" y="86.5" width="2" height="2" opacity="0.12"/><rect x="445.3" y="125.5" width="1" height="3" opacity="0.33"/><rect x="380.3" y="63.5" width="3" height="1" opacity="0.22"/><rect x="433.3" y="125.5" width="1" height="2" opacity="0.26"/><rect x="456.3" y="19.5" width="2" height="3" opacity="0.16"/><rect x="456.3" y="132.5" width="3" height="1" opacity="0.31"/><rect x="396.3" y="41.5" width="1" height="2" opacity="0.28"/><rect x="469.3" y="111.5" width="1" height="2" opacity="0.21"/><rect x="457.3" y="141.5" width="2" height="2" opacity="0.35"/><rect x="372.3" y="22.5" width="3" height="3" opacity="0.28"/><rect x="346.3" y="51.5" width="2" height="1" opacity="0.23"/><rect x="451.3" y="130.5" width="2" height="3" opacity="0.20"/><rect x="471.3" y="77.5" width="2" height="3" opacity="0.10"/><rect x="415.3" y="77.5" width="1" height="3" opacity="0.17"/><rect x="394.3" y="86.5" width="1" height="1" opacity="0.27"/><rect x="462.3" y="127.5" width="2" height="3" opacity="0.27"/><rect x="416.3" y="35.5" width="1" height="2" opacity="0.28"/><rect x="414.3" y="78.5" width="1" height="2" opacity="0.33"/><rect x="422.3" y="50.5" width="2" height="2" opacity="0.28"/><rect x="348.3" y="120.5" width="3" height="2" opacity="0.19"/><rect x="428.3" y="67.5" width="1" height="2" opacity="0.12"/><rect x="395.3" y="46.5" width="2" height="1" opacity="0.33"/><rect x="391.3" y="119.5" width="2" height="2" opacity="0.22"/><rect x="441.3" y="130.5" width="1" height="3" opacity="0.35"/><rect x="448.3" y="68.5" width="3" height="2" opacity="0.21"/><rect x="466.3" y="138.5" width="2" height="2" opacity="0.31"/><rect x="427.3" y="49.5" width="2" height="3" opacity="0.11"/><rect x="472.3" y="43.5" width="2" height="2" opacity="0.27"/><rect x="460.3" y="66.5" width="3" height="1" opacity="0.28"/><rect x="380.3" y="96.5" width="3" height="2" opacity="0.18"/><rect x="399.3" y="133.5" width="2" height="2" opacity="0.32"/><rect x="383.3" y="63.5" width="1" height="3" opacity="0.28"/><rect x="355.3" y="38.5" width="1" height="2" opacity="0.34"/><rect x="355.3" y="83.5" width="2" height="2" opacity="0.34"/><rect x="429.3" y="138.5" width="1" height="2" opacity="0.33"/><rect x="365.3" y="74.5" width="1" height="2" opacity="0.25"/><rect x="377.3" y="49.5" width="2" height="3" opacity="0.24"/><rect x="426.3" y="39.5" width="2" height="1" opacity="0.12"/><rect x="392.3" y="42.5" width="1" height="2" opacity="0.31"/><rect x="415.3" y="29.5" width="1" height="2" opacity="0.14"/><rect x="366.3" y="63.5" width="2" height="3" opacity="0.30"/><rect x="474.3" y="53.5" width="2" height="2" opacity="0.30"/><rect x="446.3" y="136.5" width="2" height="1" opacity="0.25"/><rect x="388.3" y="103.5" width="3" height="1" opacity="0.25"/><rect x="419.3" y="103.5" width="2" height="2" opacity="0.12"/><rect x="362.3" y="143.5" width="3" height="2" opacity="0.10"/><rect x="467.3" y="81.5" width="3" height="2" opacity="0.32"/><rect x="440.3" y="19.5" width="2" height="1" opacity="0.10"/><rect x="408.3" y="37.5" width="2" height="2" opacity="0.24"/><rect x="362.3" y="57.5" width="1" height="2" opacity="0.30"/><rect x="421.3" y="16.5" width="3" height="1" opacity="0.16"/><rect x="442.3" y="58.5" width="2" height="1" opacity="0.18"/><rect x="420.3" y="54.5" width="2" height="1" opacity="0.28"/><rect x="438.3" y="45.5" width="1" height="1" opacity="0.17"/><rect x="432.3" y="56.5" width="2" height="2" opacity="0.21"/><rect x="346.3" y="60.5" width="3" height="2" opacity="0.33"/><rect x="393.3" y="109.5" width="2" height="3" opacity="0.19"/><rect x="362.3" y="57.5" width="3" height="1" opacity="0.16"/><rect x="420.3" y="17.5" width="2" height="2" opacity="0.26"/><rect x="451.3" y="114.5" width="3" height="2" opacity="0.12"/><rect x="355.3" y="76.5" width="2" height="2" opacity="0.14"/><rect x="418.3" y="144.5" width="2" height="2" opacity="0.18"/><rect x="436.3" y="16.5" width="3" height="2" opacity="0.12"/><rect x="450.3" y="111.5" width="2" height="3" opacity="0.29"/><rect x="356.3" y="138.5" width="1" height="2" opacity="0.32"/><rect x="449.3" y="61.5" width="2" height="1" opacity="0.20"/><rect x="426.3" y="85.5" width="2" height="2" opacity="0.24"/><rect x="365.3" y="104.5" width="2" height="1" opacity="0.17"/><rect x="461.3" y="32.5" width="1" height="2" opacity="0.33"/><rect x="439.3" y="56.5" width="3" height="1" opacity="0.12"/><rect x="463.3" y="129.5" width="2" height="2" opacity="0.10"/><rect x="392.3" y="28.5" width="2" height="2" opacity="0.20"/><rect x="373.3" y="85.5" width="1" height="1" opacity="0.27"/><rect x="414.3" y="31.5" width="1" height="3" opacity="0.20"/><rect x="425.3" y="70.5" width="2" height="2" opacity="0.21"/><rect x="358.3" y="110.5" width="2" height="1" opacity="0.34"/><rect x="369.3" y="70.5" width="3" height="2" opacity="0.32"/><rect x="465.3" y="102.5" width="3" height="2" opacity="0.28"/><rect x="470.3" y="106.5" width="2" height="1" opacity="0.16"/><rect x="390.3" y="74.5" width="2" height="2" opacity="0.33"/><rect x="368.3" y="23.5" width="2" height="3" opacity="0.12"/><rect x="464.3" y="37.5" width="2" height="3" opacity="0.24"/><rect x="372.3" y="53.5" width="3" height="1" opacity="0.26"/><rect x="433.3" y="61.5" width="2" height="1" opacity="0.15"/><rect x="419.3" y="91.5" width="3" height="2" opacity="0.15"/><rect x="420.3" y="30.5" width="2" height="1" opacity="0.13"/><rect x="345.3" y="81.5" width="2" height="2" opacity="0.23"/><rect x="415.3" y="20.5" width="1" height="1" opacity="0.29"/><rect x="350.3" y="94.5" width="3" height="3" opacity="0.17"/><rect x="473.3" y="25.5" width="2" height="2" opacity="0.15"/><rect x="439.3" y="129.5" width="2" height="3" opacity="0.22"/><rect x="374.3" y="143.5" width="2" height="2" opacity="0.33"/><rect x="461.3" y="93.5" width="2" height="2" opacity="0.28"/><rect x="433.3" y="75.5" width="3" height="2" opacity="0.32"/><rect x="434.3" y="124.5" width="2" height="2" opacity="0.15"/><rect x="390.3" y="58.5" width="1" height="3" opacity="0.13"/><rect x="349.3" y="105.5" width="3" height="3" opacity="0.13"/><rect x="440.3" y="118.5" width="2" height="2" opacity="0.19"/><rect x="365.3" y="81.5" width="2" height="2" opacity="0.25"/><rect x="356.3" y="68.5" width="2" height="2" opacity="0.17"/><rect x="367.3" y="39.5" width="3" height="3" opacity="0.33"/><rect x="451.3" y="53.5" width="2" height="2" opacity="0.27"/><rect x="457.3" y="46.5" width="2" height="2" opacity="0.35"/><rect x="407.3" y="134.5" width="2" height="3" opacity="0.31"/><rect x="354.3" y="140.5" width="2" height="2" opacity="0.35"/><rect x="432.3" y="135.5" width="3" height="3" opacity="0.27"/><rect x="454.3" y="120.5" width="2" height="2" opacity="0.23"/><rect x="436.3" y="29.5" width="3" height="2" opacity="0.19"/><rect x="390.3" y="106.5" width="1" height="1" opacity="0.31"/><rect x="359.3" y="127.5" width="2" height="1" opacity="0.28"/><rect x="452.3" y="123.5" width="2" height="2" opacity="0.13"/><rect x="443.3" y="38.5" width="3" height="3" opacity="0.26"/><rect x="473.3" y="31.5" width="2" height="2" opacity="0.34"/><rect x="468.3" y="45.5" width="2" height="2" opacity="0.21"/><rect x="408.3" y="69.5" width="2" height="1" opacity="0.32"/><rect x="351.3" y="61.5" width="1" height="1" opacity="0.15"/><rect x="411.3" y="75.5" width="3" height="2" opacity="0.34"/><rect x="399.3" y="94.5" width="1" height="2" opacity="0.32"/><rect x="366.3" y="68.5" width="2" height="2" opacity="0.30"/><rect x="353.3" y="85.5" width="1" height="2" opacity="0.28"/><rect x="449.3" y="49.5" width="3" height="3" opacity="0.19"/><rect x="370.3" y="103.5" width="3" height="3" opacity="0.24"/><rect x="413.3" y="37.5" width="3" height="2" opacity="0.28"/><rect x="456.3" y="75.5" width="3" height="3" opacity="0.19"/><rect x="455.3" y="102.5" width="3" height="3" opacity="0.26"/><rect x="368.3" y="128.5" width="1" height="2" opacity="0.32"/><rect x="403.3" y="36.5" width="2" height="1" opacity="0.29"/><rect x="423.3" y="25.5" width="2" height="2" opacity="0.21"/><rect x="447.3" y="120.5" width="3" height="1" opacity="0.25"/><rect x="367.3" y="110.5" width="2" height="3" opacity="0.25"/><rect x="398.3" y="19.5" width="2" height="2" opacity="0.30"/><rect x="441.3" y="101.5" width="3" height="1" opacity="0.24"/><rect x="359.3" y="53.5" width="1" height="2" opacity="0.29"/><rect x="393.3" y="23.5" width="2" height="1" opacity="0.12"/><rect x="380.3" y="73.5" width="2" height="2" opacity="0.19"/><rect x="460.3" y="133.5" width="2" height="2" opacity="0.12"/><rect x="425.3" y="90.5" width="2" height="3" opacity="0.28"/><rect x="422.3" y="109.5" width="3" height="1" opacity="0.24"/><rect x="398.3" y="43.5" width="1" height="2" opacity="0.27"/><rect x="429.3" y="62.5" width="2" height="2" opacity="0.26"/><rect x="395.3" y="132.5" width="3" height="1" opacity="0.28"/><rect x="412.3" y="37.5" width="2" height="2" opacity="0.18"/><rect x="407.3" y="116.5" width="1" height="3" opacity="0.15"/><rect x="419.3" y="84.5" width="3" height="2" opacity="0.13"/><rect x="409.3" y="74.5" width="2" height="3" opacity="0.33"/><rect x="399.3" y="77.5" width="3" height="3" opacity="0.24"/><rect x="361.3" y="112.5" width="2" height="2" opacity="0.17"/><rect x="380.3" y="133.5" width="2" height="1" opacity="0.18"/><rect x="465.3" y="21.5" width="1" height="2" opacity="0.33"/><rect x="378.3" y="85.5" width="1" height="2" opacity="0.28"/><rect x="462.3" y="46.5" width="3" height="3" opacity="0.17"/><rect x="461.3" y="60.5" width="3" height="2" opacity="0.13"/><rect x="349.3" y="109.5" width="2" height="2" opacity="0.26"/><rect x="368.3" y="116.5" width="2" height="1" opacity="0.20"/><rect x="422.3" y="94.5" width="3" height="1" opacity="0.15"/><rect x="390.3" y="55.5" width="2" height="2" opacity="0.28"/><rect x="451.3" y="146.5" width="1" height="1" opacity="0.28"/><rect x="370.3" y="25.5" width="2" height="2" opacity="0.11"/><rect x="431.3" y="115.5" width="1" height="2" opacity="0.12"/><rect x="420.3" y="24.5" width="3" height="2" opacity="0.21"/><rect x="407.3" y="76.5" width="1" height="2" opacity="0.11"/><rect x="473.3" y="69.5" width="1" height="2" opacity="0.32"/><rect x="409.3" y="120.5" width="2" height="2" opacity="0.14"/><rect x="392.3" y="88.5" width="2" height="1" opacity="0.19"/><rect x="359.3" y="27.5" width="2" height="3" opacity="0.14"/><rect x="448.3" y="30.5" width="2" height="3" opacity="0.22"/><rect x="449.3" y="134.5" width="3" height="2" opacity="0.34"/><rect x="349.3" y="97.5" width="3" height="1" opacity="0.32"/><rect x="357.3" y="24.5" width="1" height="3" opacity="0.14"/><rect x="394.3" y="93.5" width="1" height="1" opacity="0.34"/><rect x="444.3" y="135.5" width="1" height="2" opacity="0.30"/><rect x="445.3" y="71.5" width="2" height="2" opacity="0.24"/><rect x="423.3" y="106.5" width="3" height="2" opacity="0.24"/><rect x="467.3" y="90.5" width="2" height="2" opacity="0.24"/><rect x="407.3" y="127.5" width="3" height="3" opacity="0.25"/><rect x="346.3" y="35.5" width="3" height="1" opacity="0.31"/><rect x="432.3" y="105.5" width="2" height="2" opacity="0.20"/><rect x="421.3" y="85.5" width="1" height="2" opacity="0.23"/><rect x="402.3" y="103.5" width="2" height="1" opacity="0.23"/><rect x="417.3" y="130.5" width="3" height="3" opacity="0.20"/><rect x="352.3" y="111.5" width="3" height="2" opacity="0.24"/><rect x="408.3" y="36.5" width="2" height="3" opacity="0.24"/><rect x="475.3" y="17.5" width="2" height="2" opacity="0.19"/><rect x="430.3" y="116.5" width="1" height="2" opacity="0.12"/><rect x="410.3" y="21.5" width="1" height="1" opacity="0.14"/><rect x="459.3" y="92.5" width="3" height="2" opacity="0.19"/><rect x="429.3" y="18.5" width="2" height="3" opacity="0.21"/><rect x="441.3" y="36.5" width="1" height="1" opacity="0.28"/><rect x="389.3" y="73.5" width="3" height="3" opacity="0.32"/><rect x="424.3" y="73.5" width="3" height="1" opacity="0.18"/><rect x="466.3" y="143.5" width="1" height="3" opacity="0.22"/><rect x="430.3" y="91.5" width="2" height="2" opacity="0.35"/><rect x="363.3" y="84.5" width="1" height="3" opacity="0.24"/><rect x="399.3" y="70.5" width="3" height="3" opacity="0.19"/><rect x="353.3" y="42.5" width="2" height="2" opacity="0.26"/><rect x="396.3" y="128.5" width="3" height="1" opacity="0.14"/><rect x="434.3" y="139.5" width="1" height="3" opacity="0.19"/><rect x="353.3" y="81.5" width="2" height="2" opacity="0.12"/><rect x="438.3" y="95.5" width="2" height="2" opacity="0.17"/><rect x="365.3" y="117.5" width="2" height="1" opacity="0.22"/><rect x="360.3" y="124.5" width="1" height="2" opacity="0.31"/><rect x="371.3" y="59.5" width="2" height="1" opacity="0.13"/><rect x="369.3" y="145.5" width="2" height="2" opacity="0.12"/><rect x="437.3" y="58.5" width="2" height="3" opacity="0.13"/><rect x="466.3" y="76.5" width="2" height="1" opacity="0.18"/><rect x="461.3" y="101.5" width="1" height="3" opacity="0.18"/><rect x="421.3" y="37.5" width="2" height="2" opacity="0.32"/><rect x="460.3" y="134.5" width="2" height="1" opacity="0.24"/><rect x="394.3" y="103.5" width="1" height="2" opacity="0.35"/><rect x="350.3" y="113.5" width="3" height="2" opacity="0.27"/><rect x="360.3" y="128.5" width="3" height="3" opacity="0.23"/><rect x="377.3" y="16.5" width="3" height="3" opacity="0.12"/><rect x="423.3" y="44.5" width="3" height="1" opacity="0.30"/><rect x="469.3" y="134.5" width="1" height="1" opacity="0.24"/><rect x="403.3" y="118.5" width="2" height="1" opacity="0.24"/><rect x="397.3" y="81.5" width="3" height="2" opacity="0.22"/><rect x="417.3" y="25.5" width="2" height="3" opacity="0.25"/><rect x="366.3" y="25.5" width="3" height="1" opacity="0.33"/><rect x="385.3" y="104.5" width="1" height="3" opacity="0.26"/><rect x="400.3" y="71.5" width="3" height="2" opacity="0.16"/><rect x="427.3" y="28.5" width="2" height="3" opacity="0.27"/><rect x="450.3" y="53.5" width="2" height="1" opacity="0.31"/><rect x="451.3" y="95.5" width="3" height="3" opacity="0.34"/><rect x="469.3" y="60.5" width="1" height="3" opacity="0.24"/><rect x="364.3" y="42.5" width="1" height="2" opacity="0.35"/><rect x="448.3" y="82.5" width="2" height="2" opacity="0.21"/><rect x="384.3" y="69.5" width="1" height="2" opacity="0.12"/><rect x="419.3" y="69.5" width="3" height="2" opacity="0.20"/><rect x="355.3" y="140.5" width="2" height="1" opacity="0.12"/><rect x="471.3" y="119.5" width="3" height="3" opacity="0.16"/><rect x="402.3" y="85.5" width="1" height="2" opacity="0.34"/><rect x="412.3" y="48.5" width="1" height="3" opacity="0.31"/><rect x="432.3" y="67.5" width="2" height="2" opacity="0.14"/><rect x="403.3" y="39.5" width="2" height="2" opacity="0.25"/><rect x="357.3" y="99.5" width="3" height="2" opacity="0.25"/><rect x="384.3" y="145.5" width="1" height="1" opacity="0.13"/><rect x="379.3" y="120.5" width="3" height="3" opacity="0.22"/><rect x="390.3" y="77.5" width="2" height="1" opacity="0.31"/><rect x="442.3" y="94.5" width="3" height="3" opacity="0.14"/><rect x="346.3" y="34.5" width="1" height="2" opacity="0.10"/><rect x="417.3" y="54.5" width="2" height="3" opacity="0.16"/><rect x="399.3" y="18.5" width="2" height="2" opacity="0.14"/><rect x="435.3" y="35.5" width="1" height="3" opacity="0.26"/><rect x="428.3" y="96.5" width="2" height="1" opacity="0.35"/><rect x="370.3" y="145.5" width="2" height="2" opacity="0.32"/><rect x="400.3" y="76.5" width="3" height="1" opacity="0.31"/><rect x="423.3" y="145.5" width="2" height="2" opacity="0.33"/><rect x="403.3" y="98.5" width="1" height="3" opacity="0.12"/><rect x="351.3" y="21.5" width="3" height="3" opacity="0.24"/><rect x="458.3" y="39.5" width="1" height="2" opacity="0.16"/><rect x="426.3" y="131.5" width="3" height="3" opacity="0.22"/><rect x="401.3" y="37.5" width="2" height="3" opacity="0.13"/><rect x="465.3" y="44.5" width="1" height="2" opacity="0.11"/><rect x="375.3" y="37.5" width="3" height="2" opacity="0.28"/><rect x="390.3" y="59.5" width="3" height="1" opacity="0.15"/><rect x="450.3" y="116.5" width="2" height="2" opacity="0.21"/><rect x="392.3" y="126.5" width="3" height="2" opacity="0.20"/><rect x="397.3" y="57.5" width="2" height="2" opacity="0.32"/><rect x="348.3" y="94.5" width="2" height="1" opacity="0.15"/><rect x="377.3" y="25.5" width="1" height="1" opacity="0.20"/><rect x="470.3" y="17.5" width="2" height="1" opacity="0.29"/><rect x="416.3" y="29.5" width="3" height="3" opacity="0.17"/><rect x="459.3" y="68.5" width="3" height="3" opacity="0.17"/><rect x="417.3" y="51.5" width="1" height="2" opacity="0.19"/><rect x="351.3" y="101.5" width="2" height="2" opacity="0.35"/><rect x="470.3" y="125.5" width="2" height="2" opacity="0.17"/><rect x="402.3" y="100.5" width="1" height="2" opacity="0.26"/><rect x="467.3" y="74.5" width="3" height="1" opacity="0.27"/><rect x="461.3" y="111.5" width="2" height="3" opacity="0.26"/><rect x="353.3" y="42.5" width="3" height="2" opacity="0.12"/><rect x="434.3" y="56.5" width="3" height="1" opacity="0.33"/><rect x="465.3" y="101.5" width="3" height="2" opacity="0.30"/><rect x="364.3" y="41.5" width="1" height="1" opacity="0.11"/><rect x="345.3" y="97.5" width="3" height="1" opacity="0.11"/><rect x="470.3" y="72.5" width="3" height="1" opacity="0.28"/><rect x="419.3" y="38.5" width="2" height="2" opacity="0.11"/><rect x="389.3" y="128.5" width="3" height="2" opacity="0.16"/><rect x="411.3" y="96.5" width="2" height="2" opacity="0.15"/><rect x="359.3" y="104.5" width="3" height="1" opacity="0.15"/><rect x="416.3" y="109.5" width="2" height="1" opacity="0.29"/><rect x="367.3" y="49.5" width="2" height="2" opacity="0.21"/><rect x="376.3" y="125.5" width="3" height="3" opacity="0.22"/><rect x="367.3" y="96.5" width="1" height="2" opacity="0.21"/><rect x="459.3" y="80.5" width="2" height="2" opacity="0.30"/><rect x="409.3" y="112.5" width="3" height="3" opacity="0.34"/><rect x="382.3" y="52.5" width="2" height="3" opacity="0.25"/><rect x="436.3" y="87.5" width="1" height="2" opacity="0.24"/><rect x="444.3" y="89.5" width="2" height="2" opacity="0.33"/><rect x="444.3" y="135.5" width="2" height="1" opacity="0.30"/><rect x="372.3" y="138.5" width="2" height="2" opacity="0.20"/><rect x="431.3" y="132.5" width="2" height="1" opacity="0.23"/><rect x="433.3" y="80.5" width="2" height="2" opacity="0.30"/><rect x="378.3" y="98.5" width="3" height="2" opacity="0.17"/><rect x="359.3" y="71.5" width="2" height="2" opacity="0.17"/></g>
<line x1="345.3" y1="149" x2="478.3" y2="16.5" stroke="#fff" stroke-width="0.8" opacity="0.45"/>
</g>
<rect x="345.3" y="16.5" width="133" height="132.5" fill="none" stroke="#666" stroke-width="0.7"/>
<g filter="url(#bl)">
<rect x="517.4" y="16.5" width="133" height="132.5" fill="#000"/>
<g fill="#fff"><rect x="517.4" y="16.5" width="1" height="132.5" opacity="0.8"/><rect x="518.4" y="16.5" width="1" height="132.5" /><rect x="519.4" y="16.5" width="1" height="132.5" opacity="0.7"/><rect x="520.4" y="16.5" width="1" height="132.5" opacity="0.1"/><rect x="521.4" y="16.5" width="1" height="132.5" opacity="0.8"/><rect x="522.4" y="16.5" width="1" height="132.5" opacity="0.1"/><rect x="523.4" y="16.5" width="1" height="132.5" opacity="0.9"/><rect x="524.4" y="16.5" width="1" height="132.5" opacity="0.8"/><rect x="525.4" y="16.5" width="1" height="132.5" opacity="0.1"/><rect x="526.4" y="16.5" width="1" height="132.5" opacity="0.9"/><rect x="527.4" y="16.5" width="1" height="132.5" opacity="0.1"/><rect x="528.4" y="16.5" width="1" height="132.5" opacity="0.2"/><rect x="529.4" y="16.5" width="1" height="132.5" opacity="0.1"/><rect x="530.4" y="16.5" width="1" height="132.5" opacity="0.9"/><rect x="531.4" y="16.5" width="1" height="132.5" /><rect x="532.4" y="16.5" width="1" height="132.5" opacity="0.9"/><rect x="533.4" y="16.5" width="1" height="132.5" opacity="0.8"/><rect x="534.4" y="16.5" width="1" height="132.5" opacity="0.9"/><rect x="535.4" y="16.5" width="1" height="132.5" opacity="0.1"/><rect x="536.4" y="16.5" width="1" height="132.5" opacity="0.9"/><rect x="537.4" y="16.5" width="1" height="132.5" opacity="0.1"/><rect x="538.4" y="16.5" width="1" height="132.5" opacity="0.8"/><rect x="539.4" y="16.5" width="2" height="132.5" opacity="0.9"/><rect x="541.4" y="16.5" width="1" height="132.5" /><rect x="542.4" y="16.5" width="1" height="132.5" opacity="0.7"/><rect x="543.4" y="16.5" width="1" height="132.5" /><rect x="544.4" y="16.5" width="1" height="132.5" opacity="0.9"/><rect x="545.4" y="16.5" width="1" height="132.5" /><rect x="546.4" y="16.5" width="1" height="132.5" opacity="0.1"/><rect x="548.4" y="16.5" width="1" height="132.5" opacity="0.8"/><rect x="549.4" y="16.5" width="2" height="132.5" opacity="0.1"/><rect x="551.4" y="16.5" width="1" height="132.5" opacity="0.9"/><rect x="552.4" y="16.5" width="1" height="132.5" /><rect x="553.4" y="16.5" width="1" height="132.5" opacity="0.1"/><rect x="554.4" y="16.5" width="1" height="132.5" opacity="0.8"/><rect x="555.4" y="16.5" width="2" height="132.5" /><rect x="559.4" y="16.5" width="1" height="132.5" opacity="0.8"/><rect x="560.4" y="16.5" width="1" height="132.5" opacity="0.8"/><rect x="561.4" y="16.5" width="1" height="132.5" /><rect x="562.4" y="16.5" width="1" height="132.5" opacity="0.8"/><rect x="564.4" y="16.5" width="1" height="132.5" opacity="0.8"/><rect x="565.4" y="16.5" width="1" height="132.5" /><rect x="567.4" y="16.5" width="1" height="132.5" opacity="0.9"/><rect x="568.4" y="16.5" width="1" height="132.5" /><rect x="569.4" y="16.5" width="1" height="132.5" opacity="0.9"/><rect x="570.4" y="16.5" width="1" height="132.5" opacity="0.1"/><rect x="571.4" y="16.5" width="1" height="132.5" opacity="0.8"/><rect x="572.4" y="16.5" width="2" height="132.5" opacity="0.9"/><rect x="574.4" y="16.5" width="1" height="132.5" /><rect x="575.4" y="16.5" width="1" height="132.5" opacity="0.8"/><rect x="577.4" y="16.5" width="1" height="132.5" opacity="0.8"/><rect x="578.4" y="16.5" width="1" height="132.5" opacity="0.1"/><rect x="579.4" y="16.5" width="1" height="132.5" opacity="0.8"/><rect x="580.4" y="16.5" width="1" height="132.5" opacity="0.9"/><rect x="581.4" y="16.5" width="1" height="132.5" opacity="0.8"/><rect x="582.4" y="16.5" width="1" height="132.5" opacity="0.1"/><rect x="583.4" y="16.5" width="1" height="132.5" /><rect x="584.4" y="16.5" width="1" height="132.5" opacity="0.8"/><rect x="585.4" y="16.5" width="1" height="132.5" opacity="0.1"/><rect x="586.4" y="16.5" width="1" height="132.5" /><rect x="587.4" y="16.5" width="1" height="132.5" opacity="0.8"/><rect x="588.4" y="16.5" width="1" height="132.5" opacity="0.8"/><rect x="589.4" y="16.5" width="4" height="132.5" opacity="0.1"/><rect x="593.4" y="16.5" width="1" height="132.5" /><rect x="594.4" y="16.5" width="1" height="132.5" opacity="0.9"/><rect x="595.4" y="16.5" width="1" height="132.5" opacity="0.8"/><rect x="598.4" y="16.5" width="2" height="132.5" opacity="0.1"/><rect x="600.4" y="16.5" width="2" height="132.5" opacity="0.2"/><rect x="602.4" y="16.5" width="1" height="132.5" opacity="0.9"/><rect x="603.4" y="16.5" width="1" height="132.5" opacity="0.8"/><rect x="604.4" y="16.5" width="3" height="132.5" opacity="0.9"/><rect x="607.4" y="16.5" width="2" height="132.5" opacity="0.1"/><rect x="610.4" y="16.5" width="1" height="132.5" opacity="0.9"/><rect x="611.4" y="16.5" width="1" height="132.5" opacity="0.8"/><rect x="612.4" y="16.5" width="1" height="132.5" /><rect x="613.4" y="16.5" width="1" height="132.5" opacity="0.8"/><rect x="614.4" y="16.5" width="2" height="132.5" opacity="0.9"/><rect x="616.4" y="16.5" width="1" height="132.5" opacity="0.8"/><rect x="617.4" y="16.5" width="3" height="132.5" opacity="0.1"/><rect x="620.4" y="16.5" width="1" height="132.5" opacity="0.9"/><rect x="621.4" y="16.5" width="1" height="132.5" opacity="0.1"/><rect x="622.4" y="16.5" width="1" height="132.5" opacity="0.8"/><rect x="623.4" y="16.5" width="1" height="132.5" opacity="0.1"/><rect x="624.4" y="16.5" width="1" height="132.5" opacity="0.8"/><rect x="626.4" y="16.5" width="1" height="132.5" opacity="0.8"/><rect x="627.4" y="16.5" width="1" height="132.5" opacity="0.9"/><rect x="628.4" y="16.5" width="1" height="132.5" opacity="0.8"/><rect x="630.4" y="16.5" width="1" height="132.5" opacity="0.1"/><rect x="631.4" y="16.5" width="1" height="132.5" opacity="0.8"/><rect x="632.4" y="16.5" width="1" height="132.5" opacity="0.1"/><rect x="634.4" y="16.5" width="1" height="132.5" opacity="0.9"/><rect x="635.4" y="16.5" width="1" height="132.5" opacity="0.2"/><rect x="636.4" y="16.5" width="1" height="132.5" opacity="0.1"/><rect x="637.4" y="16.5" width="2" height="132.5" /><rect x="639.4" y="16.5" width="2" height="132.5" opacity="0.1"/><rect x="641.4" y="16.5" width="1" height="132.5" opacity="0.8"/><rect x="642.4" y="16.5" width="2" height="132.5" opacity="0.1"/><rect x="644.4" y="16.5" width="1" height="132.5" opacity="0.8"/><rect x="646.4" y="16.5" width="1" height="132.5" /><rect x="648.4" y="16.5" width="1" height="132.5" opacity="0.1"/><rect x="517.4" y="16.5" width="133" height="1" opacity="0.8"/><rect x="517.4" y="18.5" width="133" height="1" opacity="0.1"/><rect x="517.4" y="19.5" width="133" height="1" opacity="0.2"/><rect x="517.4" y="20.5" width="133" height="1" opacity="0.8"/><rect x="517.4" y="21.5" width="133" height="2" opacity="0.1"/><rect x="517.4" y="23.5" width="133" height="1" opacity="0.8"/><rect x="517.4" y="24.5" width="133" height="2" opacity="0.1"/><rect x="517.4" y="27.5" width="133" height="1" opacity="0.9"/><rect x="517.4" y="28.5" width="133" height="1" /><rect x="517.4" y="29.5" width="133" height="1" opacity="0.1"/><rect x="517.4" y="30.4" width="133" height="1" opacity="0.2"/><rect x="517.4" y="31.4" width="133" height="2" opacity="0.1"/><rect x="517.4" y="34.4" width="133" height="2" opacity="0.1"/><rect x="517.4" y="37.4" width="133" height="3" opacity="0.9"/><rect x="517.4" y="40.4" width="133" height="1" opacity="0.2"/><rect x="517.4" y="41.4" width="133" height="3" opacity="0.1"/><rect x="517.4" y="44.4" width="133" height="1" opacity="0.8"/><rect x="517.4" y="45.4" width="133" height="1" opacity="0.1"/><rect x="517.4" y="46.4" width="133" height="1" opacity="0.8"/><rect x="517.4" y="47.4" width="133" height="2" opacity="0.1"/><rect x="517.4" y="50.4" width="133" height="1" opacity="0.8"/><rect x="517.4" y="51.4" width="133" height="1" /><rect x="517.4" y="52.4" width="133" height="1" opacity="0.9"/><rect x="517.4" y="53.4" width="133" height="1" opacity="0.8"/><rect x="517.4" y="54.4" width="133" height="1" opacity="0.9"/><rect x="517.4" y="55.4" width="133" height="1" opacity="0.1"/><rect x="517.4" y="56.3" width="133" height="1" opacity="0.8"/><rect x="517.4" y="57.3" width="133" height="4" opacity="0.1"/><rect x="517.4" y="62.3" width="133" height="2" opacity="0.1"/><rect x="517.4" y="65.3" width="133" height="1" opacity="0.1"/><rect x="517.4" y="68.3" width="133" height="1" /><rect x="517.4" y="71.3" width="133" height="1" opacity="0.9"/><rect x="517.4" y="72.3" width="133" height="4" opacity="0.1"/><rect x="517.4" y="76.3" width="133" height="1" opacity="0.7"/><rect x="517.4" y="77.3" width="133" height="1" opacity="0.1"/><rect x="517.4" y="78.3" width="133" height="1" opacity="0.9"/><rect x="517.4" y="79.3" width="133" height="1" /><rect x="517.4" y="80.3" width="133" height="3" opacity="0.1"/><rect x="517.4" y="83.2" width="133" height="1" /><rect x="517.4" y="84.2" width="133" height="3" opacity="0.1"/><rect x="517.4" y="87.2" width="133" height="1" opacity="0.9"/><rect x="517.4" y="88.2" width="133" height="1" /><rect x="517.4" y="90.2" width="133" height="2" opacity="0.1"/><rect x="517.4" y="92.2" width="133" height="1" opacity="0.7"/><rect x="517.4" y="94.2" width="133" height="2" opacity="0.1"/><rect x="517.4" y="97.2" width="133" height="2" opacity="0.1"/><rect x="517.4" y="100.2" width="133" height="1" opacity="0.8"/><rect x="517.4" y="101.2" width="133" height="1" opacity="0.9"/><rect x="517.4" y="102.2" width="133" height="2" opacity="0.1"/><rect x="517.4" y="105.2" width="133" height="1" opacity="0.8"/><rect x="517.4" y="106.2" width="133" height="1" /><rect x="517.4" y="107.2" width="133" height="1" opacity="0.8"/><rect x="517.4" y="108.2" width="133" height="2" opacity="0.1"/><rect x="517.4" y="110.1" width="133" height="1" opacity="0.8"/><rect x="517.4" y="113.1" width="133" height="1" opacity="0.8"/><rect x="517.4" y="114.1" width="133" height="2" opacity="0.9"/><rect x="517.4" y="116.1" width="133" height="5" opacity="0.1"/><rect x="517.4" y="121.1" width="133" height="1" opacity="0.8"/><rect x="517.4" y="122.1" width="133" height="1" opacity="0.8"/><rect x="517.4" y="125.1" width="133" height="1" opacity="0.1"/><rect x="517.4" y="126.1" width="133" height="1" opacity="0.7"/><rect x="517.4" y="127.1" width="133" height="1" opacity="0.8"/><rect x="517.4" y="128.1" width="133" height="1" opacity="0.2"/><rect x="517.4" y="129.1" width="133" height="2" opacity="0.1"/><rect x="517.4" y="131.1" width="133" height="1" opacity="0.8"/><rect x="517.4" y="133.1" width="133" height="1" opacity="0.1"/><rect x="517.4" y="134.1" width="133" height="2" opacity="0.9"/><rect x="517.4" y="136" width="133" height="3" opacity="0.1"/><rect x="517.4" y="140" width="133" height="1" opacity="0.1"/><rect x="517.4" y="142" width="133" height="3" opacity="0.1"/><rect x="517.4" y="145" width="133" height="1" opacity="0.8"/><rect x="517.4" y="147" width="133" height="2" opacity="0.1"/></g>
<g fill="#fff"><rect x="628.4" y="90.5" width="3" height="1" opacity="0.19"/><rect x="602.4" y="105.5" width="2" height="2" opacity="0.34"/><rect x="608.4" y="102.5" width="3" height="3" opacity="0.31"/><rect x="595.4" y="57.5" width="3" height="2" opacity="0.24"/><rect x="555.4" y="134.5" width="2" height="2" opacity="0.20"/><rect x="597.4" y="69.5" width="1" height="2" opacity="0.14"/><rect x="638.4" y="46.5" width="2" height="1" opacity="0.25"/><rect x="613.4" y="17.5" width="2" height="3" opacity="0.21"/><rect x="594.4" y="140.5" width="2" height="3" opacity="0.14"/><rect x="530.4" y="35.5" width="2" height="1" opacity="0.18"/><rect x="535.4" y="92.5" width="2" height="2" opacity="0.11"/><rect x="530.4" y="101.5" width="3" height="3" opacity="0.23"/><rect x="628.4" y="71.5" width="2" height="3" opacity="0.17"/><rect x="593.4" y="121.5" width="3" height="2" opacity="0.28"/><rect x="526.4" y="31.5" width="2" height="3" opacity="0.33"/><rect x="546.4" y="96.5" width="2" height="2" opacity="0.16"/><rect x="543.4" y="138.5" width="2" height="2" opacity="0.18"/><rect x="567.4" y="80.5" width="3" height="3" opacity="0.33"/><rect x="592.4" y="65.5" width="2" height="2" opacity="0.30"/><rect x="572.4" y="121.5" width="1" height="2" opacity="0.17"/><rect x="559.4" y="114.5" width="2" height="2" opacity="0.20"/><rect x="584.4" y="37.5" width="1" height="3" opacity="0.15"/><rect x="576.4" y="127.5" width="3" height="1" opacity="0.30"/><rect x="547.4" y="133.5" width="2" height="3" opacity="0.10"/><rect x="561.4" y="19.5" width="2" height="3" opacity="0.14"/><rect x="631.4" y="33.5" width="2" height="1" opacity="0.11"/><rect x="561.4" y="46.5" width="3" height="3" opacity="0.24"/><rect x="558.4" y="61.5" width="1" height="2" opacity="0.22"/><rect x="592.4" y="136.5" width="2" height="2" opacity="0.22"/><rect x="616.4" y="128.5" width="2" height="2" opacity="0.24"/><rect x="644.4" y="128.5" width="2" height="2" opacity="0.32"/><rect x="519.4" y="86.5" width="1" height="2" opacity="0.34"/><rect x="638.4" y="37.5" width="2" height="3" opacity="0.30"/><rect x="628.4" y="57.5" width="3" height="2" opacity="0.30"/><rect x="608.4" y="142.5" width="2" height="3" opacity="0.27"/><rect x="612.4" y="24.5" width="3" height="1" opacity="0.14"/><rect x="590.4" y="55.5" width="2" height="1" opacity="0.25"/><rect x="570.4" y="48.5" width="1" height="2" opacity="0.21"/><rect x="564.4" y="55.5" width="2" height="2" opacity="0.14"/><rect x="639.4" y="21.5" width="2" height="1" opacity="0.16"/><rect x="621.4" y="89.5" width="1" height="3" opacity="0.12"/><rect x="597.4" y="78.5" width="2" height="2" opacity="0.20"/><rect x="543.4" y="42.5" width="2" height="1" opacity="0.16"/><rect x="568.4" y="78.5" width="2" height="2" opacity="0.14"/><rect x="544.4" y="70.5" width="2" height="2" opacity="0.34"/><rect x="573.4" y="112.5" width="2" height="1" opacity="0.25"/><rect x="628.4" y="135.5" width="2" height="3" opacity="0.12"/><rect x="615.4" y="99.5" width="1" height="1" opacity="0.16"/><rect x="536.4" y="70.5" width="1" height="2" opacity="0.26"/><rect x="616.4" y="33.5" width="2" height="2" opacity="0.29"/><rect x="560.4" y="56.5" width="2" height="2" opacity="0.13"/><rect x="622.4" y="22.5" width="1" height="2" opacity="0.19"/><rect x="596.4" y="90.5" width="1" height="3" opacity="0.15"/><rect x="581.4" y="24.5" width="3" height="3" opacity="0.11"/><rect x="640.4" y="45.5" width="2" height="2" opacity="0.23"/><rect x="578.4" y="122.5" width="1" height="1" opacity="0.29"/><rect x="633.4" y="79.5" width="1" height="2" opacity="0.22"/><rect x="644.4" y="26.5" width="2" height="3" opacity="0.23"/><rect x="610.4" y="102.5" width="2" height="2" opacity="0.27"/><rect x="636.4" y="35.5" width="1" height="3" opacity="0.12"/><rect x="542.4" y="35.5" width="2" height="2" opacity="0.23"/><rect x="561.4" y="55.5" width="1" height="3" opacity="0.13"/><rect x="605.4" y="45.5" width="2" height="3" opacity="0.15"/><rect x="556.4" y="28.5" width="2" height="1" opacity="0.32"/><rect x="519.4" y="76.5" width="2" height="2" opacity="0.14"/><rect x="636.4" y="19.5" width="2" height="2" opacity="0.20"/><rect x="613.4" y="110.5" width="1" height="1" opacity="0.22"/><rect x="609.4" y="18.5" width="3" height="3" opacity="0.27"/><rect x="572.4" y="46.5" width="1" height="2" opacity="0.16"/><rect x="638.4" y="35.5" width="1" height="2" opacity="0.22"/><rect x="632.4" y="99.5" width="3" height="2" opacity="0.11"/><rect x="642.4" y="73.5" width="1" height="1" opacity="0.15"/><rect x="563.4" y="48.5" width="2" height="2" opacity="0.30"/><rect x="631.4" y="107.5" width="2" height="2" opacity="0.13"/><rect x="610.4" y="21.5" width="3" height="2" opacity="0.33"/><rect x="523.4" y="126.5" width="2" height="2" opacity="0.11"/><rect x="536.4" y="52.5" width="2" height="1" opacity="0.14"/><rect x="632.4" y="67.5" width="2" height="2" opacity="0.18"/><rect x="561.4" y="51.5" width="1" height="1" opacity="0.15"/><rect x="526.4" y="88.5" width="2" height="3" opacity="0.25"/><rect x="573.4" y="57.5" width="2" height="1" opacity="0.26"/><rect x="596.4" y="18.5" width="2" height="1" opacity="0.16"/><rect x="533.4" y="109.5" width="2" height="3" opacity="0.17"/><rect x="522.4" y="115.5" width="3" height="2" opacity="0.32"/><rect x="591.4" y="88.5" width="3" height="3" opacity="0.32"/><rect x="611.4" y="33.5" width="2" height="1" opacity="0.16"/><rect x="566.4" y="53.5" width="2" height="2" opacity="0.11"/><rect x="638.4" y="28.5" width="1" height="2" opacity="0.15"/><rect x="636.4" y="58.5" width="2" height="1" opacity="0.34"/><rect x="619.4" y="77.5" width="3" height="1" opacity="0.32"/><rect x="619.4" y="138.5" width="2" height="3" opacity="0.20"/><rect x="616.4" y="25.5" width="1" height="1" opacity="0.35"/><rect x="588.4" y="78.5" width="2" height="2" opacity="0.14"/><rect x="554.4" y="141.5" width="2" height="1" opacity="0.28"/><rect x="645.4" y="43.5" width="2" height="2" opacity="0.30"/><rect x="591.4" y="29.5" width="2" height="3" opacity="0.17"/><rect x="541.4" y="67.5" width="3" height="1" opacity="0.16"/><rect x="640.4" y="39.5" width="1" height="2" opacity="0.34"/><rect x="551.4" y="145.5" width="1" height="1" opacity="0.30"/><rect x="581.4" y="127.5" width="1" height="3" opacity="0.29"/><rect x="596.4" y="66.5" width="2" height="1" opacity="0.16"/><rect x="526.4" y="52.5" width="2" height="2" opacity="0.23"/><rect x="568.4" y="17.5" width="2" height="1" opacity="0.27"/><rect x="552.4" y="125.5" width="1" height="2" opacity="0.27"/><rect x="533.4" y="107.5" width="1" height="2" opacity="0.19"/><rect x="526.4" y="107.5" width="1" height="2" opacity="0.20"/><rect x="578.4" y="87.5" width="1" height="2" opacity="0.24"/><rect x="531.4" y="112.5" width="2" height="2" opacity="0.34"/><rect x="526.4" y="136.5" width="1" height="2" opacity="0.16"/><rect x="626.4" y="94.5" width="3" height="3" opacity="0.15"/><rect x="645.4" y="24.5" width="1" height="1" opacity="0.35"/><rect x="543.4" y="98.5" width="2" height="2" opacity="0.14"/><rect x="521.4" y="120.5" width="3" height="2" opacity="0.19"/><rect x="637.4" y="110.5" width="3" height="2" opacity="0.29"/><rect x="572.4" y="122.5" width="3" height="3" opacity="0.35"/><rect x="518.4" y="95.5" width="2" height="3" opacity="0.22"/><rect x="548.4" y="141.5" width="1" height="3" opacity="0.14"/><rect x="577.4" y="67.5" width="1" height="2" opacity="0.27"/><rect x="618.4" y="88.5" width="2" height="1" opacity="0.22"/><rect x="557.4" y="31.5" width="2" height="2" opacity="0.22"/><rect x="637.4" y="120.5" width="2" height="1" opacity="0.22"/><rect x="540.4" y="67.5" width="1" height="2" opacity="0.35"/><rect x="586.4" y="26.5" width="3" height="1" opacity="0.16"/><rect x="556.4" y="62.5" width="1" height="3" opacity="0.20"/><rect x="595.4" y="94.5" width="2" height="2" opacity="0.29"/><rect x="622.4" y="20.5" width="2" height="3" opacity="0.22"/><rect x="635.4" y="41.5" width="3" height="3" opacity="0.33"/><rect x="556.4" y="40.5" width="3" height="2" opacity="0.19"/><rect x="628.4" y="138.5" width="2" height="3" opacity="0.15"/><rect x="542.4" y="39.5" width="2" height="2" opacity="0.24"/><rect x="626.4" y="68.5" width="1" height="2" opacity="0.24"/><rect x="627.4" y="126.5" width="2" height="3" opacity="0.15"/><rect x="588.4" y="74.5" width="3" height="1" opacity="0.28"/><rect x="544.4" y="75.5" width="2" height="1" opacity="0.32"/><rect x="552.4" y="144.5" width="2" height="3" opacity="0.22"/><rect x="641.4" y="82.5" width="3" height="2" opacity="0.20"/><rect x="614.4" y="73.5" width="2" height="3" opacity="0.29"/><rect x="548.4" y="21.5" width="3" height="1" opacity="0.29"/><rect x="534.4" y="74.5" width="2" height="2" opacity="0.11"/><rect x="646.4" y="29.5" width="2" height="3" opacity="0.15"/><rect x="520.4" y="88.5" width="2" height="1" opacity="0.15"/><rect x="578.4" y="27.5" width="2" height="3" opacity="0.17"/><rect x="628.4" y="81.5" width="2" height="2" opacity="0.25"/><rect x="553.4" y="85.5" width="2" height="3" opacity="0.30"/><rect x="603.4" y="145.5" width="2" height="2" opacity="0.31"/><rect x="583.4" y="119.5" width="1" height="1" opacity="0.32"/><rect x="639.4" y="53.5" width="1" height="2" opacity="0.18"/><rect x="597.4" y="79.5" width="2" height="2" opacity="0.15"/><rect x="591.4" y="21.5" width="3" height="3" opacity="0.16"/><rect x="548.4" y="63.5" width="2" height="1" opacity="0.10"/><rect x="570.4" y="124.5" width="3" height="3" opacity="0.27"/><rect x="603.4" y="85.5" width="3" height="2" opacity="0.15"/><rect x="614.4" y="84.5" width="3" height="2" opacity="0.30"/><rect x="517.4" y="102.5" width="2" height="3" opacity="0.26"/><rect x="547.4" y="127.5" width="2" height="2" opacity="0.27"/><rect x="548.4" y="18.5" width="3" height="2" opacity="0.33"/><rect x="640.4" y="69.5" width="2" height="1" opacity="0.22"/><rect x="540.4" y="40.5" width="3" height="2" opacity="0.20"/><rect x="615.4" y="59.5" width="1" height="3" opacity="0.35"/><rect x="525.4" y="94.5" width="1" height="2" opacity="0.33"/><rect x="565.4" y="52.5" width="2" height="1" opacity="0.22"/><rect x="522.4" y="113.5" width="1" height="2" opacity="0.15"/><rect x="645.4" y="72.5" width="1" height="2" opacity="0.25"/><rect x="528.4" y="81.5" width="1" height="1" opacity="0.23"/><rect x="640.4" y="115.5" width="2" height="2" opacity="0.27"/><rect x="568.4" y="99.5" width="1" height="3" opacity="0.22"/><rect x="603.4" y="98.5" width="1" height="2" opacity="0.18"/><rect x="600.4" y="118.5" width="2" height="3" opacity="0.31"/><rect x="645.4" y="109.5" width="3" height="2" opacity="0.24"/><rect x="633.4" y="122.5" width="3" height="1" opacity="0.12"/><rect x="622.4" y="44.5" width="2" height="2" opacity="0.24"/><rect x="542.4" y="85.5" width="2" height="3" opacity="0.27"/><rect x="613.4" y="24.5" width="1" height="2" opacity="0.15"/><rect x="638.4" y="83.5" width="2" height="3" opacity="0.17"/><rect x="588.4" y="91.5" width="2" height="2" opacity="0.26"/><rect x="579.4" y="75.5" width="2" height="3" opacity="0.32"/><rect x="615.4" y="106.5" width="2" height="3" opacity="0.32"/><rect x="595.4" y="102.5" width="3" height="3" opacity="0.34"/><rect x="522.4" y="129.5" width="1" height="2" opacity="0.23"/><rect x="609.4" y="66.5" width="2" height="1" opacity="0.28"/><rect x="522.4" y="41.5" width="2" height="2" opacity="0.32"/><rect x="566.4" y="118.5" width="1" height="1" opacity="0.30"/><rect x="638.4" y="48.5" width="2" height="3" opacity="0.29"/><rect x="581.4" y="63.5" width="3" height="1" opacity="0.11"/><rect x="536.4" y="120.5" width="3" height="3" opacity="0.23"/><rect x="531.4" y="56.5" width="2" height="3" opacity="0.35"/><rect x="584.4" y="129.5" width="1" height="3" opacity="0.26"/><rect x="546.4" y="130.5" width="1" height="2" opacity="0.29"/><rect x="567.4" y="135.5" width="2" height="1" opacity="0.19"/><rect x="524.4" y="95.5" width="3" height="2" opacity="0.20"/><rect x="567.4" y="93.5" width="2" height="2" opacity="0.12"/><rect x="595.4" y="39.5" width="2" height="3" opacity="0.16"/><rect x="565.4" y="137.5" width="3" height="2" opacity="0.22"/><rect x="565.4" y="46.5" width="2" height="3" opacity="0.20"/><rect x="590.4" y="142.5" width="1" height="2" opacity="0.20"/><rect x="615.4" y="71.5" width="3" height="2" opacity="0.13"/><rect x="588.4" y="49.5" width="3" height="3" opacity="0.18"/><rect x="618.4" y="48.5" width="3" height="2" opacity="0.12"/><rect x="572.4" y="105.5" width="1" height="2" opacity="0.24"/><rect x="574.4" y="64.5" width="1" height="1" opacity="0.21"/><rect x="601.4" y="135.5" width="1" height="3" opacity="0.14"/><rect x="615.4" y="27.5" width="2" height="1" opacity="0.20"/><rect x="594.4" y="58.5" width="1" height="1" opacity="0.10"/><rect x="569.4" y="47.5" width="2" height="2" opacity="0.33"/><rect x="586.4" y="113.5" width="2" height="2" opacity="0.21"/><rect x="613.4" y="56.5" width="2" height="2" opacity="0.26"/><rect x="573.4" y="74.5" width="1" height="2" opacity="0.20"/><rect x="591.4" y="142.5" width="3" height="1" opacity="0.20"/><rect x="522.4" y="142.5" width="3" height="3" opacity="0.11"/><rect x="564.4" y="40.5" width="3" height="3" opacity="0.19"/><rect x="611.4" y="50.5" width="2" height="2" opacity="0.25"/><rect x="531.4" y="43.5" width="3" height="2" opacity="0.22"/><rect x="537.4" y="110.5" width="3" height="2" opacity="0.18"/><rect x="641.4" y="82.5" width="2" height="2" opacity="0.12"/><rect x="544.4" y="53.5" width="2" height="3" opacity="0.16"/><rect x="632.4" y="17.5" width="1" height="2" opacity="0.26"/><rect x="614.4" y="101.5" width="2" height="3" opacity="0.22"/><rect x="564.4" y="70.5" width="3" height="2" opacity="0.20"/><rect x="525.4" y="131.5" width="1" height="3" opacity="0.18"/><rect x="631.4" y="72.5" width="3" height="2" opacity="0.17"/><rect x="565.4" y="61.5" width="1" height="1" opacity="0.20"/><rect x="545.4" y="16.5" width="3" height="2" opacity="0.15"/><rect x="533.4" y="24.5" width="2" height="1" opacity="0.22"/><rect x="536.4" y="21.5" width="2" height="2" opacity="0.27"/><rect x="601.4" y="18.5" width="2" height="2" opacity="0.31"/><rect x="613.4" y="18.5" width="1" height="2" opacity="0.34"/><rect x="568.4" y="115.5" width="3" height="1" opacity="0.27"/><rect x="520.4" y="93.5" width="2" height="2" opacity="0.23"/><rect x="634.4" y="57.5" width="3" height="3" opacity="0.19"/><rect x="583.4" y="114.5" width="2" height="2" opacity="0.23"/><rect x="611.4" y="119.5" width="3" height="1" opacity="0.14"/><rect x="594.4" y="70.5" width="3" height="3" opacity="0.11"/><rect x="580.4" y="128.5" width="2" height="2" opacity="0.17"/><rect x="519.4" y="74.5" width="2" height="2" opacity="0.15"/><rect x="555.4" y="99.5" width="1" height="2" opacity="0.11"/><rect x="592.4" y="92.5" width="1" height="1" opacity="0.16"/><rect x="558.4" y="140.5" width="1" height="1" opacity="0.20"/><rect x="542.4" y="121.5" width="2" height="2" opacity="0.32"/><rect x="519.4" y="90.5" width="1" height="3" opacity="0.25"/><rect x="525.4" y="98.5" width="3" height="2" opacity="0.17"/><rect x="627.4" y="145.5" width="2" height="1" opacity="0.26"/><rect x="630.4" y="120.5" width="2" height="3" opacity="0.14"/><rect x="591.4" y="141.5" width="2" height="2" opacity="0.10"/><rect x="628.4" y="35.5" width="2" height="3" opacity="0.19"/><rect x="543.4" y="116.5" width="2" height="1" opacity="0.28"/><rect x="601.4" y="95.5" width="2" height="1" opacity="0.26"/><rect x="557.4" y="123.5" width="2" height="2" opacity="0.32"/><rect x="646.4" y="139.5" width="1" height="2" opacity="0.23"/><rect x="576.4" y="87.5" width="3" height="1" opacity="0.17"/><rect x="518.4" y="90.5" width="3" height="2" opacity="0.11"/></g>
<line x1="517.4" y1="149" x2="650.4" y2="16.5" stroke="#fff" stroke-width="0.8" opacity="0.4"/>
</g>
<rect x="517.4" y="16.5" width="133" height="132.5" fill="none" stroke="#666" stroke-width="0.7"/>
<line x1="342.3" y1="149" x2="345.3" y2="149" stroke="#666" stroke-width="0.8"/>
<text x="340" y="151.6" text-anchor="end" textLength="4.6" lengthAdjust="spacingAndGlyphs" font-size="9">0</text>
<line x1="345.3" y1="149" x2="345.3" y2="152" stroke="#666" stroke-width="0.8"/>
<text x="345.3" y="161.6" text-anchor="middle" textLength="4.6" lengthAdjust="spacingAndGlyphs" font-size="9">0</text>
<line x1="342.3" y1="115.9" x2="345.3" y2="115.9" stroke="#666" stroke-width="0.8"/>
<text x="340" y="118.5" text-anchor="end" textLength="13.8" lengthAdjust="spacingAndGlyphs" font-size="9">200</text>
<line x1="378.4" y1="149" x2="378.4" y2="152" stroke="#666" stroke-width="0.8"/>
<text x="378.4" y="161.6" text-anchor="middle" textLength="13.8" lengthAdjust="spacingAndGlyphs" font-size="9">200</text>
<line x1="342.3" y1="82.8" x2="345.3" y2="82.8" stroke="#666" stroke-width="0.8"/>
<text x="340" y="85.4" text-anchor="end" textLength="13.8" lengthAdjust="spacingAndGlyphs" font-size="9">400</text>
<line x1="411.5" y1="149" x2="411.5" y2="152" stroke="#666" stroke-width="0.8"/>
<text x="411.5" y="161.6" text-anchor="middle" textLength="13.8" lengthAdjust="spacingAndGlyphs" font-size="9">400</text>
<line x1="342.3" y1="49.7" x2="345.3" y2="49.7" stroke="#666" stroke-width="0.8"/>
<text x="340" y="52.3" text-anchor="end" textLength="13.8" lengthAdjust="spacingAndGlyphs" font-size="9">600</text>
<line x1="444.6" y1="149" x2="444.6" y2="152" stroke="#666" stroke-width="0.8"/>
<text x="444.6" y="161.6" text-anchor="middle" textLength="13.8" lengthAdjust="spacingAndGlyphs" font-size="9">600</text>
<line x1="514.4" y1="149" x2="517.4" y2="149" stroke="#666" stroke-width="0.8"/>
<text x="512.5" y="151.6" text-anchor="end" textLength="4.6" lengthAdjust="spacingAndGlyphs" font-size="9">0</text>
<line x1="518" y1="149" x2="518" y2="152" stroke="#666" stroke-width="0.8"/>
<text x="518" y="161.6" text-anchor="middle" textLength="4.6" lengthAdjust="spacingAndGlyphs" font-size="9">0</text>
<line x1="514.4" y1="119.6" x2="517.4" y2="119.6" stroke="#666" stroke-width="0.8"/>
<text x="512.5" y="122.2" text-anchor="end" textLength="13.8" lengthAdjust="spacingAndGlyphs" font-size="9">200</text>
<line x1="547.4" y1="149" x2="547.4" y2="152" stroke="#666" stroke-width="0.8"/>
<text x="547.4" y="161.6" text-anchor="middle" textLength="13.8" lengthAdjust="spacingAndGlyphs" font-size="9">200</text>
<line x1="514.4" y1="90.2" x2="517.4" y2="90.2" stroke="#666" stroke-width="0.8"/>
<text x="512.5" y="92.8" text-anchor="end" textLength="13.8" lengthAdjust="spacingAndGlyphs" font-size="9">400</text>
<line x1="576.8" y1="149" x2="576.8" y2="152" stroke="#666" stroke-width="0.8"/>
<text x="576.8" y="161.6" text-anchor="middle" textLength="13.8" lengthAdjust="spacingAndGlyphs" font-size="9">400</text>
<line x1="514.4" y1="60.8" x2="517.4" y2="60.8" stroke="#666" stroke-width="0.8"/>
<text x="512.5" y="63.4" text-anchor="end" textLength="13.8" lengthAdjust="spacingAndGlyphs" font-size="9">600</text>
<line x1="606.2" y1="149" x2="606.2" y2="152" stroke="#666" stroke-width="0.8"/>
<text x="606.2" y="161.6" text-anchor="middle" textLength="13.8" lengthAdjust="spacingAndGlyphs" font-size="9">600</text>
<line x1="514.4" y1="31.4" x2="517.4" y2="31.4" stroke="#666" stroke-width="0.8"/>
<text x="512.5" y="34" text-anchor="end" textLength="13.8" lengthAdjust="spacingAndGlyphs" font-size="9">800</text>
<line x1="635.6" y1="149" x2="635.6" y2="152" stroke="#666" stroke-width="0.8"/>
<text x="635.6" y="161.6" text-anchor="middle" textLength="13.8" lengthAdjust="spacingAndGlyphs" font-size="9">800</text>
<text x="0" y="3.1" text-anchor="middle" textLength="32.5" lengthAdjust="spacingAndGlyphs" font-size="8.5" transform="translate(316.5,83) rotate(-90)">Time (s)</text>
<text x="0" y="3.1" text-anchor="middle" textLength="32.5" lengthAdjust="spacingAndGlyphs" font-size="8.5" transform="translate(488,83) rotate(-90)">Time (s)</text>
<text x="411.8" y="174.4" text-anchor="middle" textLength="31.1" lengthAdjust="spacingAndGlyphs" font-size="8.5">Time (s)</text>
<text x="584" y="174.4" text-anchor="middle" textLength="31" lengthAdjust="spacingAndGlyphs" font-size="8.5">Time (s)</text>
<text x="412" y="11.9" text-anchor="middle" textLength="97.2" lengthAdjust="spacingAndGlyphs" font-size="8.5">Metahydrogel electrode</text>
<text x="584.7" y="11.9" text-anchor="middle" textLength="74.5" lengthAdjust="spacingAndGlyphs" font-size="8.5">Ag/AgCl electrode</text>
<defs><linearGradient id="cb" x1="0" y1="0" x2="0" y2="1"><stop offset="0" stop-color="#000"/><stop offset="1" stop-color="#fff"/></linearGradient></defs>
<rect x="654.3" y="17" width="7.9" height="104.7" fill="url(#cb)" stroke="#888" stroke-width="0.6"/>
<line x1="662.2" y1="17" x2="664.5" y2="17" stroke="#666" stroke-width="0.6"/>
<line x1="662.2" y1="121.7" x2="664.5" y2="121.7" stroke="#666" stroke-width="0.6"/>
<text x="667.5" y="20.1" textLength="3.3" lengthAdjust="spacingAndGlyphs" font-size="9">1</text>
<text x="667.5" y="124.6" textLength="4.6" lengthAdjust="spacingAndGlyphs" font-size="9">0</text>
<text x="0" y="3.1" text-anchor="middle" textLength="98" lengthAdjust="spacingAndGlyphs" font-size="8.5" transform="translate(681,67.5) rotate(90)">Recurrent intensity (a.u.)</text>
<path d="M34,244.5 C36.2,242.6 41.3,237.6 47.2,233.1 C53.1,228.6 59.9,221.6 69.4,217.6 C79,213.6 93.5,208.9 104.5,209.2 C115.5,209.5 125.4,215.9 135.3,219.6 C145.2,223.3 154.4,229.2 163.9,231.5 C173.4,233.8 182.8,234.8 192.3,233.6 C201.8,232.4 212.5,227.7 220.9,224.3 C229.3,221 237.4,215.8 243,213.5 C248.6,211.2 247.7,208.7 254.6,210.2 C261.5,211.7 279.6,220.4 284.6,222.4" fill="none" stroke="#333" stroke-width="0.9"/>
<line x1="54.9" y1="244" x2="50.7" y2="238.1" stroke="#333" stroke-width="1.1"/>
<path d="M48.9,235.5 L52.5,237.4 L49.5,239.5Z" fill="#333" stroke="none" stroke-width="0.8"/>
<line x1="63" y1="205.7" x2="66.5" y2="212.2" stroke="#333" stroke-width="1.1"/>
<path d="M68,215 L64.7,212.6 L67.9,210.9Z" fill="#333" stroke="none" stroke-width="0.8"/>
<line x1="128.6" y1="234.7" x2="132.8" y2="225.2" stroke="#333" stroke-width="1.1"/>
<path d="M134.1,222.3 L134.3,226.4 L131,224.9Z" fill="#333" stroke="none" stroke-width="0.8"/>
<line x1="157.5" y1="247.3" x2="161.6" y2="237.2" stroke="#333" stroke-width="1.1"/>
<path d="M162.8,234.3 L163.1,238.3 L159.7,236.9Z" fill="#333" stroke="none" stroke-width="0.8"/>
<line x1="251.3" y1="228.9" x2="245.9" y2="218.9" stroke="#333" stroke-width="1.1"/>
<path d="M244.4,216.1 L247.7,218.5 L244.5,220.2Z" fill="#333" stroke="none" stroke-width="0.8"/>
<line x1="104.5" y1="206.4" x2="104.5" y2="197.8" stroke="#C0472F" stroke-width="1.1"/>
<path d="M104.5,194.7 L106.3,198.3 L102.7,198.3Z" fill="#C0472F" stroke="none" stroke-width="0.8"/>
<line x1="192.3" y1="230.8" x2="192.3" y2="222.2" stroke="#C0472F" stroke-width="1.1"/>
<path d="M192.3,219.1 L194.1,222.7 L190.5,222.7Z" fill="#C0472F" stroke="none" stroke-width="0.8"/>
<line x1="219.9" y1="221.7" x2="216.3" y2="212.6" stroke="#C0472F" stroke-width="1.1"/>
<path d="M215.1,209.7 L218.1,212.4 L214.8,213.7Z" fill="#C0472F" stroke="none" stroke-width="0.8"/>
<circle cx="56.4" cy="246.1" r="2.6" fill="#1670C8"/>
<circle cx="61.8" cy="203.4" r="2.6" fill="#1670C8"/>
<circle cx="127.6" cy="237.1" r="2.6" fill="#1670C8"/>
<circle cx="156.5" cy="249.7" r="2.6" fill="#1670C8"/>
<circle cx="252.5" cy="231.2" r="2.6" fill="#1670C8"/>
<circle cx="104.5" cy="191.9" r="2.6" fill="#1670C8"/>
<circle cx="192.3" cy="216.3" r="2.6" fill="#1670C8"/>
<circle cx="214.1" cy="207.1" r="2.6" fill="#1670C8"/>
<circle cx="47.2" cy="233.1" r="2" fill="#fff" stroke="#1670C8" stroke-width="1.1"/>
<circle cx="69.4" cy="217.6" r="2" fill="#fff" stroke="#1670C8" stroke-width="1.1"/>
<circle cx="104.5" cy="209.2" r="2" fill="#fff" stroke="#1670C8" stroke-width="1.1"/>
<circle cx="135.3" cy="219.6" r="2" fill="#fff" stroke="#1670C8" stroke-width="1.1"/>
<circle cx="163.9" cy="231.5" r="2" fill="#fff" stroke="#1670C8" stroke-width="1.1"/>
<circle cx="192.3" cy="233.6" r="2" fill="#fff" stroke="#1670C8" stroke-width="1.1"/>
<circle cx="220.9" cy="224.3" r="2" fill="#fff" stroke="#1670C8" stroke-width="1.1"/>
<circle cx="243" cy="213.5" r="2" fill="#fff" stroke="#1670C8" stroke-width="1.1"/>
<text x="139.3" y="216" font-style="italic" fill="#333" font-size="8.5">x</text>
<text x="143.5" y="218.2" font-style="italic" fill="#333" font-size="6">i</text>
<text x="118" y="243.8" font-style="italic" fill="#333" font-size="8.5">x</text>
<text x="122.2" y="246" font-style="italic" fill="#333" font-size="6">i</text>
<line x1="118.6" y1="237.6" x2="122.4" y2="237.6" stroke="#333" stroke-width="0.6"/>
<text x="195.5" y="212.8" font-style="italic" fill="#333" font-size="8.5">x</text>
<text x="199.7" y="215" font-style="italic" fill="#333" font-size="6">j</text>
<line x1="196.1" y1="206.6" x2="199.9" y2="206.6" stroke="#333" stroke-width="0.6"/>
<text x="191.3" y="243.8" font-style="italic" fill="#333" font-size="8.5">x</text>
<text x="195.5" y="246" font-style="italic" fill="#333" font-size="6">j</text>
<circle cx="319.7" cy="199.2" r="2.1" fill="#fff" stroke="#1670C8" stroke-width="1.2"/>
<circle cx="319.7" cy="212.1" r="2.7" fill="#1670C8"/>
<line x1="314.5" y1="224.9" x2="323.1" y2="224.9" stroke="#333" stroke-width="1.1"/>
<path d="M326,224.9 L322.6,226.6 L322.6,223.2Z" fill="#333" stroke="none" stroke-width="0.8"/>
<line x1="314.5" y1="237.8" x2="323.1" y2="237.8" stroke="#C0472F" stroke-width="1.1"/>
<path d="M326,237.8 L322.6,239.5 L322.6,236.1Z" fill="#C0472F" stroke="none" stroke-width="0.8"/>
<line x1="314.5" y1="250.7" x2="325.5" y2="250.7" stroke="#555" stroke-width="1.8"/>
<text x="328.5" y="201.8" textLength="80.6" lengthAdjust="spacingAndGlyphs" font-size="8.5">Data point without noise</text>
<text x="328.5" y="214.7" textLength="68" lengthAdjust="spacingAndGlyphs" font-size="8.5">Collected data point</text>
<text x="328.5" y="227.5" textLength="61.7" lengthAdjust="spacingAndGlyphs" font-size="8.5">Denoising process</text>
<text x="328.5" y="240.4" textLength="65" lengthAdjust="spacingAndGlyphs" font-size="8.5">Corruption process</text>
<text x="328.5" y="253.3" textLength="47.5" lengthAdjust="spacingAndGlyphs" font-size="8.5">Data manifold</text>
<line x1="33.8" y1="265.5" x2="33.8" y2="305.3" stroke="#555" stroke-width="0.7"/>
<line x1="33.8" y1="305.3" x2="109.7" y2="305.3" stroke="#555" stroke-width="0.7"/>
<line x1="33.8" y1="319" x2="33.8" y2="359.3" stroke="#555" stroke-width="0.7"/>
<line x1="33.8" y1="359.3" x2="108" y2="359.3" stroke="#555" stroke-width="0.7"/>
<path d="M109.5,359.3 L106.2,357.9 L106.2,360.7Z" fill="#333" stroke="none" stroke-width="0.8"/>
<line x1="325.2" y1="265.5" x2="325.2" y2="305.3" stroke="#555" stroke-width="0.7"/>
<line x1="325.2" y1="305.3" x2="400.7" y2="305.3" stroke="#555" stroke-width="0.7"/>
<line x1="325.2" y1="319" x2="325.2" y2="359.3" stroke="#555" stroke-width="0.7"/>
<line x1="325.2" y1="359.3" x2="399" y2="359.3" stroke="#555" stroke-width="0.7"/>
<path d="M400.5,359.3 L397.2,357.9 L397.2,360.7Z" fill="#333" stroke="none" stroke-width="0.8"/>
<path d="M33.8,292.1 L34.3,292.4 L34.8,292.1 L35.2,290.9 L35.7,292.5 L36.2,292.2 L36.7,291.5 L37.1,292.3 L37.6,292.2 L38.1,292.1 L38.6,291.9 L39.1,292.3 L39.5,291.4 L40,291.8 L40.5,291.6 L41,292.4 L41.4,292 L41.9,291.7 L42.4,291.4 L42.9,291.8 L43.3,292 L43.8,291.8 L44.3,293 L44.8,292.7 L45.3,289.9 L45.7,290.5 L46.2,291.8 L46.7,291.5 L47.2,291.9 L47.6,291.8 L48.1,293 L48.6,290.4 L49.1,290.7 L49.6,292.1 L50,290.6 L50.5,290 L51,288.4 L51.5,286.8 L51.9,287.1 L52.4,286 L52.9,283.7 L53.4,282.8 L53.8,281.8 L54.3,279.5 L54.8,278.6 L55.3,277.1 L55.8,275.5 L56.2,273.7 L56.7,273.2 L57.2,272.3 L57.7,271 L58.1,269.5 L58.6,270.4 L59.1,269.5 L59.6,270.9 L60.1,270 L60.5,272.4 L61,272.9 L61.5,273.3 L62,275.5 L62.4,277.3 L62.9,279.1 L63.4,279.8 L63.9,281.3 L64.4,283.8 L64.8,284.7 L65.3,286.5 L65.8,288 L66.3,287.2 L66.7,289.5 L67.2,291 L67.7,290.5 L68.2,290.7 L68.6,292.4 L69.1,292.4 L69.6,293.3 L70.1,292.8 L70.6,292.3 L71,293.7 L71.5,293.9 L72,295.3 L72.5,295.3 L72.9,294.5 L73.4,295.4 L73.9,297.5 L74.4,298 L74.9,297.7 L75.3,298.8 L75.8,299.8 L76.3,300.4 L76.8,301.3 L77.2,301.3 L77.7,301.5 L78.2,301.7 L78.7,302.9 L79.1,300.5 L79.6,302.1 L80.1,302.1 L80.6,300.8 L81.1,301.8 L81.5,300.6 L82,301.2 L82.5,299.9 L83,299.8 L83.4,299.6 L83.9,298.3 L84.4,296.6 L84.9,295.5 L85.4,297.3 L85.8,295.2 L86.3,294.2 L86.8,294.3 L87.3,293.5 L87.7,293.8 L88.2,292.7 L88.7,292.3 L89.2,291.3 L89.7,291.9 L90.1,290.4 L90.6,291.4 L91.1,291.7 L91.6,289.2 L92,288.3 L92.5,290.4 L93,291.7 L93.5,288.9 L93.9,288.7 L94.4,290 L94.9,289 L95.4,289.3 L95.9,289.5 L96.3,290.3 L96.8,289.7 L97.3,290.4 L97.8,290.3 L98.2,290 L98.7,290.6 L99.2,290.4 L99.7,291.3 L100.2,290.7 L100.6,290.9 L101.1,293 L101.6,292.1 L102.1,292.3 L102.5,292.9 L103,292.3 L103.5,292.6 L104,293.2 L104.4,293.1 L104.9,292.1 L105.4,293.7 L105.9,292.7 L106.4,292.4 L106.8,292.6 L107.3,293 L107.8,294.5 L108.3,292.4 L108.7,293.5 L109.2,291.8 L109.7,293.4" fill="none" stroke="#444" stroke-width="0.55"/>
<path d="M33.8,349.7 L34.1,345.3 L34.5,345.4 L34.8,344.3 L35.2,346.6 L35.5,346.2 L35.8,345.4 L36.2,346 L36.5,345.8 L36.8,345.3 L37.2,346.1 L37.5,345.4 L37.9,345.4 L38.2,345.1 L38.5,345.7 L38.9,345.4 L39.2,345.6 L39.5,344.8 L39.9,345 L40.2,344.1 L40.6,344.7 L40.9,343.9 L41.2,343.5 L41.6,343.1 L41.9,341.9 L42.2,342.7 L42.6,343.2 L42.9,341.2 L43.3,341.4 L43.6,341.8 L43.9,343.5 L44.3,343.6 L44.6,344.5 L45,344.7 L45.3,344.8 L45.6,345 L46,344.9 L46.3,345.4 L46.6,344.1 L47,344.2 L47.3,344.1 L47.7,344.4 L48,342.6 L48.3,342.1 L48.7,342.3 L49,343.3 L49.3,343 L49.7,344.4 L50,343.2 L50.4,345.3 L50.7,345.6 L51,344.6 L51.4,345.7 L51.7,346.5 L52,346.3 L52.4,347.2 L52.7,348.3 L53.1,347.2 L53.4,346.8 L53.7,346.2 L54.1,346.5 L54.4,344.2 L54.7,336.9 L55.1,325 L55.4,325.4 L55.8,337.1 L56.1,346.7 L56.4,351.5 L56.8,355.2 L57.1,352.2 L57.5,349.3 L57.8,346.3 L58.1,345.3 L58.5,345.8 L58.8,345.4 L59.1,344.6 L59.5,344.7 L59.8,346.1 L60.2,345.2 L60.5,345.1 L60.8,344.7 L61.2,344.3 L61.5,345.1 L61.8,344.4 L62.2,344 L62.5,344.2 L62.9,343.7 L63.2,344.2 L63.5,344.6 L63.9,343.4 L64.2,344.6 L64.5,343.3 L64.9,343.7 L65.2,343 L65.6,343.3 L65.9,343.3 L66.2,342.9 L66.6,342.7 L66.9,342.6 L67.3,342.4 L67.6,341.9 L67.9,342.5 L68.3,342.8 L68.6,343 L68.9,342.7 L69.3,343.6 L69.6,342.3 L70,341.8 L70.3,343 L70.6,341.3 L71,342.3 L71.3,341.1 L71.6,341.7 L72,340.3 L72.3,341.8 L72.7,341.1 L73,340.6 L73.3,341.9 L73.7,341.3 L74,340.8 L74.3,340.3 L74.7,340.6 L75,340.4 L75.4,340.8 L75.7,340.7 L76,339.8 L76.4,339.8 L76.7,339.7 L77.1,339 L77.4,339.2 L77.7,339.1 L78.1,339.1 L78.4,338.8 L78.7,336.9 L79.1,337 L79.4,336 L79.8,337.4 L80.1,337 L80.4,338.4 L80.8,338.7 L81.1,340 L81.4,341.6 L81.8,342.2 L82.1,343.4 L82.5,343 L82.8,344.9 L83.1,344.7 L83.5,347.1 L83.8,346 L84.1,346.8 L84.5,345.4 L84.8,346.4 L85.2,345.7 L85.5,345.9 L85.8,346.2 L86.2,346 L86.5,346.3 L86.9,346.6 L87.2,346.6 L87.5,346.2 L87.9,345.5 L88.2,345.8 L88.5,346.1 L88.9,345 L89.2,346.6 L89.6,346.1 L89.9,346.1 L90.2,346.7 L90.6,346.6 L90.9,346.3 L91.2,345.6 L91.6,346.4 L91.9,346.4 L92.3,345.7 L92.6,346.8 L92.9,346.5 L93.3,345.1 L93.6,346.3 L93.9,345.5 L94.3,346.8 L94.6,346.6 L95,345.6 L95.3,345.7 L95.6,346.3 L96,346.1 L96.3,347 L96.6,346.6 L97,346 L97.3,346.5 L97.7,345.1 L98,346.4 L98.3,346.7 L98.7,346.1 L99,345.8 L99.4,346.5 L99.7,347.3 L100,346.3 L100.4,345.6 L100.7,347 L101,345.2 L101.4,346.5 L101.7,345.9 L102.1,346.7 L102.4,345.7 L102.7,346.9 L103.1,346.4 L103.4,345.3 L103.7,345.1 L104.1,346 L104.4,346.9 L104.8,346.3 L105.1,346.2 L105.4,346.1 L105.8,346.6 L106.1,346.4 L106.4,346.4 L106.8,345.7 L107.1,346.9 L107.5,346.9 L107.8,345.5" fill="none" stroke="#5B8FCB" stroke-width="0.6"/>
<path d="M325.2,291.8 C325.5,291.8 326.5,291.8 327.1,291.8 C327.7,291.9 328.4,291.9 329,291.9 C329.7,291.9 330.3,291.9 330.9,291.9 C331.6,291.9 332.2,291.9 332.8,292 C333.5,292 334.1,292 334.7,292 C335.4,292 336,292 336.7,292 C337.3,291.9 337.9,291.9 338.6,291.7 C339.2,291.6 339.8,291.4 340.5,290.9 C341.1,290.5 341.7,289.9 342.4,288.8 C343,287.8 343.7,286.4 344.3,284.7 C344.9,283 345.6,280.6 346.2,278.7 C346.8,276.7 347.5,274.2 348.1,272.7 C348.7,271.3 349.4,270 350,269.9 C350.7,269.7 351.3,270.5 351.9,271.8 C352.6,273 353.2,275.3 353.8,277.3 C354.5,279.3 355.1,281.8 355.8,283.6 C356.4,285.5 357,287.2 357.7,288.4 C358.3,289.7 358.9,290.5 359.6,291.3 C360.2,292.1 360.8,292.5 361.5,293 C362.1,293.6 362.8,294 363.4,294.7 C364,295.3 364.7,296.1 365.3,296.9 C365.9,297.7 366.6,298.7 367.2,299.5 C367.8,300.2 368.5,301.1 369.1,301.6 C369.8,302 370.4,302.3 371,302.2 C371.7,302.1 372.3,301.7 372.9,301.1 C373.6,300.5 374.2,299.5 374.8,298.7 C375.5,297.8 376.1,296.8 376.8,295.9 C377.4,295.1 378,294.3 378.7,293.6 C379.3,293 379.9,292.4 380.6,291.9 C381.2,291.4 381.8,290.9 382.5,290.6 C383.1,290.2 383.8,290 384.4,289.8 C385,289.6 385.7,289.6 386.3,289.6 C386.9,289.7 387.6,289.8 388.2,290 C388.8,290.2 389.5,290.6 390.1,290.9 C390.8,291.1 391.4,291.5 392,291.8 C392.7,292 393.3,292.3 393.9,292.5 C394.6,292.7 395.2,292.8 395.8,292.9 C396.5,293 397.1,293.1 397.8,293.2 C398.4,293.3 399.3,293.3 399.7,293.3" fill="none" stroke="#D46A6A" stroke-width="0.6"/>
<path d="M325.2,347.4 L325.5,343.6 L325.9,344 L326.2,343.8 L326.6,343.2 L326.9,343.6 L327.2,343.4 L327.6,343.6 L327.9,343.2 L328.2,343.7 L328.6,343.7 L328.9,344 L329.3,343.6 L329.6,343.7 L329.9,343.1 L330.3,344 L330.6,342.8 L330.9,343.4 L331.3,342.8 L331.6,342.4 L332,342 L332.3,341.6 L332.6,341.4 L333,340.8 L333.3,340.9 L333.6,339.8 L334,340.1 L334.3,339.9 L334.7,340.5 L335,340.1 L335.3,341 L335.7,341.6 L336,341.6 L336.4,342.6 L336.7,342.7 L337,343.1 L337.4,343.2 L337.7,342.7 L338,342.6 L338.4,342.4 L338.7,342.1 L339.1,341.6 L339.4,340.8 L339.7,340.5 L340.1,340.4 L340.4,340.6 L340.7,341.1 L341.1,341.6 L341.4,342.7 L341.8,342.5 L342.1,343 L342.4,343.5 L342.8,343.4 L343.1,343.8 L343.4,344.2 L343.8,344.8 L344.1,344.6 L344.5,345.4 L344.8,344.9 L345.1,344.7 L345.5,344.3 L345.8,342.5 L346.1,335.3 L346.5,323.1 L346.8,323 L347.2,335.8 L347.5,345.3 L347.8,351.1 L348.2,352.4 L348.5,349.8 L348.9,347 L349.2,344.3 L349.5,343.4 L349.9,344 L350.2,343.3 L350.5,343.6 L350.9,343 L351.2,343.1 L351.6,342.6 L351.9,342.4 L352.2,342.6 L352.6,342.7 L352.9,342.8 L353.2,343.1 L353.6,342.1 L353.9,342.5 L354.3,342 L354.6,342.1 L354.9,341.6 L355.3,341.5 L355.6,341.6 L355.9,341.4 L356.3,341.6 L356.6,341.3 L357,341.7 L357.3,341.3 L357.6,341.2 L358,341.4 L358.3,341.1 L358.7,340.9 L359,340.7 L359.3,340.6 L359.7,340.8 L360,340.7 L360.3,340.4 L360.7,340.4 L361,340 L361.4,340.2 L361.7,339.6 L362,340.2 L362.4,339.8 L362.7,339.7 L363,339.7 L363.4,339.4 L363.7,339.3 L364.1,339.5 L364.4,339.2 L364.7,338.8 L365.1,339 L365.4,338.4 L365.7,339.1 L366.1,338.6 L366.4,338.5 L366.8,339 L367.1,338.8 L367.4,338.2 L367.8,338.2 L368.1,338.2 L368.5,338.2 L368.8,337.5 L369.1,337.2 L369.5,337 L369.8,336.1 L370.1,335.6 L370.5,334.9 L370.8,334 L371.2,334 L371.5,334.4 L371.8,336 L372.2,337.6 L372.5,338.1 L372.8,339.8 L373.2,340.6 L373.5,341.2 L373.9,341.9 L374.2,342.6 L374.5,342.9 L374.9,344.1 L375.2,344.2 L375.5,344.4 L375.9,344.4 L376.2,344 L376.6,344.4 L376.9,344 L377.2,344.2 L377.6,344.3 L377.9,344.2 L378.3,344.2 L378.6,344.3 L378.9,344.1 L379.3,344 L379.6,344.1 L379.9,344.4 L380.3,344.2 L380.6,344.7 L381,344.3 L381.3,343.5 L381.6,344.1 L382,344.6 L382.3,344.2 L382.6,344.1 L383,344 L383.3,344.5 L383.7,344.5 L384,344.4 L384.3,344.3 L384.7,344.6 L385,344.4 L385.3,343.9 L385.7,344.4 L386,344.2 L386.4,344.2 L386.7,344.4 L387,344.2 L387.4,343.5 L387.7,344.6 L388,344.5 L388.4,344.2 L388.7,344.1 L389.1,344.3 L389.4,343.9 L389.7,344.3 L390.1,344.1 L390.4,344.1 L390.8,344 L391.1,344 L391.4,344.5 L391.8,344.5 L392.1,344.3 L392.4,344.2 L392.8,344 L393.1,344.4 L393.5,344.6 L393.8,343.8 L394.1,344.5 L394.5,343.7 L394.8,344.1 L395.1,344.3 L395.5,343.9 L395.8,343.8 L396.2,344.2 L396.5,344.4 L396.8,344.1 L397.2,344.5 L397.5,344 L397.8,344.6 L398.2,344.2 L398.5,344.3 L398.9,344.4 L399.2,344.3" fill="none" stroke="#D46A6A" stroke-width="0.6"/>
<text x="62.8" y="272.1" textLength="65.5" lengthAdjust="spacingAndGlyphs" font-size="8.5">Collected AP signal</text>
<text x="59.8" y="328" textLength="71.5" lengthAdjust="spacingAndGlyphs" font-size="8.5">Collected ECG signal</text>
<text x="361.4" y="273.3" textLength="64" lengthAdjust="spacingAndGlyphs" font-size="8.5">Denoised AP signal</text>
<text x="361.4" y="329.1" textLength="70" lengthAdjust="spacingAndGlyphs" font-size="8.5">Denoised ECG signal</text>
<text x="0" y="3.1" text-anchor="middle" textLength="85" lengthAdjust="spacingAndGlyphs" font-size="8.5" transform="translate(20,310) rotate(-90)">Signal intensity (a.u.)</text>
<text x="0" y="3.1" text-anchor="middle" textLength="85" lengthAdjust="spacingAndGlyphs" font-size="8.5" transform="translate(311.7,309.4) rotate(-90)">Signal intensity (a.u.)</text>
<text x="71.8" y="369.2" text-anchor="middle" textLength="19.7" lengthAdjust="spacingAndGlyphs" font-size="8.6">Time</text>
<text x="72" y="378.9" text-anchor="middle" textLength="20.7" lengthAdjust="spacingAndGlyphs" font-size="8.6">input</text>
<text x="366.4" y="371.9" text-anchor="middle" textLength="19.7" lengthAdjust="spacingAndGlyphs" font-size="8.6">Time</text>
<text x="366.4" y="381.7" text-anchor="middle" textLength="25" lengthAdjust="spacingAndGlyphs" font-size="8.6">output</text>
<path d="M145.1,272.7 C154.9,272.7 154.9,295.3 164.7,295.3" fill="none" stroke="#4470B0" stroke-width="0.9" stroke-dasharray="2,1.4"/>
<path d="M145.1,287.6 C154.9,287.6 154.9,295.3 164.7,295.3" fill="none" stroke="#4470B0" stroke-width="0.9" stroke-dasharray="2,1.4"/>
<path d="M145.1,302.9 C154.9,302.9 154.9,310.4 164.7,310.4" fill="none" stroke="#4470B0" stroke-width="0.9" stroke-dasharray="2,1.4"/>
<path d="M145.1,318 C154.9,318 154.9,310.4 164.7,310.4" fill="none" stroke="#4470B0" stroke-width="0.9" stroke-dasharray="2,1.4"/>
<path d="M145.1,318 C154.9,318 154.9,295.3 164.7,295.3" fill="none" stroke="#4470B0" stroke-width="0.9" stroke-dasharray="2,1.4"/>
<path d="M145.1,333.1 C154.9,333.1 154.9,325.9 164.7,325.9" fill="none" stroke="#4470B0" stroke-width="0.9" stroke-dasharray="2,1.4"/>
<path d="M145.1,348.2 C154.9,348.2 154.9,325.9 164.7,325.9" fill="none" stroke="#4470B0" stroke-width="0.9" stroke-dasharray="2,1.4"/>
<path d="M145.1,302.9 C154.9,302.9 154.9,325.9 164.7,325.9" fill="none" stroke="#4470B0" stroke-width="0.9" stroke-dasharray="2,1.4"/>
<path d="M174.3,295.3 C183.7,295.3 183.7,302.9 193.1,302.9" fill="none" stroke="#4470B0" stroke-width="0.9" stroke-dasharray="2,1.4"/>
<path d="M174.3,310.4 C183.7,310.4 183.7,302.9 193.1,302.9" fill="none" stroke="#4470B0" stroke-width="0.9" stroke-dasharray="2,1.4"/>
<path d="M174.3,310.4 C183.7,310.4 183.7,318 193.1,318" fill="none" stroke="#4470B0" stroke-width="0.9" stroke-dasharray="2,1.4"/>
<path d="M174.3,325.9 C183.7,325.9 183.7,318 193.1,318" fill="none" stroke="#4470B0" stroke-width="0.9" stroke-dasharray="2,1.4"/>
<path d="M202.7,302.9 C214.4,302.9 214.4,295.9 226.2,295.9" fill="none" stroke="#4470B0" stroke-width="0.9" stroke-dasharray="2,1.4"/>
<path d="M202.7,318 C214.4,318 214.4,310.4 226.2,310.4" fill="none" stroke="#4470B0" stroke-width="0.9" stroke-dasharray="2,1.4"/>
<path d="M202.7,318 C214.4,318 214.4,325.5 226.2,325.5" fill="none" stroke="#4470B0" stroke-width="0.9" stroke-dasharray="2,1.4"/>
<path d="M202.7,318 C214.4,318 214.4,295.9 226.2,295.9" fill="none" stroke="#4470B0" stroke-width="0.9" stroke-dasharray="2,1.4"/>
<path d="M235.8,295.9 C246,295.9 246,272.7 256.2,272.7" fill="none" stroke="#4470B0" stroke-width="0.9" stroke-dasharray="2,1.4"/>
<path d="M235.8,310.4 C246,310.4 246,302.9 256.2,302.9" fill="none" stroke="#4470B0" stroke-width="0.9" stroke-dasharray="2,1.4"/>
<path d="M235.8,310.4 C246,310.4 246,287.6 256.2,287.6" fill="none" stroke="#4470B0" stroke-width="0.9" stroke-dasharray="2,1.4"/>
<path d="M235.8,325.5 C246,325.5 246,348.2 256.2,348.2" fill="none" stroke="#4470B0" stroke-width="0.9" stroke-dasharray="2,1.4"/>
<path d="M235.8,325.5 C246,325.5 246,333.1 256.2,333.1" fill="none" stroke="#4470B0" stroke-width="0.9" stroke-dasharray="2,1.4"/>
<path d="M235.8,295.9 C246,295.9 246,287.6 256.2,287.6" fill="none" stroke="#4470B0" stroke-width="0.9" stroke-dasharray="2,1.4"/>
<rect x="135.5" y="267.9" width="9.6" height="9.6" fill="#F9D3D1" stroke="#4A6FA5" stroke-width="0.7"/>
<rect x="135.5" y="282.8" width="9.6" height="9.6" fill="#F9D3D1" stroke="#4A6FA5" stroke-width="0.7"/>
<rect x="135.5" y="298.1" width="9.6" height="9.6" fill="#F9D3D1" stroke="#4A6FA5" stroke-width="0.7"/>
<rect x="135.5" y="313.2" width="9.6" height="9.6" fill="#F9D3D1" stroke="#4A6FA5" stroke-width="0.7"/>
<rect x="135.5" y="328.3" width="9.6" height="9.6" fill="#F9D3D1" stroke="#4A6FA5" stroke-width="0.7"/>
<rect x="135.5" y="343.4" width="9.6" height="9.6" fill="#F9D3D1" stroke="#4A6FA5" stroke-width="0.7"/>
<rect x="164.7" y="290.5" width="9.6" height="9.6" fill="#D3DFF2" stroke="#4A6FA5" stroke-width="0.7"/>
<rect x="164.7" y="305.6" width="9.6" height="9.6" fill="#D3DFF2" stroke="#4A6FA5" stroke-width="0.7"/>
<rect x="164.7" y="321.1" width="9.6" height="9.6" fill="#D3DFF2" stroke="#4A6FA5" stroke-width="0.7"/>
<rect x="193.1" y="298.1" width="9.6" height="9.6" fill="#D3DFF2" stroke="#4A6FA5" stroke-width="0.7"/>
<rect x="193.1" y="313.2" width="9.6" height="9.6" fill="#D3DFF2" stroke="#4A6FA5" stroke-width="0.7"/>
<rect x="226.2" y="291.1" width="9.6" height="9.6" fill="#D3DFF2" stroke="#4A6FA5" stroke-width="0.7"/>
<rect x="226.2" y="305.6" width="9.6" height="9.6" fill="#D3DFF2" stroke="#4A6FA5" stroke-width="0.7"/>
<rect x="226.2" y="320.7" width="9.6" height="9.6" fill="#D3DFF2" stroke="#4A6FA5" stroke-width="0.7"/>
<rect x="271.4" y="262.3" width="9.6" height="9.6" fill="#E3E3E3" stroke="#8A9AB5" stroke-width="0.7"/>
<rect x="263.8" y="265.1" width="9.6" height="9.6" fill="#BCD5F0" stroke="#4A6FA5" stroke-width="0.7"/>
<rect x="256.2" y="267.9" width="9.6" height="9.6" fill="#FCDFC9" stroke="#4A6FA5" stroke-width="0.7"/>
<rect x="271.4" y="277.2" width="9.6" height="9.6" fill="#E3E3E3" stroke="#8A9AB5" stroke-width="0.7"/>
<rect x="263.8" y="280" width="9.6" height="9.6" fill="#BCD5F0" stroke="#4A6FA5" stroke-width="0.7"/>
<rect x="256.2" y="282.8" width="9.6" height="9.6" fill="#FCDFC9" stroke="#4A6FA5" stroke-width="0.7"/>
<rect x="271.4" y="292.5" width="9.6" height="9.6" fill="#E3E3E3" stroke="#8A9AB5" stroke-width="0.7"/>
<rect x="263.8" y="295.3" width="9.6" height="9.6" fill="#BCD5F0" stroke="#4A6FA5" stroke-width="0.7"/>
<rect x="256.2" y="298.1" width="9.6" height="9.6" fill="#FCDFC9" stroke="#4A6FA5" stroke-width="0.7"/>
<rect x="271.4" y="307.6" width="9.6" height="9.6" fill="#E3E3E3" stroke="#8A9AB5" stroke-width="0.7"/>
<rect x="263.8" y="310.4" width="9.6" height="9.6" fill="#BCD5F0" stroke="#4A6FA5" stroke-width="0.7"/>
<rect x="256.2" y="313.2" width="9.6" height="9.6" fill="#FCDFC9" stroke="#4A6FA5" stroke-width="0.7"/>
<rect x="271.4" y="322.7" width="9.6" height="9.6" fill="#E3E3E3" stroke="#8A9AB5" stroke-width="0.7"/>
<rect x="263.8" y="325.5" width="9.6" height="9.6" fill="#BCD5F0" stroke="#4A6FA5" stroke-width="0.7"/>
<rect x="256.2" y="328.3" width="9.6" height="9.6" fill="#FCDFC9" stroke="#4A6FA5" stroke-width="0.7"/>
<rect x="271.4" y="337.8" width="9.6" height="9.6" fill="#E3E3E3" stroke="#8A9AB5" stroke-width="0.7"/>
<rect x="263.8" y="340.6" width="9.6" height="9.6" fill="#BCD5F0" stroke="#4A6FA5" stroke-width="0.7"/>
<rect x="256.2" y="343.4" width="9.6" height="9.6" fill="#FCDFC9" stroke="#4A6FA5" stroke-width="0.7"/>
<path d="M139.5,356.5V359.3H196.5V356.5" fill="none" stroke="#555" stroke-width="0.7"/>
<path d="M199.4,356.5V359.3H276.5V356.5" fill="none" stroke="#555" stroke-width="0.7"/>
<text x="167.9" y="369" text-anchor="middle" textLength="30" lengthAdjust="spacingAndGlyphs" font-size="8.6">Encoder</text>
<text x="238.3" y="369" text-anchor="middle" textLength="31" lengthAdjust="spacingAndGlyphs" font-size="8.6">Decoder</text>
<text x="175.3" y="279.7" textLength="55" lengthAdjust="spacingAndGlyphs" font-size="8.5">Bottleneck layer</text>
<line x1="477.7" y1="206.2" x2="477.7" y2="359.5" stroke="#666" stroke-width="0.8"/>
<line x1="477.7" y1="359.5" x2="667.1" y2="359.5" stroke="#666" stroke-width="0.8"/>
<line x1="474.7" y1="359.1" x2="477.7" y2="359.1" stroke="#666" stroke-width="0.8"/>
<text x="472" y="361.7" text-anchor="end" textLength="4.6" lengthAdjust="spacingAndGlyphs" font-size="9">0</text>
<line x1="474.7" y1="282.7" x2="477.7" y2="282.7" stroke="#666" stroke-width="0.8"/>
<text x="472" y="285.3" text-anchor="end" textLength="9.2" lengthAdjust="spacingAndGlyphs" font-size="9">50</text>
<line x1="474.7" y1="206.2" x2="477.7" y2="206.2" stroke="#666" stroke-width="0.8"/>
<text x="472" y="208.8" text-anchor="end" textLength="12.5" lengthAdjust="spacingAndGlyphs" font-size="9">100</text>
<line x1="477.7" y1="359.5" x2="477.7" y2="362.5" stroke="#666" stroke-width="0.8"/>
<text x="477.7" y="372.4" text-anchor="middle" textLength="4.6" lengthAdjust="spacingAndGlyphs" font-size="9">0</text>
<line x1="536.3" y1="359.5" x2="536.3" y2="362.5" stroke="#666" stroke-width="0.8"/>
<text x="536.3" y="372.4" text-anchor="middle" textLength="9.2" lengthAdjust="spacingAndGlyphs" font-size="9">20</text>
<line x1="594.9" y1="359.5" x2="594.9" y2="362.5" stroke="#666" stroke-width="0.8"/>
<text x="594.9" y="372.4" text-anchor="middle" textLength="9.2" lengthAdjust="spacingAndGlyphs" font-size="9">40</text>
<line x1="653.5" y1="359.5" x2="653.5" y2="362.5" stroke="#666" stroke-width="0.8"/>
<text x="653.5" y="372.4" text-anchor="middle" textLength="9.2" lengthAdjust="spacingAndGlyphs" font-size="9">60</text>
<text x="572" y="384.3" text-anchor="middle" textLength="34" lengthAdjust="spacingAndGlyphs" font-size="8.5">SNR (dB)</text>
<text x="0" y="3.1" text-anchor="middle" textLength="96.5" lengthAdjust="spacingAndGlyphs" font-size="8.5" transform="translate(449.8,284.5) rotate(-90)">Recognition accuracy (%)</text>
<path d="M477.7,336.8 L479.2,336.2 L480.6,335.6 L482.1,334.9 L483.6,334.1 L485,333.3 L486.5,332.4 L488,331.4 L489.4,330.4 L490.9,329.3 L492.3,328.2 L493.8,326.9 L495.3,325.6 L496.7,324.1 L498.2,322.6 L499.7,321 L501.1,319.3 L502.6,317.5 L504.1,315.6 L505.5,313.7 L507,311.6 L508.5,309.4 L509.9,307.2 L511.4,304.8 L512.9,302.4 L514.3,299.9 L515.8,297.3 L517.3,294.7 L518.7,292 L520.2,289.3 L521.6,286.5 L523.1,283.7 L524.6,280.9 L526,278.1 L527.5,275.3 L529,272.5 L530.4,269.8 L531.9,267.1 L533.4,264.4 L534.8,261.9 L536.3,259.3 L537.8,256.9 L539.2,254.5 L540.7,252.2 L542.2,250 L543.6,247.9 L545.1,245.9 L546.6,243.9 L548,242.1 L549.5,240.4 L551,238.7 L552.4,237.2 L553.9,235.7 L555.3,234.3 L556.8,233 L558.3,231.8 L559.7,230.7 L561.2,229.7 L562.7,228.7 L564.1,227.8 L565.6,226.9 L567.1,226.1 L568.5,225.4 L570,224.7 L571.5,224.1 L572.9,223.5 L574.4,223 L575.9,222.5 L577.3,222.1 L578.8,221.6 L580.2,221.2 L581.7,220.9 L583.2,220.6 L584.6,220.3 L586.1,220 L587.6,219.7 L589,219.5 L590.5,219.3 L592,219.1 L593.4,218.9 L594.9,218.7 L596.4,218.6 L597.8,218.4 L599.3,218.3 L600.8,218.2 L602.2,218.1 L603.7,218 L605.2,217.9 L606.6,217.8 L608.1,217.7 L609.5,217.7 L611,217.6 L612.5,217.5 L613.9,217.5 L615.4,217.4 L616.9,217.4 L618.3,217.4 L619.8,217.3 L621.3,217.3 L622.7,217.2 L624.2,217.2 L625.7,217.2 L627.1,217.2 L628.6,217.1 L630.1,217.1 L631.5,217.1 L633,217.1 L634.5,217.1 L635.9,217.1 L637.4,217 L638.9,217 L640.3,217 L641.8,217 L643.2,217 L644.7,217 L646.2,217 L647.6,217" fill="none" stroke="#B0282E" stroke-width="1.25"/>
<g fill="#FAD38E" stroke="#9A7A48" stroke-width="0.45"><circle cx="652.9" cy="214.4" r="2.1"/><circle cx="626.9" cy="213.5" r="2.1"/><circle cx="635.5" cy="219" r="2.1"/><circle cx="644.3" cy="226.2" r="2.1"/><circle cx="617.8" cy="219" r="2.1"/><circle cx="609.2" cy="221" r="2.1"/><circle cx="600.6" cy="221" r="2.1"/><circle cx="591.6" cy="226.2" r="2.1"/><circle cx="574.4" cy="232.3" r="2.1"/><circle cx="554.4" cy="226.9" r="2.1"/><circle cx="563.3" cy="229.1" r="2.1"/><circle cx="558.7" cy="232.3" r="2.1"/><circle cx="543.6" cy="235.7" r="2.1"/><circle cx="552" cy="239.8" r="2.1"/><circle cx="556.7" cy="239.8" r="2.1"/><circle cx="561" cy="245.9" r="2.1"/><circle cx="545.4" cy="248.2" r="2.1"/><circle cx="549.9" cy="248.2" r="2.1"/><circle cx="548.1" cy="257.4" r="2.1"/><circle cx="534.6" cy="258.1" r="2.1"/><circle cx="537.1" cy="259.2" r="2.1"/><circle cx="532.4" cy="261.7" r="2.1"/><circle cx="538.8" cy="262.6" r="2.1"/><circle cx="541.3" cy="263.8" r="2.1"/><circle cx="548" cy="257.6" r="2.1"/><circle cx="526.2" cy="277.2" r="2.1"/><circle cx="530.4" cy="277.2" r="2.1"/><circle cx="528.4" cy="282.2" r="2.1"/><circle cx="522" cy="290.8" r="2.1"/><circle cx="519.5" cy="298.3" r="2.1"/><circle cx="517.8" cy="300.3" r="2.1"/><circle cx="504.1" cy="307.6" r="2.1"/><circle cx="510.6" cy="308.4" r="2.1"/><circle cx="515" cy="312.9" r="2.1"/><circle cx="499.9" cy="314.6" r="2.1"/><circle cx="505.7" cy="318.8" r="2.1"/><circle cx="508.6" cy="321.3" r="2.1"/><circle cx="513.1" cy="318" r="2.1"/><circle cx="501.9" cy="323" r="2.1"/><circle cx="497.7" cy="325.5" r="2.1"/><circle cx="495.2" cy="329.7" r="2.1"/><circle cx="488.8" cy="324.7" r="2.1"/><circle cx="486.8" cy="335.6" r="2.1"/><circle cx="483.4" cy="337.2" r="2.1"/><circle cx="480.9" cy="336.4" r="2.1"/><circle cx="478.4" cy="334.7" r="2.1"/><circle cx="480.1" cy="341.1" r="2.1"/><circle cx="565" cy="222.8" r="2.1"/></g>
<rect x="478" y="216.8" width="109.2" height="6.8" fill="#E07470" stroke="#7a5a5a" stroke-width="0.5"/>
<rect x="478" y="276.6" width="45.9" height="7.1" fill="#F7883A" stroke="#7a6a5a" stroke-width="0.5"/>
<rect x="478" y="294.2" width="40.4" height="7.3" fill="#7F7F7F" stroke="#555" stroke-width="0.5"/>
<rect x="478" y="324.7" width="15.1" height="7.6" fill="#2E80DC" stroke="#3a5a8a" stroke-width="0.5"/>
<text x="480.8" y="212.8" textLength="102.5" lengthAdjust="spacingAndGlyphs" font-size="8.5">MAP + autoencoder (37.36 dB)</text>
<text x="540.8" y="282.8" textLength="49.5" lengthAdjust="spacingAndGlyphs" font-size="8.5">MAP (15.75 dB)</text>
<text x="530.7" y="300.8" textLength="78.5" lengthAdjust="spacingAndGlyphs" font-size="8.5">Autoencoder (13.87 dB)</text>
<text x="505.7" y="331.5" textLength="67.5" lengthAdjust="spacingAndGlyphs" font-size="8.5">Raw signal (5.19 dB)</text>
<line x1="38.5" y1="423.2" x2="38.5" y2="567.8" stroke="#666" stroke-width="0.8"/>
<line x1="38.5" y1="567.8" x2="182.3" y2="567.8" stroke="#666" stroke-width="0.8"/>
<line x1="35.5" y1="423.2" x2="38.5" y2="423.2" stroke="#666" stroke-width="0.8"/>
<text x="33" y="425.8" text-anchor="end" textLength="12.5" lengthAdjust="spacingAndGlyphs" font-size="9">−20</text>
<line x1="35.5" y1="457" x2="38.5" y2="457" stroke="#666" stroke-width="0.8"/>
<text x="33" y="459.6" text-anchor="end" textLength="12.5" lengthAdjust="spacingAndGlyphs" font-size="9">−40</text>
<line x1="35.5" y1="490.7" x2="38.5" y2="490.7" stroke="#666" stroke-width="0.8"/>
<text x="33" y="493.3" text-anchor="end" textLength="12.5" lengthAdjust="spacingAndGlyphs" font-size="9">−60</text>
<line x1="35.5" y1="524.5" x2="38.5" y2="524.5" stroke="#666" stroke-width="0.8"/>
<text x="33" y="527.1" text-anchor="end" textLength="12.5" lengthAdjust="spacingAndGlyphs" font-size="9">−80</text>
<line x1="35.5" y1="558.2" x2="38.5" y2="558.2" stroke="#666" stroke-width="0.8"/>
<text x="33" y="560.9" text-anchor="end" textLength="15.8" lengthAdjust="spacingAndGlyphs" font-size="9">−100</text>
<line x1="38.5" y1="567.8" x2="38.5" y2="570.8" stroke="#666" stroke-width="0.8"/>
<text x="38.5" y="580.3" text-anchor="middle" textLength="4.6" lengthAdjust="spacingAndGlyphs" font-size="9">0</text>
<line x1="110.4" y1="567.8" x2="110.4" y2="570.8" stroke="#666" stroke-width="0.8"/>
<text x="110.4" y="580.3" text-anchor="middle" textLength="9.2" lengthAdjust="spacingAndGlyphs" font-size="9">50</text>
<line x1="182.3" y1="567.8" x2="182.3" y2="570.8" stroke="#666" stroke-width="0.8"/>
<text x="182.3" y="580.3" text-anchor="middle" textLength="12.5" lengthAdjust="spacingAndGlyphs" font-size="9">100</text>
<text x="110.5" y="594" text-anchor="middle" textLength="61" lengthAdjust="spacingAndGlyphs" font-size="8.5">Frequency (Hz)</text>
<text x="0" y="3.2" text-anchor="middle" font-size="9" transform="translate(8,495.5) rotate(-90)">Power/Frequency (dB Hz<tspan font-size="5.8" dy="-3">−1</tspan><tspan dy="3">)</tspan></text>
<path d="M38.5,432 L38.6,428.6 L38.7,430.9 L38.8,426.3 L38.9,429.2 L39,427.1 L39.1,441.8 L39.2,438.6 L39.3,443.5 L39.4,426.2 L39.5,458 L39.6,445.8 L39.7,444.2 L39.7,436 L39.8,444.4 L39.9,442 L40,431.2 L40.1,455.8 L40.2,464.1 L40.3,458.4 L40.4,457.9 L40.5,449.3 L40.6,451.7 L40.7,446.4 L40.8,454.1 L40.9,450.6 L41,459.1 L41.1,461.6 L41.2,461.2 L41.3,438.7 L41.4,462.2 L41.5,463.4 L41.6,471.5 L41.7,451.8 L41.8,463.3 L41.9,463 L42,446.3 L42,453.8 L42.1,467.7 L42.2,464.1 L42.3,448 L42.4,450.7 L42.5,472.1 L42.6,447.1 L42.7,451.7 L42.8,465 L42.9,468.8 L43,473.9 L43.1,456.1 L43.2,454.1 L43.3,454.9 L43.4,466.9 L43.5,457.4 L43.6,460.5 L43.7,467.5 L43.8,471.9 L43.9,455.3 L44,451.6 L44.1,450.6 L44.2,457.1 L44.3,460.9 L44.4,452.9 L44.4,471.4 L44.5,461.4 L44.6,459.1 L44.7,463.2 L44.8,465 L44.9,457.7 L45,459.6 L45.1,465.6 L45.2,459.7 L45.3,461.1 L45.4,463.9 L45.5,467.7 L45.6,455.3 L45.7,471 L45.8,467.4 L45.9,467.9 L46,457.3 L46.1,464.2 L46.2,456.2 L46.3,473.6 L46.4,458 L46.5,465.9 L46.6,461.8 L46.7,466.5 L46.7,461.2 L46.8,468.7 L46.9,459.1 L47,461.4 L47.1,461.9 L47.2,460 L47.3,466.8 L47.4,465.9 L47.5,471.2 L47.6,469.9 L47.7,469.8 L47.8,457.7 L47.9,460.2 L48,461.4 L48.1,464 L48.2,462 L48.3,459.2 L48.4,462 L48.5,463.9 L48.6,457.3 L48.7,463.7 L48.8,466.5 L48.9,458.6 L49,460.7 L49,460.2 L49.1,459.3 L49.2,458 L49.3,458.3 L49.4,469.4 L49.5,469.4 L49.6,459.5 L49.7,459.6 L49.8,460.6 L49.9,457.4 L50,456 L50.1,462.8 L50.2,454.8 L50.3,459.2 L50.4,467.3 L50.5,465 L50.6,462.5 L50.7,454.7 L50.8,463.3 L50.9,462.6 L51,458.1 L51.1,458.3 L51.2,458.7 L51.3,458.8 L51.4,459 L51.4,452.2 L51.5,455.8 L51.6,459.4 L51.7,459.3 L51.8,462.7 L51.9,464.1 L52,454.9 L52.1,457.3 L52.2,454.3 L52.3,466.6 L52.4,459.6 L52.5,449.8 L52.6,453.3 L52.7,463.8 L52.8,453.8 L52.9,453.3 L53,468.3 L53.1,460 L53.2,460.6 L53.3,454.2 L53.4,462.2 L53.5,463.3 L53.6,459.6 L53.7,464.4 L53.7,459.2 L53.8,457.5 L53.9,458.1 L54,462.4 L54.1,463.1 L54.2,463 L54.3,461.7 L54.4,458.9 L54.5,461.6 L54.6,466.9 L54.7,455.9 L54.8,456.9 L54.9,463.7 L55,455.3 L55.1,453 L55.2,468.3 L55.3,460.9 L55.4,458.4 L55.5,456.3 L55.6,460.7 L55.7,459.4 L55.8,461 L55.9,452.3 L56,452 L56.1,463.6 L56.1,461.9 L56.2,450 L56.3,461.9 L56.4,464.1 L56.5,457.6 L56.6,455.9 L56.7,456.6 L56.8,458.4 L56.9,462.6 L57,457.8 L57.1,457.3 L57.2,454.1 L57.3,461.5 L57.4,464.7 L57.5,460.2 L57.6,455 L57.7,463 L57.8,468.4 L57.9,461.3 L58,457.7 L58.1,456.4 L58.2,462.8 L58.3,456.8 L58.4,455.9 L58.4,461.7 L58.5,458.6 L58.6,452.2 L58.7,454.3 L58.8,453 L58.9,460.3 L59,457.4 L59.1,458.6 L59.2,459.7 L59.3,463 L59.4,459.4 L59.5,459.1 L59.6,450.5 L59.7,461.3 L59.8,456.7 L59.9,456.3 L60,461.5 L60.1,455.8 L60.2,467.7 L60.3,459.6 L60.4,457 L60.5,468.5 L60.6,464.2 L60.7,456.3 L60.7,461 L60.8,464 L60.9,461.5 L61,462.1 L61.1,457.7 L61.2,458.6 L61.3,461.3 L61.4,462.7 L61.5,460.5 L61.6,455.7 L61.7,459.2 L61.8,458.2 L61.9,461 L62,465.1 L62.1,463 L62.2,458.2 L62.3,460.2 L62.4,463.8 L62.5,466.4 L62.6,460.3 L62.7,461.9 L62.8,461.9 L62.9,461.9 L63,459.8 L63.1,459.7 L63.1,457.4 L63.2,457.6 L63.3,456.2 L63.4,458 L63.5,462.1 L63.6,461.2 L63.7,459.2 L63.8,462.1 L63.9,459.1 L64,457 L64.1,463.9 L64.2,467.4 L64.3,456.9 L64.4,461.1 L64.5,458.7 L64.6,466 L64.7,455.1 L64.8,458.7 L64.9,461.8 L65,462.6 L65.1,461 L65.2,462 L65.3,462.4 L65.4,465.4 L65.4,457 L65.5,461.7 L65.6,461.3 L65.7,461.2 L65.8,470 L65.9,459.8 L66,462.8 L66.1,462.7 L66.2,461.5 L66.3,465.2 L66.4,458.8 L66.5,464.3 L66.6,465 L66.7,464.9 L66.8,461.3 L66.9,459.3 L67,464.1 L67.1,467.3 L67.2,458.2 L67.3,465.8 L67.4,457.8 L67.5,462.3 L67.6,464.6 L67.7,464.4 L67.8,460.6 L67.8,459.1 L67.9,463 L68,458.9 L68.1,454.9 L68.2,463.1 L68.3,466.5 L68.4,466.2 L68.5,467.4 L68.6,464.8 L68.7,465.1 L68.8,467.3 L68.9,460.7 L69,471.9 L69.1,467.4 L69.2,455.6 L69.3,459.1 L69.4,460.9 L69.5,461.2 L69.6,456.6 L69.7,461 L69.8,462.6 L69.9,467.3 L70,463.2 L70.1,465.6 L70.1,465.5 L70.2,465.6 L70.3,463.3 L70.4,464.3 L70.5,460.1 L70.6,467.9 L70.7,463.8 L70.8,456.7 L70.9,463.2 L71,459.1 L71.1,459.4 L71.2,458.7 L71.3,460.8 L71.4,468.4 L71.5,464.5 L71.6,464.9 L71.7,469.1 L71.8,465.3 L71.9,468.1 L72,469.6 L72.1,463 L72.2,463.9 L72.3,466.2 L72.4,467.2 L72.4,465.8 L72.5,465.3 L72.6,465.4 L72.7,464.1 L72.8,465.5 L72.9,462.7 L73,462.2 L73.1,462.8 L73.2,466.5 L73.3,466.3 L73.4,462.7 L73.5,464.9 L73.6,464.4 L73.7,473.1 L73.8,473.9 L73.9,463.2 L74,463.2 L74.1,459.5 L74.2,461.9 L74.3,463.7 L74.4,464.5 L74.5,469.6 L74.6,461.5 L74.7,466.8 L74.8,462.9 L74.8,464 L74.9,463.8 L75,461.7 L75.1,466.6 L75.2,466.3 L75.3,468 L75.4,466.4 L75.5,459.2 L75.6,466.4 L75.7,461 L75.8,462.3 L75.9,462.7 L76,462.4 L76.1,468.9 L76.2,464.1 L76.3,459.8 L76.4,467.9 L76.5,465.7 L76.6,468 L76.7,464.5 L76.8,469.5 L76.9,460 L77,467.1 L77.1,471.3 L77.1,459.5 L77.2,462.4 L77.3,464.1 L77.4,464.1 L77.5,467.3 L77.6,466.8 L77.7,463.5 L77.8,462.9 L77.9,462.9 L78,465.5 L78.1,467.9 L78.2,467 L78.3,462.4 L78.4,461.3 L78.5,467.7 L78.6,468.2 L78.7,462.1 L78.8,464 L78.9,464.2 L79,471.3 L79.1,468.1 L79.2,468.6 L79.3,466.1 L79.4,472.8 L79.5,462.4 L79.5,465.9 L79.6,465.5 L79.7,471.2 L79.8,467.2 L79.9,462.4 L80,472.7 L80.1,466.1 L80.2,464.8 L80.3,469.8 L80.4,464.5 L80.5,468.6 L80.6,463.1 L80.7,465.6 L80.8,466.7 L80.9,460.5 L81,464.7 L81.1,463 L81.2,471.9 L81.3,470.1 L81.4,464.8 L81.5,464.6 L81.6,468.1 L81.7,465.2 L81.8,471.8 L81.8,467.4 L81.9,472.3 L82,467.1 L82.1,470.2 L82.2,470.8 L82.3,468.5 L82.4,462.3 L82.5,472.4 L82.6,471.1 L82.7,465.3 L82.8,470.6 L82.9,463 L83,468.6 L83.1,469.1 L83.2,468.3 L83.3,463.5 L83.4,467.4 L83.5,468 L83.6,469 L83.7,475.6 L83.8,473.3 L83.9,465 L84,467.4 L84.1,468.6 L84.2,468.3 L84.2,472.5 L84.3,469.5 L84.4,474 L84.5,469.5 L84.6,473.5 L84.7,471.9 L84.8,469.6 L84.9,472.5 L85,469.1 L85.1,469.9 L85.2,470.3 L85.3,467 L85.4,477 L85.5,477.6 L85.6,469.8 L85.7,468.8 L85.8,465.1 L85.9,469.6 L86,469.5 L86.1,475.6 L86.2,469.9 L86.3,470.3 L86.4,476.5 L86.5,476.1 L86.5,473.4 L86.6,472.1 L86.7,483.6 L86.8,473 L86.9,472.6 L87,474.1 L87.1,472.6 L87.2,472.1 L87.3,477.4 L87.4,472.4 L87.5,474.9 L87.6,477.5 L87.7,473.5 L87.8,469.1 L87.9,479.6 L88,480.4 L88.1,480.5 L88.2,467.8 L88.3,475.8 L88.4,475.2 L88.5,477.9 L88.6,478.6 L88.7,482.5 L88.8,474.9 L88.8,474.6 L88.9,482.7 L89,479.5 L89.1,478.5 L89.2,476.1 L89.3,475.3 L89.4,472.3 L89.5,471.5 L89.6,472.7 L89.7,471.8 L89.8,480.8 L89.9,478.8 L90,472.9 L90.1,476 L90.2,477.1 L90.3,484.3 L90.4,484 L90.5,474.9 L90.6,476.4 L90.7,478.8 L90.8,479.3 L90.9,484.1 L91,476.7 L91.1,474.5 L91.2,472.4 L91.2,478.2 L91.3,479.2 L91.4,482.5 L91.5,474.4 L91.6,472.8 L91.7,481.1 L91.8,478 L91.9,478.8 L92,481.3 L92.1,488.2 L92.2,480.8 L92.3,477.5 L92.4,484.9 L92.5,482.8 L92.6,491.6 L92.7,475.5 L92.8,478.4 L92.9,480.1 L93,481.4 L93.1,482.8 L93.2,480.9 L93.3,481.9 L93.4,481.8 L93.5,481.2 L93.5,480.8 L93.6,475.9 L93.7,486.7 L93.8,480.8 L93.9,484.1 L94,486 L94.1,490.5 L94.2,480.1 L94.3,486 L94.4,485.3 L94.5,481.1 L94.6,486.8 L94.7,483 L94.8,483.5 L94.9,480.5 L95,480 L95.1,486.8 L95.2,480.6 L95.3,484.3 L95.4,483.7 L95.5,485 L95.6,481.7 L95.7,488.9 L95.8,483.8 L95.9,480.7 L95.9,486 L96,478 L96.1,487.9 L96.2,484.7 L96.3,487.4 L96.4,488 L96.5,489.9 L96.6,488 L96.7,486.4 L96.8,489.2 L96.9,483.4 L97,481.3 L97.1,492.3 L97.2,484 L97.3,486.5 L97.4,486.4 L97.5,478.7 L97.6,483.4 L97.7,486.7 L97.8,487.4 L97.9,495.9 L98,485.7 L98.1,491.3 L98.2,488.3 L98.2,488.7 L98.3,485.9 L98.4,482.3 L98.5,486.2 L98.6,485.4 L98.7,490.9 L98.8,488.7 L98.9,487.8 L99,495.8 L99.1,483.7 L99.2,493.7 L99.3,495.9 L99.4,485.8 L99.5,484.3 L99.6,494.5 L99.7,494.4 L99.8,481.4 L99.9,492.2 L100,499.8 L100.1,495.2 L100.2,486.1 L100.3,491.1 L100.4,491 L100.5,489.5 L100.5,491.6 L100.6,495.4 L100.7,500.1 L100.8,493.1 L100.9,498.8 L101,495.3 L101.1,489 L101.2,493.6 L101.3,495.5 L101.4,495.7 L101.5,493.5 L101.6,493 L101.7,501.2 L101.8,496.1 L101.9,491 L102,494.7 L102.1,500.3 L102.2,500.3 L102.3,505.5 L102.4,501.3 L102.5,493.1 L102.6,499.3 L102.7,502.4 L102.8,501.7 L102.9,500.4 L102.9,500.6 L103,501.8 L103.1,503.6 L103.2,498.9 L103.3,496 L103.4,503.7 L103.5,503.9 L103.6,498.1 L103.7,507.8 L103.8,505 L103.9,504.5 L104,502.9 L104.1,504.8 L104.2,507.2 L104.3,503.3 L104.4,508.9 L104.5,511.1 L104.6,512.4 L104.7,502.9 L104.8,512 L104.9,504.5 L105,504 L105.1,503.9 L105.2,507.6 L105.2,509.2 L105.3,507.3 L105.4,510.1 L105.5,513 L105.6,504.5 L105.7,512.6 L105.8,503.5 L105.9,508.5 L106,512.3 L106.1,509.6 L106.2,507.3 L106.3,517 L106.4,515.8 L106.5,516.7 L106.6,512.9 L106.7,512.5 L106.8,514.2 L106.9,517.4 L107,517.1 L107.1,511.5 L107.2,512.2 L107.3,516.1 L107.4,521.7 L107.5,515.3 L107.6,516.9 L107.6,517.5 L107.7,512.7 L107.8,516.4 L107.9,523.2 L108,523.6 L108.1,515.8 L108.2,520.4 L108.3,518.8 L108.4,523.3 L108.5,527.2 L108.6,523.5 L108.7,519.9 L108.8,525.1 L108.9,531.2 L109,529.2 L109.1,530.7 L109.2,529.2 L109.3,527.1 L109.4,524.6 L109.5,531.7 L109.6,534.9 L109.7,534 L109.8,536 L109.9,539.4 L109.9,539.6 L110,541.5 L110.1,547.4 L110.2,543.1 L110.3,548.2 L110.4,550.4 L110.5,543.3 L110.6,545 L110.7,535.3 L110.8,538 L110.9,537.6 L111,538.8 L111.1,535.7 L111.2,530.4 L111.3,534.9 L111.4,528.9 L111.5,538.2 L111.6,529.1 L111.7,526 L111.8,526.8 L111.9,527.1 L112,522.6 L112.1,528.4 L112.2,527.9 L112.3,523.2 L112.3,518.4 L112.4,520.2 L112.5,521.5 L112.6,519.4 L112.7,518.5 L112.8,524.1 L112.9,529.3 L113,522.6 L113.1,523.9 L113.2,520.3 L113.3,522.1 L113.4,520.5 L113.5,515.5 L113.6,516.4 L113.7,516.4 L113.8,510.1 L113.9,517.2 L114,516.5 L114.1,510.3 L114.2,518.4 L114.3,519.8 L114.4,509 L114.5,512.1 L114.6,510.8 L114.6,510.2 L114.7,509 L114.8,513.7 L114.9,512.1 L115,515.7 L115.1,511 L115.2,510.5 L115.3,512.8 L115.4,508.6 L115.5,500.4 L115.6,514.7 L115.7,507.5 L115.8,507 L115.9,506.3 L116,512.8 L116.1,505.5 L116.2,507.3 L116.3,509.9 L116.4,510.4 L116.5,508.2 L116.6,505.6 L116.7,505.6 L116.8,500.4 L116.9,509.6 L116.9,506 L117,509.5 L117.1,505 L117.2,507.2 L117.3,509.6 L117.4,512 L117.5,509.8 L117.6,506.2 L117.7,501.7 L117.8,504.1 L117.9,511 L118,508.5 L118.1,506.6 L118.2,507.1 L118.3,506.4 L118.4,503.8 L118.5,505.8 L118.6,509 L118.7,513.3 L118.8,507.7 L118.9,512.4 L119,506.9 L119.1,505.2 L119.2,511 L119.3,506.8 L119.3,507.5 L119.4,499.5 L119.5,504.6 L119.6,512.8 L119.7,504.5 L119.8,504.6 L119.9,506.7 L120,507.3 L120.1,503.8 L120.2,503.5 L120.3,504.2 L120.4,509.2 L120.5,506.6 L120.6,511.1 L120.7,510.9 L120.8,507.5 L120.9,509.2 L121,506.9 L121.1,496.5 L121.2,503.5 L121.3,508.4 L121.4,512.8 L121.5,508.1 L121.6,510.1 L121.6,512.8 L121.7,502.4 L121.8,506.6 L121.9,503.3 L122,493.8 L122.1,503.7 L122.2,504.2 L122.3,503.3 L122.4,505.4 L122.5,507.3 L122.6,505.1 L122.7,500.2 L122.8,505.2 L122.9,509 L123,508.5 L123.1,507.6 L123.2,503.9 L123.3,502.1 L123.4,502.1 L123.5,499.5 L123.6,504.5 L123.7,500.8 L123.8,502.5 L123.9,501.2 L124,510.2 L124,499.2 L124.1,509.1 L124.2,507.6 L124.3,500.8 L124.4,504.9 L124.5,497.3 L124.6,502.9 L124.7,507.1 L124.8,502.9 L124.9,504.9 L125,498 L125.1,497.7 L125.2,500.8 L125.3,504.9 L125.4,503.1 L125.5,499.7 L125.6,506.3 L125.7,506.2 L125.8,500.4 L125.9,500.8 L126,504.2 L126.1,504.4 L126.2,510.3 L126.3,499.2 L126.3,503.8 L126.4,508.5 L126.5,507.4 L126.6,506.6 L126.7,497.4 L126.8,501 L126.9,508.1 L127,496.8 L127.1,498.6 L127.2,507.1 L127.3,512.8 L127.4,500 L127.5,505.5 L127.6,503.9 L127.7,505.2 L127.8,498.9 L127.9,498.1 L128,500.5 L128.1,503.9 L128.2,502.5 L128.3,501.2 L128.4,509 L128.5,499 L128.6,504.5 L128.6,502.4 L128.7,502.9 L128.8,500.2 L128.9,499.6 L129,495.5 L129.1,504.6 L129.2,506.6 L129.3,502.9 L129.4,505.7 L129.5,500.3 L129.6,506.2 L129.7,502.8 L129.8,500 L129.9,499.7 L130,502.6 L130.1,498.3 L130.2,498.7 L130.3,509.3 L130.4,502 L130.5,502.6 L130.6,504.3 L130.7,505.5 L130.8,503.1 L130.9,501.9 L131,502.3 L131,498.4 L131.1,499.7 L131.2,505.3 L131.3,505.9 L131.4,500.2 L131.5,505.7 L131.6,502.7 L131.7,501.6 L131.8,499.6 L131.9,501.4 L132,498.1 L132.1,504.9 L132.2,501 L132.3,505.7 L132.4,502.7 L132.5,503 L132.6,506.8 L132.7,512.7 L132.8,500.1 L132.9,502.3 L133,503.1 L133.1,506.1 L133.2,504.8 L133.3,502.1 L133.3,503.7 L133.4,499.7 L133.5,503.4 L133.6,506.7 L133.7,501.7 L133.8,506.1 L133.9,503.2 L134,510.4 L134.1,505.3 L134.2,502.1 L134.3,506.4 L134.4,504.2 L134.5,502.1 L134.6,504 L134.7,497.9 L134.8,505.2 L134.9,504.9 L135,504.9 L135.1,511.4 L135.2,509.9 L135.3,502.6 L135.4,505.7 L135.5,499.6 L135.6,504.8 L135.7,505.2 L135.7,501 L135.8,503.7 L135.9,499 L136,508.5 L136.1,503.2 L136.2,502.4 L136.3,502.9 L136.4,500.8 L136.5,501.2 L136.6,504.8 L136.7,506.9 L136.8,501.5 L136.9,504.8 L137,501.6 L137.1,500.2 L137.2,504.3 L137.3,508.2 L137.4,506 L137.5,502.3 L137.6,505.9 L137.7,500.9 L137.8,505 L137.9,504.7 L138,507.4 L138,505.6 L138.1,501.4 L138.2,506.5 L138.3,506.5 L138.4,508.1 L138.5,502.6 L138.6,510.8 L138.7,507.8 L138.8,502.3 L138.9,500.5 L139,506.4 L139.1,502.2 L139.2,512.7 L139.3,503 L139.4,504.7 L139.5,510.1 L139.6,512.1 L139.7,507.6 L139.8,504.9 L139.9,504.6 L140,505.5 L140.1,503.2 L140.2,503.5 L140.3,510.9 L140.3,507.4 L140.4,507.8 L140.5,502.4 L140.6,507.8 L140.7,502.5 L140.8,505.8 L140.9,497.8 L141,506.3 L141.1,506.2 L141.2,506.6 L141.3,505.7 L141.4,497.6 L141.5,508.1 L141.6,509.4 L141.7,507 L141.8,504 L141.9,509.9 L142,503.6 L142.1,503.7 L142.2,507 L142.3,507.4 L142.4,509.3 L142.5,507.5 L142.6,509.4 L142.7,502.2 L142.7,500.8 L142.8,507.6 L142.9,506.8 L143,513.4 L143.1,508.6 L143.2,505.5 L143.3,505.8 L143.4,506.4 L143.5,503.8 L143.6,506.5 L143.7,508.2 L143.8,501.2 L143.9,513.7 L144,511 L144.1,509.6 L144.2,509.6 L144.3,509.8 L144.4,507.8 L144.5,509.6 L144.6,507.3 L144.7,505.1 L144.8,507.1 L144.9,506.7 L145,510.5 L145,511.3 L145.1,508.3 L145.2,504 L145.3,506 L145.4,503.5 L145.5,503.9 L145.6,503.4 L145.7,510.3 L145.8,503.1 L145.9,504.8 L146,500.2 L146.1,505.4 L146.2,506.4 L146.3,508 L146.4,507 L146.5,513.4 L146.6,508.5 L146.7,507.8 L146.8,504.2 L146.9,510 L147,507.2 L147.1,501.3 L147.2,509.6 L147.3,504.8 L147.4,509.7 L147.4,508.2 L147.5,506.2 L147.6,504.8 L147.7,509.6 L147.8,511.5 L147.9,502.6 L148,507.3 L148.1,505.2 L148.2,504.8 L148.3,505.4 L148.4,509 L148.5,508.5 L148.6,513.5 L148.7,507.5 L148.8,509.8 L148.9,508.2 L149,501.6 L149.1,505.8 L149.2,508 L149.3,513 L149.4,505.7 L149.5,503 L149.6,511.2 L149.7,506.8 L149.7,510.2 L149.8,508.9 L149.9,509.7 L150,514.1 L150.1,510.2 L150.2,514.1 L150.3,503.7 L150.4,504.9 L150.5,508.4 L150.6,507.6 L150.7,508.4 L150.8,507.9 L150.9,507.9 L151,509.5 L151.1,509.3 L151.2,513.4 L151.3,512.2 L151.4,510.9 L151.5,508 L151.6,510.1 L151.7,502.2 L151.8,509.5 L151.9,510.1 L152,507.4 L152.1,505.3 L152.1,502.5 L152.2,505.5 L152.3,511 L152.4,509.6 L152.5,505.3 L152.6,508.1 L152.7,506.3 L152.8,509.3 L152.9,503.5 L153,504.1 L153.1,505.2 L153.2,508.6 L153.3,514.8 L153.4,513.9 L153.5,508.1 L153.6,507 L153.7,519.4 L153.8,510.9 L153.9,505.3 L154,506 L154.1,511.1 L154.2,507.2 L154.3,509.3 L154.4,510.2 L154.4,505.6 L154.5,505.5 L154.6,511.3 L154.7,512.8 L154.8,514.1 L154.9,514.5 L155,505 L155.1,503.2 L155.2,508.9 L155.3,506 L155.4,512.1 L155.5,510 L155.6,506.6 L155.7,508.7 L155.8,509.9 L155.9,515.6 L156,514.9 L156.1,511.3 L156.2,511.9 L156.3,510.2 L156.4,512.2 L156.5,510.8 L156.6,509.8 L156.7,508.3 L156.7,509.9 L156.8,512 L156.9,511.1 L157,507.1 L157.1,510.9 L157.2,513.6 L157.3,513.8 L157.4,509.3 L157.5,508.4 L157.6,506.1 L157.7,511.5 L157.8,505.7 L157.9,511.7 L158,511.3 L158.1,512.5 L158.2,508.7 L158.3,507 L158.4,510.7 L158.5,512.4 L158.6,516 L158.7,510.2 L158.8,511.9 L158.9,511.5 L159,513 L159.1,513.8 L159.1,512.3 L159.2,509.3 L159.3,507.6 L159.4,511 L159.5,509.9 L159.6,511.7 L159.7,511.5 L159.8,515.8 L159.9,508.1 L160,509.1 L160.1,506.1 L160.2,513.3 L160.3,510.8 L160.4,514.4 L160.5,510.4 L160.6,511.7 L160.7,509 L160.8,511.8 L160.9,509.2 L161,513.1 L161.1,509.4 L161.2,512.5 L161.3,513 L161.4,511.2 L161.4,510.3 L161.5,516.4 L161.6,516.8 L161.7,511 L161.8,511.8 L161.9,518.7 L162,517.6 L162.1,514.4 L162.2,510.7 L162.3,511.1 L162.4,508.4 L162.5,507.8 L162.6,503.7 L162.7,516.8 L162.8,512.1 L162.9,508.3 L163,516.3 L163.1,516.8 L163.2,511.4 L163.3,508.3 L163.4,507.8 L163.5,518.2 L163.6,516.3 L163.7,512.5 L163.8,514 L163.8,511.1 L163.9,511.8 L164,506.2 L164.1,512.5 L164.2,511.7 L164.3,512.1 L164.4,508.6 L164.5,516.2 L164.6,511.1 L164.7,515.1 L164.8,517.4 L164.9,508.5 L165,510.7 L165.1,507.8 L165.2,511.7 L165.3,510.4 L165.4,512.2 L165.5,510.7 L165.6,514.1 L165.7,506.8 L165.8,515.8 L165.9,506.9 L166,513.5 L166.1,509.8 L166.1,512.4 L166.2,511.3 L166.3,507.7 L166.4,512.4 L166.5,516.2 L166.6,512.1 L166.7,510.7 L166.8,521.5 L166.9,509.7 L167,509.3 L167.1,519.2 L167.2,513.7 L167.3,510.3 L167.4,517.2 L167.5,514.7 L167.6,514.4 L167.7,511.3 L167.8,509.4 L167.9,513.4 L168,513.1 L168.1,510.2 L168.2,511.5 L168.3,513.8 L168.4,508.8 L168.4,518.4 L168.5,513 L168.6,515 L168.7,515.3 L168.8,512.9 L168.9,513.5 L169,505.1 L169.1,511.4 L169.2,512.5 L169.3,508 L169.4,510.2 L169.5,520.3 L169.6,513.4 L169.7,511.3 L169.8,516 L169.9,512.9 L170,515.5 L170.1,512.7 L170.2,519.7 L170.3,520.9 L170.4,516 L170.5,513.3 L170.6,509.5 L170.7,515.1 L170.8,516.8 L170.8,511 L170.9,514.1 L171,508 L171.1,514.6 L171.2,521.2 L171.3,517.2 L171.4,517.8 L171.5,519.3 L171.6,517.2 L171.7,516.9 L171.8,515.5 L171.9,516.5 L172,513.2 L172.1,513.2 L172.2,514.1 L172.3,514 L172.4,521.3 L172.5,520.6 L172.6,517.9 L172.7,513.9 L172.8,520 L172.9,516.4 L173,514 L173.1,508 L173.1,514.1 L173.2,516.9 L173.3,511.2 L173.4,514.3 L173.5,516.1 L173.6,511.2 L173.7,518.4 L173.8,514.5 L173.9,514.9 L174,512.1 L174.1,519.3 L174.2,519.9 L174.3,516.7 L174.4,516.4 L174.5,515.3 L174.6,516.8 L174.7,514 L174.8,513.1 L174.9,514.8 L175,519.3 L175.1,511.6 L175.2,521 L175.3,516.4 L175.4,512.6 L175.5,517.9 L175.5,511.2 L175.6,509.1 L175.7,510.3 L175.8,514.3 L175.9,512.4 L176,517.7 L176.1,514.5 L176.2,514.4 L176.3,515.7 L176.4,515.5 L176.5,516.8 L176.6,523 L176.7,514.7 L176.8,515.1 L176.9,509 L177,513.7 L177.1,516 L177.2,513.2 L177.3,514.1 L177.4,516.4 L177.5,517.7 L177.6,521.6 L177.7,516 L177.8,510.7 L177.8,523 L177.9,519.8 L178,513.9 L178.1,515.9 L178.2,515.1 L178.3,523.2 L178.4,518.7 L178.5,514.9 L178.6,514.6 L178.7,515.7 L178.8,519.9 L178.9,514.9 L179,521 L179.1,520.1 L179.2,521 L179.3,511.8 L179.4,518.4 L179.5,516.7 L179.6,524.7 L179.7,513.1 L179.8,515.4 L179.9,522.9 L180,522.8 L180.1,511.3 L180.2,520.5 L180.2,510.7 L180.3,518.9 L180.4,526 L180.5,513.3 L180.6,515.5 L180.7,514.9 L180.8,519.1 L180.9,518.1 L181,514 L181.1,520.3 L181.2,524.4 L181.3,514.3 L181.4,519.7 L181.5,513 L181.6,519.3 L181.7,519.1 L181.8,518.5 L181.9,526 L182,513.5 L182.1,520 L182.2,518.4 L182.3,512.6" fill="none" stroke="#4A6FA5" stroke-width="0.6"/>
<path d="M38.5,432.4 L38.6,423.2 L38.7,458.5 L38.8,436.2 L38.9,439.7 L39,442.6 L39.1,429.3 L39.2,433.3 L39.3,451 L39.4,447.7 L39.5,440.9 L39.6,428.1 L39.7,450.6 L39.7,447.5 L39.8,446 L39.9,456 L40,446.5 L40.1,438.3 L40.2,448.6 L40.3,445 L40.4,467.4 L40.5,457.2 L40.6,443.1 L40.7,432.9 L40.8,454.7 L40.9,468.8 L41,461.5 L41.1,464.5 L41.2,439.3 L41.3,471.2 L41.4,463.3 L41.5,475.2 L41.6,463 L41.7,465.9 L41.8,452.3 L41.9,459 L42,462.6 L42,468 L42.1,464.6 L42.2,451.5 L42.3,467.8 L42.4,465 L42.5,470.9 L42.6,464.5 L42.7,468.6 L42.8,469.4 L42.9,458.7 L43,467.2 L43.1,465.5 L43.2,469.7 L43.3,464.2 L43.4,462.9 L43.5,483.4 L43.6,465.5 L43.7,472.6 L43.8,474 L43.9,467.9 L44,449.9 L44.1,457.5 L44.2,460.8 L44.3,453.4 L44.4,468.9 L44.4,465.1 L44.5,458.9 L44.6,466 L44.7,459.5 L44.8,463 L44.9,466.5 L45,458.9 L45.1,473.1 L45.2,468.3 L45.3,473.5 L45.4,462.3 L45.5,470.6 L45.6,464.1 L45.7,476.7 L45.8,462 L45.9,469.3 L46,467.1 L46.1,462 L46.2,482.1 L46.3,472.6 L46.4,467 L46.5,470.8 L46.6,480.3 L46.7,470.2 L46.7,468.5 L46.8,459.3 L46.9,467.5 L47,472.8 L47.1,461.2 L47.2,456.4 L47.3,467.9 L47.4,464.2 L47.5,474.9 L47.6,474.8 L47.7,463.4 L47.8,471.4 L47.9,479.7 L48,461.7 L48.1,468.4 L48.2,466.4 L48.3,469.9 L48.4,456 L48.5,476.7 L48.6,476.3 L48.7,472.2 L48.8,464.1 L48.9,469.8 L49,471.2 L49,471.5 L49.1,475.9 L49.2,461.4 L49.3,465.4 L49.4,456.2 L49.5,467.3 L49.6,476.2 L49.7,474.5 L49.8,466.9 L49.9,459.7 L50,458.9 L50.1,466.8 L50.2,466.9 L50.3,463.6 L50.4,461.8 L50.5,473.6 L50.6,472.2 L50.7,462.3 L50.8,469.9 L50.9,468.7 L51,464.6 L51.1,470.8 L51.2,464.5 L51.3,460.2 L51.4,463.9 L51.4,473.3 L51.5,460.2 L51.6,466.6 L51.7,461.8 L51.8,461.7 L51.9,463.2 L52,469.4 L52.1,460.3 L52.2,468.1 L52.3,466.5 L52.4,466.6 L52.5,467.3 L52.6,464.4 L52.7,468.1 L52.8,456.7 L52.9,466.8 L53,468.6 L53.1,454.1 L53.2,470.1 L53.3,459.8 L53.4,459.2 L53.5,468.2 L53.6,464.8 L53.7,472.4 L53.7,465.3 L53.8,465.8 L53.9,473.5 L54,464.3 L54.1,468.9 L54.2,459.2 L54.3,466.3 L54.4,466.9 L54.5,469 L54.6,467 L54.7,459.7 L54.8,453.2 L54.9,464.3 L55,463.4 L55.1,461 L55.2,466 L55.3,461.9 L55.4,464.8 L55.5,467.2 L55.6,468.3 L55.7,464 L55.8,458.1 L55.9,462.5 L56,458.2 L56.1,465.2 L56.1,466.2 L56.2,456.4 L56.3,466.4 L56.4,459.4 L56.5,459.5 L56.6,468.5 L56.7,467.3 L56.8,459.7 L56.9,457.4 L57,458 L57.1,463.7 L57.2,459.2 L57.3,463.7 L57.4,467.7 L57.5,463.4 L57.6,464 L57.7,465.5 L57.8,463.5 L57.9,463.9 L58,460.5 L58.1,468.9 L58.2,464 L58.3,468.8 L58.4,457.5 L58.4,458 L58.5,456 L58.6,459.3 L58.7,458.8 L58.8,458.5 L58.9,469.7 L59,463.1 L59.1,466.1 L59.2,463.8 L59.3,468.3 L59.4,457.2 L59.5,462.4 L59.6,468.5 L59.7,461.1 L59.8,463.1 L59.9,466.5 L60,463.2 L60.1,465.9 L60.2,471.4 L60.3,468.7 L60.4,461.6 L60.5,462.3 L60.6,462.6 L60.7,467.8 L60.7,465.8 L60.8,463.5 L60.9,461.3 L61,466.8 L61.1,467.6 L61.2,459.8 L61.3,463.7 L61.4,465.3 L61.5,466.6 L61.6,466.4 L61.7,458.5 L61.8,460.7 L61.9,465.6 L62,468.6 L62.1,458.3 L62.2,458.7 L62.3,460 L62.4,461.4 L62.5,471.1 L62.6,469 L62.7,462.4 L62.8,465.5 L62.9,463.6 L63,466.4 L63.1,466.9 L63.1,462.7 L63.2,466.1 L63.3,464.7 L63.4,463.8 L63.5,464 L63.6,460.7 L63.7,460 L63.8,469.8 L63.9,465.9 L64,467.3 L64.1,462.3 L64.2,468.8 L64.3,462.3 L64.4,462.6 L64.5,463.1 L64.6,468.7 L64.7,466 L64.8,469.1 L64.9,463.9 L65,462 L65.1,470.8 L65.2,468.4 L65.3,466.1 L65.4,467.4 L65.4,460.3 L65.5,466.1 L65.6,464.7 L65.7,469.6 L65.8,460.2 L65.9,465.1 L66,463 L66.1,465.5 L66.2,473.4 L66.3,471.6 L66.4,470.5 L66.5,464.3 L66.6,467.8 L66.7,464.5 L66.8,465.1 L66.9,465.2 L67,462.9 L67.1,465.5 L67.2,472 L67.3,468.7 L67.4,460.4 L67.5,470.1 L67.6,461.6 L67.7,460.6 L67.8,468.6 L67.8,465.3 L67.9,471.5 L68,463.9 L68.1,469.4 L68.2,471.3 L68.3,468.1 L68.4,468.4 L68.5,468.9 L68.6,466.2 L68.7,467.5 L68.8,469.3 L68.9,463.7 L69,458.5 L69.1,466.9 L69.2,469.7 L69.3,470.7 L69.4,465.2 L69.5,468.2 L69.6,467.3 L69.7,474.4 L69.8,471.4 L69.9,471.6 L70,464.2 L70.1,468.5 L70.1,476.4 L70.2,465.9 L70.3,463.7 L70.4,463.1 L70.5,477.7 L70.6,467.3 L70.7,465 L70.8,465.8 L70.9,468.8 L71,474.4 L71.1,469.6 L71.2,469.2 L71.3,466.1 L71.4,465.9 L71.5,469.1 L71.6,465.3 L71.7,472.1 L71.8,470.8 L71.9,468.5 L72,466.4 L72.1,469.6 L72.2,464.2 L72.3,467.1 L72.4,472 L72.4,468.4 L72.5,471.9 L72.6,472.2 L72.7,473.9 L72.8,463.9 L72.9,465.7 L73,474.6 L73.1,465.1 L73.2,465.6 L73.3,470.4 L73.4,467.3 L73.5,461.2 L73.6,468.2 L73.7,467.8 L73.8,465.3 L73.9,473 L74,473.9 L74.1,474.4 L74.2,469.8 L74.3,466.4 L74.4,472.6 L74.5,474.5 L74.6,468.9 L74.7,471 L74.8,467.6 L74.8,470.2 L74.9,470.4 L75,470.1 L75.1,469.8 L75.2,473.4 L75.3,474 L75.4,464.4 L75.5,459.1 L75.6,466.2 L75.7,476 L75.8,470.1 L75.9,466.1 L76,476.1 L76.1,472.1 L76.2,471.9 L76.3,473.8 L76.4,473.5 L76.5,467 L76.6,472.3 L76.7,471.5 L76.8,464.7 L76.9,473.9 L77,477.7 L77.1,468.7 L77.1,463.9 L77.2,470.3 L77.3,470 L77.4,475.7 L77.5,474.6 L77.6,466.1 L77.7,466.9 L77.8,469.3 L77.9,473.8 L78,475.8 L78.1,475.3 L78.2,475.8 L78.3,469.6 L78.4,474.6 L78.5,473.6 L78.6,469.5 L78.7,469.6 L78.8,471.9 L78.9,470.5 L79,472.2 L79.1,479.2 L79.2,472.6 L79.3,473.9 L79.4,473.8 L79.5,471.7 L79.5,474.6 L79.6,468.3 L79.7,473.3 L79.8,472.2 L79.9,471.7 L80,473.5 L80.1,470.7 L80.2,470.3 L80.3,470.8 L80.4,475.6 L80.5,476.4 L80.6,475.4 L80.7,473.3 L80.8,480.1 L80.9,476.5 L81,477.6 L81.1,476 L81.2,476.9 L81.3,470.8 L81.4,472.2 L81.5,470.4 L81.6,477.4 L81.7,476.7 L81.8,475.1 L81.8,468.3 L81.9,468.3 L82,476.6 L82.1,472.3 L82.2,467 L82.3,478.4 L82.4,475.5 L82.5,470.3 L82.6,472.5 L82.7,478.7 L82.8,469.9 L82.9,471.9 L83,473 L83.1,480 L83.2,476.3 L83.3,471.1 L83.4,474.2 L83.5,473.2 L83.6,477.1 L83.7,470.9 L83.8,477.2 L83.9,473.2 L84,475.4 L84.1,480.1 L84.2,471.5 L84.2,481.4 L84.3,479.7 L84.4,476.6 L84.5,482.3 L84.6,483.8 L84.7,477.9 L84.8,479.1 L84.9,478.7 L85,476.1 L85.1,469.9 L85.2,479.6 L85.3,469.5 L85.4,477.5 L85.5,478.8 L85.6,488.1 L85.7,484.1 L85.8,477.9 L85.9,476.9 L86,482 L86.1,478.1 L86.2,476.1 L86.3,481.4 L86.4,485.3 L86.5,483.1 L86.5,480.8 L86.6,478.9 L86.7,477.2 L86.8,483.4 L86.9,480.1 L87,481.2 L87.1,480.3 L87.2,476.6 L87.3,476.1 L87.4,482.5 L87.5,483.1 L87.6,483.5 L87.7,483.1 L87.8,482.8 L87.9,482.1 L88,483.4 L88.1,485.6 L88.2,486 L88.3,481.8 L88.4,473.5 L88.5,480.3 L88.6,480.1 L88.7,481.3 L88.8,483.3 L88.8,475.8 L88.9,484.1 L89,486.6 L89.1,487.7 L89.2,482.8 L89.3,487.1 L89.4,486.8 L89.5,486.9 L89.6,488.7 L89.7,483.5 L89.8,490.2 L89.9,476.3 L90,494.4 L90.1,489.6 L90.2,484.6 L90.3,483.5 L90.4,486.3 L90.5,484.2 L90.6,484.7 L90.7,485 L90.8,483.5 L90.9,484.9 L91,486.2 L91.1,486.5 L91.2,483 L91.2,486.9 L91.3,484.4 L91.4,480.9 L91.5,485.3 L91.6,482.5 L91.7,488.5 L91.8,486.1 L91.9,485.4 L92,486.5 L92.1,485.8 L92.2,482.7 L92.3,488.9 L92.4,490.3 L92.5,486.9 L92.6,493.4 L92.7,488.4 L92.8,484.3 L92.9,488.7 L93,486.9 L93.1,487.6 L93.2,484.8 L93.3,487.5 L93.4,488.8 L93.5,501.5 L93.5,491.7 L93.6,487.5 L93.7,490.8 L93.8,493.1 L93.9,487.4 L94,494 L94.1,492.3 L94.2,488.8 L94.3,493.3 L94.4,491 L94.5,491.9 L94.6,496.3 L94.7,494.1 L94.8,493.7 L94.9,494.9 L95,489 L95.1,493.1 L95.2,495.5 L95.3,498.4 L95.4,494.8 L95.5,489.2 L95.6,495.1 L95.7,491.5 L95.8,492.8 L95.9,496.4 L95.9,498.2 L96,493.1 L96.1,501.1 L96.2,493.3 L96.3,499.7 L96.4,492.7 L96.5,497.3 L96.6,496.4 L96.7,492.5 L96.8,500 L96.9,496.4 L97,497.9 L97.1,495.2 L97.2,494.6 L97.3,496.3 L97.4,496.8 L97.5,499.2 L97.6,495.9 L97.7,499.1 L97.8,498.1 L97.9,498.1 L98,503.9 L98.1,503.3 L98.2,498.8 L98.2,499.9 L98.3,495.7 L98.4,509 L98.5,499.9 L98.6,497 L98.7,500.8 L98.8,498.6 L98.9,501.6 L99,502.1 L99.1,499 L99.2,507 L99.3,510.6 L99.4,501.3 L99.5,502.8 L99.6,503.1 L99.7,502.7 L99.8,501.8 L99.9,505.9 L100,502.9 L100.1,503.7 L100.2,509.1 L100.3,505.8 L100.4,504.6 L100.5,508.6 L100.5,502.4 L100.6,507.4 L100.7,503.8 L100.8,501.7 L100.9,512.3 L101,512 L101.1,505.6 L101.2,508.6 L101.3,506.3 L101.4,502.3 L101.5,510.4 L101.6,505.9 L101.7,510.1 L101.8,511.7 L101.9,508.1 L102,509.2 L102.1,506.6 L102.2,509.6 L102.3,507.9 L102.4,509.5 L102.5,517.7 L102.6,513.2 L102.7,513.4 L102.8,509.4 L102.9,516.6 L102.9,512.5 L103,515 L103.1,520.3 L103.2,514.7 L103.3,512.2 L103.4,516.1 L103.5,511.8 L103.6,514 L103.7,514.6 L103.8,517.8 L103.9,516.9 L104,515 L104.1,516.9 L104.2,521.6 L104.3,518.2 L104.4,516.5 L104.5,514.3 L104.6,515.6 L104.7,522.3 L104.8,516.7 L104.9,525.2 L105,522.1 L105.1,523 L105.2,515.1 L105.2,518.3 L105.3,520 L105.4,523.7 L105.5,517.6 L105.6,523.3 L105.7,521.2 L105.8,519.4 L105.9,524.8 L106,522.3 L106.1,531.7 L106.2,523.1 L106.3,531.6 L106.4,524.6 L106.5,525.4 L106.6,525.2 L106.7,519.2 L106.8,536.6 L106.9,526.6 L107,530.1 L107.1,526.5 L107.2,528.5 L107.3,529.7 L107.4,532.3 L107.5,533.5 L107.6,530.1 L107.6,537.2 L107.7,528.5 L107.8,534.8 L107.9,531.5 L108,537.8 L108.1,532.4 L108.2,535.3 L108.3,532.6 L108.4,531.7 L108.5,538.8 L108.6,537.3 L108.7,537.6 L108.8,534.1 L108.9,544.6 L109,538.7 L109.1,541.7 L109.2,546.6 L109.3,544.3 L109.4,546.3 L109.5,540.8 L109.6,548.9 L109.7,542.7 L109.8,549.5 L109.9,547 L109.9,557.1 L110,555.3 L110.1,553.6 L110.2,559 L110.3,562.8 L110.4,557.1 L110.5,552.6 L110.6,553.6 L110.7,552.6 L110.8,548.6 L110.9,549.7 L111,543.1 L111.1,540.7 L111.2,548.4 L111.3,539.5 L111.4,540.2 L111.5,540.9 L111.6,538.8 L111.7,535.5 L111.8,533 L111.9,533.4 L112,539.3 L112.1,533.1 L112.2,543 L112.3,533.3 L112.3,533.3 L112.4,531.6 L112.5,537.6 L112.6,529 L112.7,529.3 L112.8,532.7 L112.9,538.2 L113,531.7 L113.1,535.6 L113.2,537.8 L113.3,534.5 L113.4,523.4 L113.5,536.6 L113.6,532.4 L113.7,530.2 L113.8,527.2 L113.9,533.8 L114,533.5 L114.1,526.6 L114.2,528.5 L114.3,524.8 L114.4,533 L114.5,529 L114.6,525 L114.6,527.6 L114.7,531.8 L114.8,527.3 L114.9,534.4 L115,530.3 L115.1,524.8 L115.2,524.3 L115.3,525.9 L115.4,524.8 L115.5,532.5 L115.6,529.4 L115.7,523.3 L115.8,518.8 L115.9,525.2 L116,530 L116.1,530.1 L116.2,522.3 L116.3,522.7 L116.4,530.7 L116.5,525.8 L116.6,521.4 L116.7,521.2 L116.8,527.9 L116.9,526.6 L116.9,524.3 L117,529.7 L117.1,531.5 L117.2,528.1 L117.3,521.3 L117.4,521.6 L117.5,523.7 L117.6,529.6 L117.7,532.4 L117.8,529.2 L117.9,525.5 L118,522 L118.1,528.9 L118.2,525.5 L118.3,532.2 L118.4,533.4 L118.5,526 L118.6,530.3 L118.7,529.8 L118.8,534.2 L118.9,523.4 L119,532.7 L119.1,526.3 L119.2,531.8 L119.3,527.9 L119.3,521.9 L119.4,525.8 L119.5,526.3 L119.6,523.6 L119.7,524.9 L119.8,521.9 L119.9,532.1 L120,522.1 L120.1,526.7 L120.2,530.7 L120.3,524.9 L120.4,525.2 L120.5,527.1 L120.6,524.1 L120.7,531.8 L120.8,533.1 L120.9,529.4 L121,523.4 L121.1,525.4 L121.2,527.3 L121.3,529.6 L121.4,527.5 L121.5,523.3 L121.6,529.5 L121.6,529.6 L121.7,526 L121.8,525.3 L121.9,527.1 L122,522.6 L122.1,527 L122.2,531.1 L122.3,535.5 L122.4,523.6 L122.5,528.4 L122.6,526.7 L122.7,526.2 L122.8,523.1 L122.9,524.2 L123,524.4 L123.1,526.9 L123.2,528.8 L123.3,527 L123.4,530.9 L123.5,526.8 L123.6,524.3 L123.7,525.6 L123.8,527.6 L123.9,531.3 L124,531.4 L124,530.9 L124.1,529.8 L124.2,526.8 L124.3,526.7 L124.4,526.5 L124.5,525 L124.6,532 L124.7,529.4 L124.8,526.8 L124.9,525.9 L125,531.1 L125.1,531.2 L125.2,524.8 L125.3,526.4 L125.4,527.3 L125.5,529.9 L125.6,532.3 L125.7,529.1 L125.8,527.9 L125.9,527.3 L126,526 L126.1,528.7 L126.2,524.7 L126.3,530.4 L126.3,528 L126.4,529 L126.5,535.6 L126.6,533.9 L126.7,531.2 L126.8,528.9 L126.9,528.3 L127,525 L127.1,529.6 L127.2,530.7 L127.3,528.4 L127.4,533.9 L127.5,530.3 L127.6,533.3 L127.7,529.5 L127.8,532.2 L127.9,531.3 L128,523.1 L128.1,526 L128.2,521.1 L128.3,529.3 L128.4,530.6 L128.5,532.8 L128.6,530.2 L128.6,536.3 L128.7,529.8 L128.8,532.2 L128.9,535 L129,536.6 L129.1,533.5 L129.2,531.8 L129.3,530.5 L129.4,536.2 L129.5,530.6 L129.6,529.4 L129.7,522.7 L129.8,529.3 L129.9,527.3 L130,533.1 L130.1,530.6 L130.2,533.2 L130.3,533.6 L130.4,529 L130.5,531.6 L130.6,525.7 L130.7,530.9 L130.8,529.4 L130.9,535.2 L131,534.4 L131,528.6 L131.1,533.4 L131.2,526.5 L131.3,533.9 L131.4,534.2 L131.5,524.3 L131.6,537.1 L131.7,533 L131.8,529.4 L131.9,529.1 L132,535.3 L132.1,523.7 L132.2,533 L132.3,538.2 L132.4,528.2 L132.5,533.2 L132.6,531.3 L132.7,528.9 L132.8,534.8 L132.9,534.2 L133,532.1 L133.1,528.8 L133.2,536.5 L133.3,526.8 L133.3,530.6 L133.4,535.9 L133.5,531.8 L133.6,530 L133.7,527.7 L133.8,529.1 L133.9,528.2 L134,532.7 L134.1,529.7 L134.2,541.7 L134.3,528.8 L134.4,532.5 L134.5,526.8 L134.6,534.6 L134.7,534.2 L134.8,532.4 L134.9,529.7 L135,531.5 L135.1,529 L135.2,532.6 L135.3,529.1 L135.4,522.9 L135.5,528.5 L135.6,530.7 L135.7,538.1 L135.7,530.7 L135.8,529.2 L135.9,533.7 L136,529.4 L136.1,540.9 L136.2,535.6 L136.3,536.5 L136.4,531.4 L136.5,536.2 L136.6,536.8 L136.7,528.2 L136.8,538.6 L136.9,531.7 L137,529.7 L137.1,534.6 L137.2,536.9 L137.3,534.4 L137.4,535.8 L137.5,536.6 L137.6,533 L137.7,534 L137.8,522.9 L137.9,529.4 L138,533.3 L138,532 L138.1,528.1 L138.2,530 L138.3,534 L138.4,537 L138.5,528 L138.6,534.3 L138.7,533.5 L138.8,529.5 L138.9,533.7 L139,529.9 L139.1,535.5 L139.2,533.8 L139.3,535.1 L139.4,527 L139.5,539.5 L139.6,535 L139.7,537.4 L139.8,536.9 L139.9,538.8 L140,537.1 L140.1,529.9 L140.2,529 L140.3,536.4 L140.3,538.4 L140.4,535.8 L140.5,528.2 L140.6,534.2 L140.7,541.5 L140.8,530.9 L140.9,534.3 L141,531.6 L141.1,532.3 L141.2,538.4 L141.3,530.1 L141.4,531.3 L141.5,536 L141.6,541.6 L141.7,537.7 L141.8,537.5 L141.9,531 L142,535.5 L142.1,535 L142.2,533.2 L142.3,534.9 L142.4,531.9 L142.5,532.1 L142.6,529.9 L142.7,537.5 L142.7,531.8 L142.8,534 L142.9,525.5 L143,527.8 L143.1,534.3 L143.2,529.5 L143.3,539.1 L143.4,536.5 L143.5,533.7 L143.6,531.7 L143.7,536.6 L143.8,532.5 L143.9,528.1 L144,538.2 L144.1,537.3 L144.2,539.2 L144.3,528.4 L144.4,536.2 L144.5,533.7 L144.6,535.5 L144.7,532.6 L144.8,533.4 L144.9,531.5 L145,531.5 L145,526.4 L145.1,535.4 L145.2,531.4 L145.3,532.2 L145.4,535.1 L145.5,528.9 L145.6,525.3 L145.7,535.7 L145.8,523 L145.9,532.2 L146,531.9 L146.1,540.8 L146.2,531.3 L146.3,531.9 L146.4,532.3 L146.5,529 L146.6,531.9 L146.7,529.9 L146.8,533.5 L146.9,535.1 L147,530.6 L147.1,528.9 L147.2,528.5 L147.3,530.5 L147.4,533.4 L147.4,530.6 L147.5,531.6 L147.6,535.1 L147.7,529.4 L147.8,531.2 L147.9,534.4 L148,531.5 L148.1,528.2 L148.2,525 L148.3,536.7 L148.4,531.5 L148.5,528.2 L148.6,526 L148.7,528.6 L148.8,533.6 L148.9,531.7 L149,530 L149.1,532.6 L149.2,533.5 L149.3,534.2 L149.4,520.5 L149.5,529.5 L149.6,530.4 L149.7,527 L149.7,529.2 L149.8,529.8 L149.9,528.4 L150,531.9 L150.1,530.5 L150.2,525.8 L150.3,526.8 L150.4,532.8 L150.5,523.5 L150.6,530.2 L150.7,534.5 L150.8,526.4 L150.9,526.7 L151,527.9 L151.1,532.6 L151.2,525 L151.3,527.5 L151.4,528.1 L151.5,528.6 L151.6,528.2 L151.7,521.7 L151.8,531.5 L151.9,528.7 L152,525.8 L152.1,527.1 L152.1,532.7 L152.2,530.4 L152.3,531.4 L152.4,535.3 L152.5,530.9 L152.6,526.9 L152.7,529.4 L152.8,526.6 L152.9,529 L153,533.2 L153.1,528.9 L153.2,537 L153.3,526.5 L153.4,532.4 L153.5,525.3 L153.6,536.1 L153.7,534.8 L153.8,533 L153.9,532.5 L154,537.3 L154.1,536.2 L154.2,530.1 L154.3,534.8 L154.4,528.9 L154.4,526.3 L154.5,537.4 L154.6,533.7 L154.7,526.2 L154.8,528.6 L154.9,537.3 L155,531.3 L155.1,526.8 L155.2,540.4 L155.3,531.5 L155.4,529.1 L155.5,534.7 L155.6,535.3 L155.7,530.5 L155.8,538.9 L155.9,531.3 L156,529 L156.1,533.1 L156.2,539.1 L156.3,528 L156.4,533.8 L156.5,531.8 L156.6,537 L156.7,534.3 L156.7,530.1 L156.8,539.5 L156.9,538.9 L157,541.7 L157.1,532.8 L157.2,532.8 L157.3,537.5 L157.4,533.4 L157.5,534.5 L157.6,527.8 L157.7,539 L157.8,534 L157.9,536.5 L158,528.5 L158.1,533.5 L158.2,539.4 L158.3,533.7 L158.4,535.9 L158.5,538.8 L158.6,534 L158.7,535 L158.8,539.8 L158.9,537.3 L159,531.6 L159.1,532.3 L159.1,536.4 L159.2,537.2 L159.3,535 L159.4,536.5 L159.5,540.5 L159.6,534 L159.7,539.2 L159.8,531.2 L159.9,534.4 L160,533.9 L160.1,537.7 L160.2,536 L160.3,538.8 L160.4,538.2 L160.5,540.5 L160.6,531.9 L160.7,541 L160.8,531 L160.9,534.5 L161,540.4 L161.1,532.6 L161.2,535.8 L161.3,540.2 L161.4,536.5 L161.4,538.7 L161.5,540.3 L161.6,537.8 L161.7,536.7 L161.8,538.9 L161.9,538 L162,535.1 L162.1,538.4 L162.2,539.4 L162.3,542.7 L162.4,538.4 L162.5,539.9 L162.6,539 L162.7,535.5 L162.8,535.3 L162.9,538.3 L163,540.5 L163.1,538 L163.2,537.4 L163.3,537.7 L163.4,543.7 L163.5,537.6 L163.6,542.4 L163.7,537.7 L163.8,537.5 L163.8,538.4 L163.9,534.8 L164,539 L164.1,538 L164.2,542.3 L164.3,539.6 L164.4,540.1 L164.5,539.2 L164.6,540 L164.7,547.8 L164.8,536.7 L164.9,537.1 L165,547 L165.1,538.8 L165.2,536.2 L165.3,537.2 L165.4,537.4 L165.5,540.6 L165.6,541.8 L165.7,533.3 L165.8,538.6 L165.9,534.3 L166,540.4 L166.1,536.9 L166.1,537.4 L166.2,537.5 L166.3,544.7 L166.4,532 L166.5,539.4 L166.6,541.7 L166.7,539.5 L166.8,546.9 L166.9,535.8 L167,542.1 L167.1,539.8 L167.2,540.2 L167.3,547.1 L167.4,542.1 L167.5,536.5 L167.6,543.8 L167.7,540.2 L167.8,537.5 L167.9,535.5 L168,544.1 L168.1,537.6 L168.2,538.9 L168.3,539.4 L168.4,538 L168.4,538.8 L168.5,544.9 L168.6,539.8 L168.7,543.7 L168.8,540.5 L168.9,543.1 L169,536.5 L169.1,538.5 L169.2,540.1 L169.3,544.3 L169.4,540.4 L169.5,545.9 L169.6,545.1 L169.7,548 L169.8,539.1 L169.9,544 L170,539 L170.1,538.3 L170.2,538.8 L170.3,543.9 L170.4,537.4 L170.5,538.4 L170.6,547 L170.7,541.3 L170.8,545.5 L170.8,543.2 L170.9,538.5 L171,541.7 L171.1,537.3 L171.2,540.7 L171.3,540.4 L171.4,537.2 L171.5,538.7 L171.6,540.3 L171.7,538.4 L171.8,538.9 L171.9,548.1 L172,547 L172.1,543.1 L172.2,539.6 L172.3,546.1 L172.4,549.5 L172.5,543.9 L172.6,545.8 L172.7,538.6 L172.8,552.2 L172.9,541.1 L173,541.7 L173.1,553.5 L173.1,547.7 L173.2,545.1 L173.3,543 L173.4,544.3 L173.5,542.2 L173.6,543.8 L173.7,547.3 L173.8,538.7 L173.9,543.6 L174,547.7 L174.1,543 L174.2,545.3 L174.3,546.3 L174.4,547.2 L174.5,550.2 L174.6,548.2 L174.7,549.6 L174.8,552.1 L174.9,543.5 L175,544.2 L175.1,546.1 L175.2,549.3 L175.3,548.2 L175.4,540 L175.5,548.6 L175.5,542.6 L175.6,544.4 L175.7,544 L175.8,547.4 L175.9,546.6 L176,546.1 L176.1,549.8 L176.2,541.2 L176.3,549 L176.4,545.5 L176.5,540 L176.6,541 L176.7,548.4 L176.8,544.6 L176.9,542.8 L177,553.4 L177.1,539.3 L177.2,544.7 L177.3,547.6 L177.4,547 L177.5,554.7 L177.6,544.3 L177.7,541.2 L177.8,547.5 L177.8,541.3 L177.9,544.6 L178,551.8 L178.1,545.1 L178.2,554.4 L178.3,553.9 L178.4,545 L178.5,545.4 L178.6,547.7 L178.7,547.9 L178.8,553 L178.9,544 L179,547.7 L179.1,548.4 L179.2,535 L179.3,546.8 L179.4,547.9 L179.5,540.7 L179.6,546.9 L179.7,549.6 L179.8,542.5 L179.9,548.5 L180,550.9 L180.1,549.3 L180.2,548.1 L180.2,544.9 L180.3,543.7 L180.4,552.6 L180.5,543.8 L180.6,550.6 L180.7,550.1 L180.8,557.8 L180.9,542.7 L181,546.5 L181.1,549.4 L181.2,549.3 L181.3,545.3 L181.4,548.8 L181.5,559.5 L181.6,548 L181.7,549.1 L181.8,548.6 L181.9,548.9 L182,546.1 L182.1,551.8 L182.2,541.1 L182.3,548.9" fill="none" stroke="#DB5A42" stroke-width="0.6"/>
<line x1="108.8" y1="433" x2="123" y2="433" stroke="#6FA8DC" stroke-width="1.3"/>
<line x1="108.8" y1="449" x2="123" y2="449" stroke="#DB5A42" stroke-width="1.3"/>
<text x="128.9" y="435.6" textLength="40.8" lengthAdjust="spacingAndGlyphs" font-size="8.5">Without MAP</text>
<text x="128.9" y="451.6" textLength="30.2" lengthAdjust="spacingAndGlyphs" font-size="8.5">With MAP</text>
<line x1="239.4" y1="423.3" x2="239.4" y2="481.8" stroke="#666" stroke-width="0.8"/>
<line x1="239.4" y1="481.8" x2="393" y2="481.8" stroke="#666" stroke-width="0.8"/>
<line x1="239.4" y1="507.8" x2="239.4" y2="567" stroke="#666" stroke-width="0.8"/>
<line x1="239.4" y1="567" x2="393.6" y2="567" stroke="#666" stroke-width="0.8"/>
<line x1="236.4" y1="437.3" x2="239.4" y2="437.3" stroke="#666" stroke-width="0.8"/>
<text x="233.5" y="439.9" text-anchor="end" textLength="9.2" lengthAdjust="spacingAndGlyphs" font-size="9">80</text>
<line x1="236.4" y1="467.1" x2="239.4" y2="467.1" stroke="#666" stroke-width="0.8"/>
<text x="233.5" y="469.7" text-anchor="end" textLength="9.2" lengthAdjust="spacingAndGlyphs" font-size="9">60</text>
<line x1="236.4" y1="516.6" x2="239.4" y2="516.6" stroke="#666" stroke-width="0.8"/>
<text x="233.5" y="519.2" text-anchor="end" textLength="12.5" lengthAdjust="spacingAndGlyphs" font-size="9">140</text>
<line x1="236.4" y1="533.2" x2="239.4" y2="533.2" stroke="#666" stroke-width="0.8"/>
<text x="233.5" y="535.8" text-anchor="end" textLength="12.5" lengthAdjust="spacingAndGlyphs" font-size="9">120</text>
<line x1="236.4" y1="549.8" x2="239.4" y2="549.8" stroke="#666" stroke-width="0.8"/>
<text x="233.5" y="552.4" text-anchor="end" textLength="12.5" lengthAdjust="spacingAndGlyphs" font-size="9">100</text>
<line x1="236.4" y1="566.4" x2="239.4" y2="566.4" stroke="#666" stroke-width="0.8"/>
<text x="233.5" y="569" text-anchor="end" textLength="9.2" lengthAdjust="spacingAndGlyphs" font-size="9">80</text>
<line x1="239.4" y1="481.8" x2="239.4" y2="484.8" stroke="#666" stroke-width="0.8"/>
<text x="239.4" y="492.2" text-anchor="middle" textLength="4.6" lengthAdjust="spacingAndGlyphs" font-size="9">0</text>
<line x1="239.4" y1="567" x2="239.4" y2="570" stroke="#666" stroke-width="0.8"/>
<text x="239.4" y="579.2" text-anchor="middle" textLength="4.6" lengthAdjust="spacingAndGlyphs" font-size="9">0</text>
<line x1="286.7" y1="481.8" x2="286.7" y2="484.8" stroke="#666" stroke-width="0.8"/>
<text x="286.7" y="492.2" text-anchor="middle" textLength="9.2" lengthAdjust="spacingAndGlyphs" font-size="9">40</text>
<line x1="286.7" y1="567" x2="286.7" y2="570" stroke="#666" stroke-width="0.8"/>
<text x="286.7" y="579.2" text-anchor="middle" textLength="9.2" lengthAdjust="spacingAndGlyphs" font-size="9">40</text>
<line x1="334" y1="481.8" x2="334" y2="484.8" stroke="#666" stroke-width="0.8"/>
<text x="334" y="492.2" text-anchor="middle" textLength="9.2" lengthAdjust="spacingAndGlyphs" font-size="9">80</text>
<line x1="334" y1="567" x2="334" y2="570" stroke="#666" stroke-width="0.8"/>
<text x="334" y="579.2" text-anchor="middle" textLength="9.2" lengthAdjust="spacingAndGlyphs" font-size="9">80</text>
<line x1="381.4" y1="481.8" x2="381.4" y2="484.8" stroke="#666" stroke-width="0.8"/>
<text x="381.4" y="492.2" text-anchor="middle" textLength="12.5" lengthAdjust="spacingAndGlyphs" font-size="9">120</text>
<line x1="381.4" y1="567" x2="381.4" y2="570" stroke="#666" stroke-width="0.8"/>
<text x="381.4" y="579.2" text-anchor="middle" textLength="12.5" lengthAdjust="spacingAndGlyphs" font-size="9">120</text>
<text x="316.5" y="592.2" text-anchor="middle" textLength="31" lengthAdjust="spacingAndGlyphs" font-size="8.5">Time (s)</text>
<text x="0" y="3.1" text-anchor="middle" textLength="52" lengthAdjust="spacingAndGlyphs" font-size="8.5" transform="translate(214,452.6) rotate(-90)">DBP (mm Hg)</text>
<text x="0" y="3.1" text-anchor="middle" textLength="52" lengthAdjust="spacingAndGlyphs" font-size="8.5" transform="translate(212.4,535.5) rotate(-90)">SBP (mm Hg)</text>
<g fill="#5A8ACB" stroke="#2D4F80" stroke-width="0.45"><circle cx="241.7" cy="452.5" r="1.95"/><circle cx="241.8" cy="460.4" r="1.95"/><circle cx="242" cy="448.2" r="1.95"/><circle cx="242.4" cy="459.6" r="1.95"/><circle cx="242.5" cy="458.3" r="1.95"/><circle cx="242.7" cy="473.6" r="1.95"/><circle cx="245.9" cy="469.2" r="1.95"/><circle cx="246.9" cy="448.8" r="1.95"/><circle cx="249.1" cy="442.4" r="1.95"/><circle cx="250.3" cy="469.5" r="1.95"/><circle cx="250.7" cy="449.1" r="1.95"/><circle cx="250.9" cy="448.9" r="1.95"/><circle cx="252.6" cy="425.4" r="1.95"/><circle cx="256.5" cy="462" r="1.95"/><circle cx="258.6" cy="458.4" r="1.95"/><circle cx="259.5" cy="462.7" r="1.95"/><circle cx="260.6" cy="441.8" r="1.95"/><circle cx="261.4" cy="439.3" r="1.95"/><circle cx="263.7" cy="454" r="1.95"/><circle cx="263.8" cy="434" r="1.95"/><circle cx="264.3" cy="427.5" r="1.95"/><circle cx="266.8" cy="456.2" r="1.95"/><circle cx="267" cy="444.8" r="1.95"/><circle cx="267.9" cy="453.1" r="1.95"/><circle cx="268.6" cy="458" r="1.95"/><circle cx="269.2" cy="456.1" r="1.95"/><circle cx="270" cy="453.6" r="1.95"/><circle cx="271.1" cy="465.3" r="1.95"/><circle cx="271.9" cy="451.8" r="1.95"/><circle cx="276.1" cy="441.9" r="1.95"/><circle cx="276.9" cy="461.4" r="1.95"/><circle cx="277.4" cy="456.7" r="1.95"/><circle cx="277.4" cy="461" r="1.95"/><circle cx="277.9" cy="446.6" r="1.95"/><circle cx="279.7" cy="452" r="1.95"/><circle cx="284.2" cy="440.4" r="1.95"/><circle cx="284.3" cy="454.3" r="1.95"/><circle cx="284.7" cy="467.2" r="1.95"/><circle cx="284.9" cy="444.5" r="1.95"/><circle cx="284.9" cy="454.1" r="1.95"/><circle cx="291.3" cy="438" r="1.95"/><circle cx="293.8" cy="442.8" r="1.95"/><circle cx="294.3" cy="477.5" r="1.95"/><circle cx="296.9" cy="472.8" r="1.95"/><circle cx="297.3" cy="450.5" r="1.95"/><circle cx="299.2" cy="459.2" r="1.95"/><circle cx="300.1" cy="475.9" r="1.95"/><circle cx="300.1" cy="456.8" r="1.95"/><circle cx="300.4" cy="436.4" r="1.95"/><circle cx="300.5" cy="443.7" r="1.95"/><circle cx="302.6" cy="460.7" r="1.95"/><circle cx="303.8" cy="447.6" r="1.95"/><circle cx="304.8" cy="439.5" r="1.95"/><circle cx="306.2" cy="452.9" r="1.95"/><circle cx="306.6" cy="431" r="1.95"/><circle cx="306.6" cy="458.7" r="1.95"/><circle cx="309.7" cy="427.3" r="1.95"/><circle cx="311" cy="433.7" r="1.95"/><circle cx="313.5" cy="445" r="1.95"/><circle cx="314.2" cy="448.3" r="1.95"/><circle cx="314.3" cy="450.4" r="1.95"/><circle cx="317.3" cy="461.2" r="1.95"/><circle cx="317.6" cy="439.8" r="1.95"/><circle cx="319.1" cy="436.6" r="1.95"/><circle cx="320.6" cy="442" r="1.95"/><circle cx="320.8" cy="447.6" r="1.95"/><circle cx="320.9" cy="449.6" r="1.95"/><circle cx="321.6" cy="461.2" r="1.95"/><circle cx="322.7" cy="458.1" r="1.95"/><circle cx="322.9" cy="466.9" r="1.95"/><circle cx="325.5" cy="445.4" r="1.95"/><circle cx="325.9" cy="460.9" r="1.95"/><circle cx="326.4" cy="441.4" r="1.95"/><circle cx="326.8" cy="458.2" r="1.95"/><circle cx="328.6" cy="434.9" r="1.95"/><circle cx="331.3" cy="433.2" r="1.95"/><circle cx="333.8" cy="433.6" r="1.95"/><circle cx="334.7" cy="438" r="1.95"/><circle cx="335.6" cy="454.2" r="1.95"/><circle cx="336.9" cy="454.3" r="1.95"/><circle cx="337.9" cy="459" r="1.95"/><circle cx="338" cy="447.1" r="1.95"/><circle cx="338.2" cy="432" r="1.95"/><circle cx="341" cy="462.9" r="1.95"/><circle cx="342.8" cy="425.4" r="1.95"/><circle cx="344.3" cy="457.1" r="1.95"/><circle cx="344.6" cy="463.8" r="1.95"/><circle cx="346.4" cy="447" r="1.95"/><circle cx="346.6" cy="438.7" r="1.95"/><circle cx="346.8" cy="454.8" r="1.95"/><circle cx="346.9" cy="462.2" r="1.95"/><circle cx="347.2" cy="431.2" r="1.95"/><circle cx="348.4" cy="463.1" r="1.95"/><circle cx="351.5" cy="439.7" r="1.95"/><circle cx="352.5" cy="449.1" r="1.95"/><circle cx="352.7" cy="454.9" r="1.95"/><circle cx="353.9" cy="450.2" r="1.95"/><circle cx="355.1" cy="462.9" r="1.95"/><circle cx="355.2" cy="463.2" r="1.95"/><circle cx="356.4" cy="447.3" r="1.95"/><circle cx="361.1" cy="462.4" r="1.95"/><circle cx="361.3" cy="459.4" r="1.95"/><circle cx="361.8" cy="434.6" r="1.95"/><circle cx="362.8" cy="430.7" r="1.95"/><circle cx="365" cy="438.4" r="1.95"/><circle cx="365.8" cy="440.8" r="1.95"/><circle cx="367" cy="453.6" r="1.95"/><circle cx="368.3" cy="449.7" r="1.95"/><circle cx="368.4" cy="459" r="1.95"/><circle cx="373.2" cy="477.5" r="1.95"/><circle cx="375" cy="448.6" r="1.95"/><circle cx="376.9" cy="448.3" r="1.95"/><circle cx="380.3" cy="439.7" r="1.95"/><circle cx="380.5" cy="464.2" r="1.95"/><circle cx="380.6" cy="437.9" r="1.95"/><circle cx="381.7" cy="456.8" r="1.95"/><circle cx="381.8" cy="464.6" r="1.95"/><circle cx="384.6" cy="453.7" r="1.95"/><circle cx="387.5" cy="440.4" r="1.95"/><circle cx="390.6" cy="451" r="1.95"/></g>
<g fill="#F9D08A" stroke="#A88A50" stroke-width="0.45"><circle cx="241" cy="455.5" r="1.95"/><circle cx="242.4" cy="455.4" r="1.95"/><circle cx="242.8" cy="448" r="1.95"/><circle cx="243.2" cy="445.9" r="1.95"/><circle cx="243.2" cy="451.3" r="1.95"/><circle cx="243.6" cy="458.1" r="1.95"/><circle cx="245.2" cy="443.3" r="1.95"/><circle cx="245.4" cy="451.5" r="1.95"/><circle cx="245.8" cy="449.3" r="1.95"/><circle cx="246.3" cy="463.2" r="1.95"/><circle cx="247.6" cy="455.6" r="1.95"/><circle cx="249.1" cy="452.8" r="1.95"/><circle cx="249.2" cy="450.2" r="1.95"/><circle cx="250.8" cy="456.6" r="1.95"/><circle cx="251.2" cy="460.1" r="1.95"/><circle cx="252.8" cy="460.7" r="1.95"/><circle cx="253.4" cy="454" r="1.95"/><circle cx="254.4" cy="450.5" r="1.95"/><circle cx="255.8" cy="450.7" r="1.95"/><circle cx="259.3" cy="461.3" r="1.95"/><circle cx="260.1" cy="455.9" r="1.95"/><circle cx="260.2" cy="452.7" r="1.95"/><circle cx="263.6" cy="446.9" r="1.95"/><circle cx="265.1" cy="449.2" r="1.95"/><circle cx="265.4" cy="450.8" r="1.95"/><circle cx="266.4" cy="461.1" r="1.95"/><circle cx="267" cy="446.4" r="1.95"/><circle cx="267.1" cy="452.7" r="1.95"/><circle cx="267.6" cy="451.1" r="1.95"/><circle cx="267.7" cy="455.8" r="1.95"/><circle cx="268.3" cy="453.3" r="1.95"/><circle cx="269.4" cy="454" r="1.95"/><circle cx="269.9" cy="454.4" r="1.95"/><circle cx="269.9" cy="456.9" r="1.95"/><circle cx="272.1" cy="448.7" r="1.95"/><circle cx="272.4" cy="447.5" r="1.95"/><circle cx="273.3" cy="455.1" r="1.95"/><circle cx="274" cy="456.7" r="1.95"/><circle cx="274.5" cy="456.6" r="1.95"/><circle cx="276.9" cy="453.9" r="1.95"/><circle cx="278.9" cy="444.7" r="1.95"/><circle cx="280.4" cy="453" r="1.95"/><circle cx="280.5" cy="442.6" r="1.95"/><circle cx="280.6" cy="459" r="1.95"/><circle cx="280.8" cy="458" r="1.95"/><circle cx="282.2" cy="456.4" r="1.95"/><circle cx="285.1" cy="456.8" r="1.95"/><circle cx="286.1" cy="450.5" r="1.95"/><circle cx="286.4" cy="443.1" r="1.95"/><circle cx="287" cy="456.1" r="1.95"/><circle cx="287.4" cy="450.4" r="1.95"/><circle cx="287.4" cy="445.2" r="1.95"/><circle cx="287.6" cy="439.5" r="1.95"/><circle cx="288.3" cy="451.1" r="1.95"/><circle cx="288.7" cy="447" r="1.95"/><circle cx="291.8" cy="445.2" r="1.95"/><circle cx="292" cy="451.7" r="1.95"/><circle cx="293.1" cy="449.2" r="1.95"/><circle cx="293.2" cy="454" r="1.95"/><circle cx="294.4" cy="456.9" r="1.95"/><circle cx="295.2" cy="455.3" r="1.95"/><circle cx="297.5" cy="446.1" r="1.95"/><circle cx="300.5" cy="445.1" r="1.95"/><circle cx="301" cy="450.8" r="1.95"/><circle cx="301.2" cy="458.6" r="1.95"/><circle cx="303.5" cy="445.6" r="1.95"/><circle cx="304.6" cy="452.1" r="1.95"/><circle cx="304.7" cy="444.2" r="1.95"/><circle cx="305.2" cy="451.6" r="1.95"/><circle cx="305.5" cy="458.2" r="1.95"/><circle cx="305.8" cy="453.6" r="1.95"/><circle cx="305.9" cy="455.6" r="1.95"/><circle cx="307.6" cy="443.7" r="1.95"/><circle cx="308" cy="464.1" r="1.95"/><circle cx="308.3" cy="455.2" r="1.95"/><circle cx="308.6" cy="453.7" r="1.95"/><circle cx="308.8" cy="462.9" r="1.95"/><circle cx="310.3" cy="449.8" r="1.95"/><circle cx="310.9" cy="448.8" r="1.95"/><circle cx="311.4" cy="447.6" r="1.95"/><circle cx="311.8" cy="447.6" r="1.95"/><circle cx="314.7" cy="452.6" r="1.95"/><circle cx="315.3" cy="447.1" r="1.95"/><circle cx="317.2" cy="454.4" r="1.95"/><circle cx="317.8" cy="451.9" r="1.95"/><circle cx="318.6" cy="450.9" r="1.95"/><circle cx="319.1" cy="451.7" r="1.95"/><circle cx="319.6" cy="449.3" r="1.95"/><circle cx="320.7" cy="455.5" r="1.95"/><circle cx="321.9" cy="452.7" r="1.95"/><circle cx="323.3" cy="455.2" r="1.95"/><circle cx="323.9" cy="451.7" r="1.95"/><circle cx="324.8" cy="450.4" r="1.95"/><circle cx="325" cy="456" r="1.95"/><circle cx="325" cy="444.4" r="1.95"/><circle cx="325.4" cy="441.8" r="1.95"/><circle cx="326.4" cy="449.1" r="1.95"/><circle cx="326.4" cy="451.5" r="1.95"/><circle cx="326.7" cy="455.3" r="1.95"/><circle cx="327" cy="452.9" r="1.95"/><circle cx="327.7" cy="453.1" r="1.95"/><circle cx="329.4" cy="448.3" r="1.95"/><circle cx="329.5" cy="452" r="1.95"/><circle cx="329.7" cy="448.3" r="1.95"/><circle cx="331.3" cy="449" r="1.95"/><circle cx="331.6" cy="454.5" r="1.95"/><circle cx="331.6" cy="459" r="1.95"/><circle cx="332.3" cy="458.2" r="1.95"/><circle cx="335.1" cy="457.6" r="1.95"/><circle cx="335.3" cy="452.1" r="1.95"/><circle cx="338.3" cy="445.7" r="1.95"/><circle cx="338.4" cy="456.8" r="1.95"/><circle cx="339.1" cy="448.5" r="1.95"/><circle cx="339.8" cy="452.9" r="1.95"/><circle cx="340.8" cy="445.3" r="1.95"/><circle cx="341.4" cy="440.1" r="1.95"/><circle cx="343.4" cy="446.3" r="1.95"/><circle cx="345.3" cy="450.1" r="1.95"/><circle cx="347.4" cy="449.2" r="1.95"/><circle cx="348.4" cy="445" r="1.95"/><circle cx="348.6" cy="453.4" r="1.95"/><circle cx="349.9" cy="456" r="1.95"/><circle cx="350.7" cy="450.9" r="1.95"/><circle cx="356.2" cy="443.3" r="1.95"/><circle cx="356.2" cy="455.6" r="1.95"/><circle cx="357.3" cy="445.9" r="1.95"/><circle cx="358.1" cy="447.2" r="1.95"/><circle cx="358.8" cy="453" r="1.95"/><circle cx="359.3" cy="456" r="1.95"/><circle cx="361" cy="460.5" r="1.95"/><circle cx="362.4" cy="458" r="1.95"/><circle cx="362.7" cy="451" r="1.95"/><circle cx="365.2" cy="448" r="1.95"/><circle cx="365.5" cy="455.2" r="1.95"/><circle cx="368.4" cy="454.9" r="1.95"/><circle cx="368.7" cy="456" r="1.95"/><circle cx="368.7" cy="439" r="1.95"/><circle cx="368.9" cy="459.2" r="1.95"/><circle cx="370.3" cy="459.8" r="1.95"/><circle cx="372.5" cy="446.4" r="1.95"/><circle cx="376.1" cy="457.8" r="1.95"/><circle cx="376.4" cy="446.7" r="1.95"/><circle cx="377" cy="456.4" r="1.95"/><circle cx="379.1" cy="446.6" r="1.95"/><circle cx="380.3" cy="444.8" r="1.95"/><circle cx="382.3" cy="454.5" r="1.95"/><circle cx="383.1" cy="452.2" r="1.95"/><circle cx="383.8" cy="457.4" r="1.95"/><circle cx="386.9" cy="447.4" r="1.95"/><circle cx="387.2" cy="453.8" r="1.95"/></g>
<g fill="#6AA7E4" stroke="#3F6E9E" stroke-width="0.45"><circle cx="239.5" cy="532.9" r="1.95"/><circle cx="242.5" cy="541.1" r="1.95"/><circle cx="242.5" cy="542.9" r="1.95"/><circle cx="246" cy="560.2" r="1.95"/><circle cx="246.4" cy="537.8" r="1.95"/><circle cx="247.7" cy="517.2" r="1.95"/><circle cx="247.9" cy="543.1" r="1.95"/><circle cx="248" cy="520.2" r="1.95"/><circle cx="250.9" cy="551.2" r="1.95"/><circle cx="252.1" cy="542.4" r="1.95"/><circle cx="253.6" cy="543.2" r="1.95"/><circle cx="263" cy="538.3" r="1.95"/><circle cx="264" cy="557.6" r="1.95"/><circle cx="265.4" cy="525.5" r="1.95"/><circle cx="266.4" cy="541.9" r="1.95"/><circle cx="266.6" cy="561.8" r="1.95"/><circle cx="270" cy="531.7" r="1.95"/><circle cx="271.1" cy="537.1" r="1.95"/><circle cx="271.5" cy="552.4" r="1.95"/><circle cx="271.9" cy="539.9" r="1.95"/><circle cx="272.2" cy="529.9" r="1.95"/><circle cx="273.4" cy="531" r="1.95"/><circle cx="273.5" cy="534.8" r="1.95"/><circle cx="275.1" cy="545.5" r="1.95"/><circle cx="275.9" cy="535.1" r="1.95"/><circle cx="276.4" cy="524.2" r="1.95"/><circle cx="276.8" cy="514.5" r="1.95"/><circle cx="278" cy="531" r="1.95"/><circle cx="280.4" cy="528.9" r="1.95"/><circle cx="281.2" cy="527.1" r="1.95"/><circle cx="283.8" cy="540.3" r="1.95"/><circle cx="285.4" cy="556.4" r="1.95"/><circle cx="286.3" cy="543.7" r="1.95"/><circle cx="287" cy="539.9" r="1.95"/><circle cx="289" cy="535.6" r="1.95"/><circle cx="289.2" cy="538.4" r="1.95"/><circle cx="289.6" cy="546.7" r="1.95"/><circle cx="289.9" cy="545.2" r="1.95"/><circle cx="291.3" cy="542.3" r="1.95"/><circle cx="298.9" cy="549.6" r="1.95"/><circle cx="300.3" cy="549.4" r="1.95"/><circle cx="301.9" cy="559.3" r="1.95"/><circle cx="302.7" cy="545" r="1.95"/><circle cx="304.4" cy="540.3" r="1.95"/><circle cx="304.5" cy="548.7" r="1.95"/><circle cx="304.8" cy="544.8" r="1.95"/><circle cx="306.5" cy="541.1" r="1.95"/><circle cx="306.7" cy="554" r="1.95"/><circle cx="306.8" cy="549.3" r="1.95"/><circle cx="307.3" cy="552.3" r="1.95"/><circle cx="307.4" cy="537.5" r="1.95"/><circle cx="307.7" cy="554.5" r="1.95"/><circle cx="308.2" cy="542.1" r="1.95"/><circle cx="310.4" cy="563.1" r="1.95"/><circle cx="310.7" cy="523.5" r="1.95"/><circle cx="311.3" cy="536.2" r="1.95"/><circle cx="311.7" cy="550.6" r="1.95"/><circle cx="312.8" cy="542.4" r="1.95"/><circle cx="312.9" cy="521.1" r="1.95"/><circle cx="319.6" cy="540.2" r="1.95"/><circle cx="320.7" cy="557.1" r="1.95"/><circle cx="323.4" cy="541.3" r="1.95"/><circle cx="324.1" cy="545.9" r="1.95"/><circle cx="325.1" cy="534.9" r="1.95"/><circle cx="325.7" cy="538.3" r="1.95"/><circle cx="326.9" cy="557.2" r="1.95"/><circle cx="327.7" cy="537.1" r="1.95"/><circle cx="328" cy="529" r="1.95"/><circle cx="328.3" cy="524" r="1.95"/><circle cx="329.9" cy="535.2" r="1.95"/><circle cx="330.9" cy="518.7" r="1.95"/><circle cx="332.4" cy="523" r="1.95"/><circle cx="332.9" cy="530.1" r="1.95"/><circle cx="333.2" cy="521.7" r="1.95"/><circle cx="334.5" cy="563.1" r="1.95"/><circle cx="340" cy="524.7" r="1.95"/><circle cx="341.3" cy="522.5" r="1.95"/><circle cx="342.5" cy="539.2" r="1.95"/><circle cx="344" cy="529.2" r="1.95"/><circle cx="345.7" cy="545.1" r="1.95"/><circle cx="348.1" cy="539.9" r="1.95"/><circle cx="348.7" cy="540" r="1.95"/><circle cx="349.4" cy="549.4" r="1.95"/><circle cx="351.1" cy="540.5" r="1.95"/><circle cx="351.9" cy="557.2" r="1.95"/><circle cx="352.7" cy="539.7" r="1.95"/><circle cx="356.9" cy="519.9" r="1.95"/><circle cx="357.1" cy="517.7" r="1.95"/><circle cx="358.4" cy="538.3" r="1.95"/><circle cx="359" cy="519.3" r="1.95"/><circle cx="364" cy="533.7" r="1.95"/><circle cx="364.1" cy="551.8" r="1.95"/><circle cx="365.2" cy="544.7" r="1.95"/><circle cx="368.2" cy="538.6" r="1.95"/><circle cx="369.1" cy="538.2" r="1.95"/><circle cx="370.9" cy="531" r="1.95"/><circle cx="375.7" cy="545.6" r="1.95"/><circle cx="377" cy="542.4" r="1.95"/><circle cx="377.7" cy="526.7" r="1.95"/><circle cx="378.6" cy="536.4" r="1.95"/><circle cx="379.9" cy="533.3" r="1.95"/><circle cx="381.1" cy="538.4" r="1.95"/><circle cx="381.2" cy="530.1" r="1.95"/><circle cx="381.3" cy="529.5" r="1.95"/><circle cx="381.7" cy="545.9" r="1.95"/><circle cx="384.7" cy="525.3" r="1.95"/><circle cx="386.1" cy="544.5" r="1.95"/><circle cx="388.3" cy="533.7" r="1.95"/><circle cx="389.8" cy="540.7" r="1.95"/><circle cx="390.1" cy="530.3" r="1.95"/></g>
<g fill="#C9513C" stroke="#7A2E22" stroke-width="0.45"><circle cx="239.5" cy="538.8" r="1.95"/><circle cx="239.8" cy="539.3" r="1.95"/><circle cx="240.7" cy="536.1" r="1.95"/><circle cx="241.8" cy="542.4" r="1.95"/><circle cx="241.8" cy="543.8" r="1.95"/><circle cx="243.1" cy="537.6" r="1.95"/><circle cx="243.3" cy="538.9" r="1.95"/><circle cx="244.3" cy="532.3" r="1.95"/><circle cx="244.7" cy="545.3" r="1.95"/><circle cx="245.3" cy="539.7" r="1.95"/><circle cx="245.7" cy="544.5" r="1.95"/><circle cx="245.7" cy="530.7" r="1.95"/><circle cx="245.9" cy="541.2" r="1.95"/><circle cx="246.2" cy="536.3" r="1.95"/><circle cx="246.5" cy="548.6" r="1.95"/><circle cx="246.8" cy="543.4" r="1.95"/><circle cx="246.9" cy="536.3" r="1.95"/><circle cx="247.9" cy="541.1" r="1.95"/><circle cx="250.7" cy="542" r="1.95"/><circle cx="250.8" cy="536.7" r="1.95"/><circle cx="251.8" cy="539" r="1.95"/><circle cx="251.8" cy="538.9" r="1.95"/><circle cx="252.4" cy="538.3" r="1.95"/><circle cx="253.6" cy="541.4" r="1.95"/><circle cx="253.8" cy="533.1" r="1.95"/><circle cx="253.9" cy="535.2" r="1.95"/><circle cx="256.6" cy="539.9" r="1.95"/><circle cx="259.2" cy="540.9" r="1.95"/><circle cx="259.6" cy="547" r="1.95"/><circle cx="260.2" cy="544" r="1.95"/><circle cx="261.9" cy="533.9" r="1.95"/><circle cx="262" cy="544.2" r="1.95"/><circle cx="262.5" cy="541.1" r="1.95"/><circle cx="263.6" cy="532.5" r="1.95"/><circle cx="264.4" cy="535" r="1.95"/><circle cx="265.7" cy="537.9" r="1.95"/><circle cx="265.7" cy="537.7" r="1.95"/><circle cx="267.4" cy="540.7" r="1.95"/><circle cx="269.6" cy="538.6" r="1.95"/><circle cx="273.3" cy="539.2" r="1.95"/><circle cx="273.6" cy="533.9" r="1.95"/><circle cx="274.7" cy="536.2" r="1.95"/><circle cx="274.8" cy="542.3" r="1.95"/><circle cx="276.4" cy="533.5" r="1.95"/><circle cx="277.2" cy="535.8" r="1.95"/><circle cx="278.4" cy="534.6" r="1.95"/><circle cx="278.5" cy="534" r="1.95"/><circle cx="279" cy="535.9" r="1.95"/><circle cx="279.7" cy="538.3" r="1.95"/><circle cx="283.1" cy="533.7" r="1.95"/><circle cx="283.7" cy="534.3" r="1.95"/><circle cx="284.1" cy="540" r="1.95"/><circle cx="284.2" cy="539.7" r="1.95"/><circle cx="286.6" cy="537.9" r="1.95"/><circle cx="287" cy="536.9" r="1.95"/><circle cx="287.4" cy="539.2" r="1.95"/><circle cx="288.9" cy="544.7" r="1.95"/><circle cx="289.5" cy="534.1" r="1.95"/><circle cx="291" cy="541.7" r="1.95"/><circle cx="291.2" cy="543.7" r="1.95"/><circle cx="293.5" cy="542.5" r="1.95"/><circle cx="294.2" cy="538.8" r="1.95"/><circle cx="295" cy="540" r="1.95"/><circle cx="295.5" cy="548.5" r="1.95"/><circle cx="296.3" cy="545.5" r="1.95"/><circle cx="296.5" cy="545.7" r="1.95"/><circle cx="297.9" cy="542.3" r="1.95"/><circle cx="298.4" cy="538.7" r="1.95"/><circle cx="298.5" cy="541.9" r="1.95"/><circle cx="300.6" cy="531.2" r="1.95"/><circle cx="301.9" cy="535.7" r="1.95"/><circle cx="302.1" cy="533.3" r="1.95"/><circle cx="304.7" cy="536.2" r="1.95"/><circle cx="306.7" cy="544.3" r="1.95"/><circle cx="307.3" cy="537.2" r="1.95"/><circle cx="308.7" cy="545.1" r="1.95"/><circle cx="309.8" cy="543.2" r="1.95"/><circle cx="310.6" cy="538.2" r="1.95"/><circle cx="311" cy="538.9" r="1.95"/><circle cx="311.8" cy="536.5" r="1.95"/><circle cx="314" cy="540" r="1.95"/><circle cx="316.5" cy="534.6" r="1.95"/><circle cx="317.5" cy="535.6" r="1.95"/><circle cx="318.9" cy="537.5" r="1.95"/><circle cx="320.6" cy="541.8" r="1.95"/><circle cx="321.2" cy="541.3" r="1.95"/><circle cx="322.1" cy="534.5" r="1.95"/><circle cx="322.4" cy="527.4" r="1.95"/><circle cx="322.8" cy="540.7" r="1.95"/><circle cx="324.4" cy="538" r="1.95"/><circle cx="324.7" cy="542.3" r="1.95"/><circle cx="326" cy="548.8" r="1.95"/><circle cx="327.6" cy="536.2" r="1.95"/><circle cx="329.9" cy="538.1" r="1.95"/><circle cx="331.8" cy="536" r="1.95"/><circle cx="332" cy="541.3" r="1.95"/><circle cx="333" cy="542.2" r="1.95"/><circle cx="335.3" cy="532.7" r="1.95"/><circle cx="335.6" cy="542.6" r="1.95"/><circle cx="335.8" cy="536" r="1.95"/><circle cx="336.2" cy="534.9" r="1.95"/><circle cx="339" cy="538.9" r="1.95"/><circle cx="340" cy="541.1" r="1.95"/><circle cx="340.6" cy="537.9" r="1.95"/><circle cx="341" cy="546.1" r="1.95"/><circle cx="341" cy="540" r="1.95"/><circle cx="341.3" cy="540.4" r="1.95"/><circle cx="341.5" cy="544.7" r="1.95"/><circle cx="343.6" cy="540.1" r="1.95"/><circle cx="345.3" cy="535.3" r="1.95"/><circle cx="346.5" cy="529.5" r="1.95"/><circle cx="347.7" cy="543.4" r="1.95"/><circle cx="348.5" cy="537.1" r="1.95"/><circle cx="348.7" cy="537.2" r="1.95"/><circle cx="349.8" cy="540.1" r="1.95"/><circle cx="350.3" cy="541.2" r="1.95"/><circle cx="351.9" cy="536.8" r="1.95"/><circle cx="353.4" cy="535.9" r="1.95"/><circle cx="354.4" cy="544.7" r="1.95"/><circle cx="356.2" cy="532.7" r="1.95"/><circle cx="356.4" cy="539.4" r="1.95"/><circle cx="356.4" cy="538.4" r="1.95"/><circle cx="356.9" cy="541.2" r="1.95"/><circle cx="361.7" cy="533.8" r="1.95"/><circle cx="362.7" cy="544.3" r="1.95"/><circle cx="364.1" cy="540.8" r="1.95"/><circle cx="364.2" cy="538.3" r="1.95"/><circle cx="365.2" cy="542.6" r="1.95"/><circle cx="365.3" cy="539.9" r="1.95"/><circle cx="365.9" cy="536.8" r="1.95"/><circle cx="366.3" cy="534.1" r="1.95"/><circle cx="366.6" cy="539.6" r="1.95"/><circle cx="367.7" cy="540.8" r="1.95"/><circle cx="369" cy="537" r="1.95"/><circle cx="369.4" cy="538.5" r="1.95"/><circle cx="369.7" cy="543.1" r="1.95"/><circle cx="370.2" cy="535.4" r="1.95"/><circle cx="370.8" cy="540.1" r="1.95"/><circle cx="371.5" cy="542.6" r="1.95"/><circle cx="373.3" cy="535" r="1.95"/><circle cx="374" cy="536.6" r="1.95"/><circle cx="374.6" cy="542.1" r="1.95"/><circle cx="375" cy="536.2" r="1.95"/><circle cx="375.4" cy="541.8" r="1.95"/><circle cx="376.3" cy="541.2" r="1.95"/><circle cx="376.8" cy="543" r="1.95"/><circle cx="378.4" cy="535.5" r="1.95"/><circle cx="378.9" cy="539.5" r="1.95"/><circle cx="381.4" cy="536.6" r="1.95"/><circle cx="383.8" cy="544.3" r="1.95"/><circle cx="383.8" cy="540.8" r="1.95"/><circle cx="384.3" cy="545.9" r="1.95"/><circle cx="384.7" cy="541.7" r="1.95"/><circle cx="385" cy="540.8" r="1.95"/><circle cx="385.1" cy="539.9" r="1.95"/><circle cx="387.6" cy="545.4" r="1.95"/><circle cx="387.6" cy="534.9" r="1.95"/><circle cx="388.7" cy="545.9" r="1.95"/><circle cx="389.2" cy="534.4" r="1.95"/><circle cx="389.7" cy="539.7" r="1.95"/></g>
<circle cx="246.9" cy="414.1" r="2.2" fill="#5A8ACB" stroke="#2D4F80" stroke-width="0.5"/>
<text x="252.2" y="416.6" textLength="41" lengthAdjust="spacingAndGlyphs" font-size="8.5">Without MAP</text>
<circle cx="315.9" cy="414.3" r="2.2" fill="#F9D08A" stroke="#A88A50" stroke-width="0.5"/>
<text x="321.9" y="416.9" textLength="31" lengthAdjust="spacingAndGlyphs" font-size="8.5">With MAP</text>
<circle cx="247.1" cy="504.6" r="2.2" fill="#6AA7E4" stroke="#3F6E9E" stroke-width="0.5"/>
<text x="252.8" y="507.2" textLength="41" lengthAdjust="spacingAndGlyphs" font-size="8.5">Without MAP</text>
<circle cx="316.4" cy="504.6" r="2.2" fill="#C9513C" stroke="#7A2E22" stroke-width="0.5"/>
<text x="322.2" y="507.2" textLength="31" lengthAdjust="spacingAndGlyphs" font-size="8.5">With MAP</text>
<line x1="404.5" y1="441.5" x2="404.5" y2="463.3" stroke="#AAAAAA" stroke-width="0.5"/>
<line x1="403.1" y1="441.5" x2="405.9" y2="441.5" stroke="#999" stroke-width="0.5"/>
<line x1="403.1" y1="463.3" x2="405.9" y2="463.3" stroke="#999" stroke-width="0.5"/>
<path d="M404.5,436.3 C404.7,437.3 404.9,440.1 405.6,442.3 C406.3,444.5 408.3,447.2 408.8,449.3 C409.3,451.4 409.3,452.6 408.8,454.6 C408.3,456.6 406.3,459.4 405.6,461.5 C404.9,463.6 404.7,466.4 404.5,467.4" fill="none" stroke="#F5B84A" stroke-width="0.8"/>
<rect x="400.1" y="448.3" width="8.9" height="7.3" fill="#F9D08A" stroke="#E3B467" stroke-width="0.6"/>
<line x1="400.1" y1="452" x2="408.9" y2="452" stroke="#E3B467" stroke-width="0.6"/>
<line x1="423.5" y1="426.3" x2="423.5" y2="476.5" stroke="#AAAAAA" stroke-width="0.5"/>
<line x1="422.1" y1="426.3" x2="424.9" y2="426.3" stroke="#999" stroke-width="0.5"/>
<line x1="422.1" y1="476.5" x2="424.9" y2="476.5" stroke="#999" stroke-width="0.5"/>
<path d="M423.5,423.3 C423.7,425 423.9,429.7 424.6,433.2 C425.2,436.7 427.2,440.4 427.7,444.1 C428.2,447.9 428.2,451.5 427.7,455.7 C427.2,459.9 425.2,464.8 424.6,469.1 C423.9,473.5 423.7,479.5 423.5,481.6" fill="none" stroke="#3A6EB5" stroke-width="0.8"/>
<rect x="419.2" y="443.1" width="8.5" height="13.6" fill="#4F7CB8" stroke="#2D5A90" stroke-width="0.6"/>
<line x1="419.2" y1="450.2" x2="427.8" y2="450.2" stroke="#2D5A90" stroke-width="0.6"/>
<line x1="404.5" y1="530" x2="404.5" y2="549.5" stroke="#AAAAAA" stroke-width="0.5"/>
<line x1="403.1" y1="530" x2="405.9" y2="530" stroke="#999" stroke-width="0.5"/>
<line x1="403.1" y1="549.5" x2="405.9" y2="549.5" stroke="#999" stroke-width="0.5"/>
<path d="M404.5,527.2 C404.7,528.1 404.9,530.4 405.6,532.3 C406.3,534.2 408.3,536.9 408.8,538.4 C409.3,539.9 409.3,540 408.8,541.5 C408.3,543 406.3,545.4 405.6,547.1 C404.9,548.8 404.7,550.9 404.5,551.7" fill="none" stroke="#D06050" stroke-width="0.8"/>
<rect x="400.2" y="537.4" width="8.6" height="5.1" fill="#C9513C" stroke="#A03A2A" stroke-width="0.6"/>
<line x1="400.2" y1="540" x2="408.8" y2="540" stroke="#A03A2A" stroke-width="0.6"/>
<line x1="423.6" y1="512" x2="423.6" y2="563.2" stroke="#AAAAAA" stroke-width="0.5"/>
<line x1="422.2" y1="512" x2="425" y2="512" stroke="#999" stroke-width="0.5"/>
<line x1="422.2" y1="563.2" x2="425" y2="563.2" stroke="#999" stroke-width="0.5"/>
<path d="M423.6,509.4 C423.8,511.2 424,516.4 424.7,520.1 C425.5,523.9 427.5,528.1 428.1,531.9 C428.7,535.7 428.7,539.2 428.1,543.2 C427.5,547.2 425.5,551.7 424.7,555.8 C424,559.8 423.8,565.4 423.6,567.3" fill="none" stroke="#4A8AD0" stroke-width="0.8"/>
<rect x="419.1" y="530.9" width="9" height="13.3" fill="#6AA7E4" stroke="#3A7AC0" stroke-width="0.6"/>
<line x1="419.1" y1="537.4" x2="428.1" y2="537.4" stroke="#3A7AC0" stroke-width="0.6"/>
<path d="M478.2,474.1 C485,472.8 498.5,470.1 512,467.5 C525.5,464.9 534.2,462.3 545.5,460.9 C556.8,459.5 560.8,459.8 568.5,460.3 C576.2,460.8 578.3,461.9 584,463.5 C589.7,465.1 591.8,466.3 597,468.5 C602.2,470.7 604.5,471.6 610,474.5 C615.5,477.4 618.9,478.9 624.3,483 C629.7,487.1 632.7,490.2 637,495 C641.3,499.8 642.8,501.6 645.7,507 C648.6,512.4 649.6,515.8 651.5,522 C653.4,528.2 654,532 655,538 C656,544 656.2,546.3 656.7,552 C657.2,557.7 657.3,563.5 657.4,566.4 L657.4,566.4 L478.2,566.4Z" fill="#EEA7A9" stroke="none" stroke-width="0.8"/>
<path d="M478.2,474.1 C485,472.8 498.5,470.1 512,467.5 C525.5,464.9 534.2,462.3 545.5,460.9 C556.8,459.5 560.8,459.8 568.5,460.3 C576.2,460.8 578.3,461.9 584,463.5 C589.7,465.1 591.8,466.3 597,468.5 C602.2,470.7 604.5,471.6 610,474.5 C615.5,477.4 618.9,478.9 624.3,483 C629.7,487.1 632.7,490.2 637,495 C641.3,499.8 642.8,501.6 645.7,507 C648.6,512.4 649.6,515.8 651.5,522 C653.4,528.2 654,532 655,538 C656,544 656.2,546.3 656.7,552 C657.2,557.7 657.3,563.5 657.4,566.4" fill="none" stroke="#555" stroke-width="0.6"/>
<path d="M478.2,475.8 C490.8,476 526.3,475.8 541.3,476.6 C556.3,477.4 548.4,478.4 553,480 C557.6,481.6 558.9,482.2 564.3,484.6 C569.7,487 573.7,488.7 580,492 C586.3,495.3 590.8,497.4 595.8,501 C600.8,504.6 601.6,505.2 605,510 C608.4,514.8 610.1,518.8 612.6,524.8 C615.1,530.8 616,534.4 617.5,540 C619,545.6 619.5,547.7 620.3,553 C621.1,558.3 621.1,563.7 621.3,566.4 L621.3,566.4 L478.2,566.4Z" fill="#BCD8F1" stroke="none" stroke-width="0.8"/>
<path d="M478.2,475.8 C490.8,476 526.3,475.8 541.3,476.6 C556.3,477.4 548.4,478.4 553,480 C557.6,481.6 558.9,482.2 564.3,484.6 C569.7,487 573.7,488.7 580,492 C586.3,495.3 590.8,497.4 595.8,501 C600.8,504.6 601.6,505.2 605,510 C608.4,514.8 610.1,518.8 612.6,524.8 C615.1,530.8 616,534.4 617.5,540 C619,545.6 619.5,547.7 620.3,553 C621.1,558.3 621.1,563.7 621.3,566.4" fill="none" stroke="#555" stroke-width="0.6"/>
<path d="M478.2,476.9 C482.6,477.7 491.2,478.8 500,481 C508.8,483.2 514.4,485 522.4,487.7 C530.4,490.4 533.7,491.4 540,494.5 C546.3,497.6 548.8,499.9 553.8,503.4 C558.8,506.9 560.8,508 565,512 C569.2,516 571.2,518.8 574.8,523.4 C578.4,528 580.3,530 583,535 C585.7,540 586.8,543.9 588.5,548.5 C590.2,553.1 590.7,554.4 591.5,558 C592.3,561.6 592.4,564.7 592.6,566.4 L592.6,566.4 L478.2,566.4Z" fill="#FEE8AE" stroke="none" stroke-width="0.8"/>
<path d="M478.2,476.9 C482.6,477.7 491.2,478.8 500,481 C508.8,483.2 514.4,485 522.4,487.7 C530.4,490.4 533.7,491.4 540,494.5 C546.3,497.6 548.8,499.9 553.8,503.4 C558.8,506.9 560.8,508 565,512 C569.2,516 571.2,518.8 574.8,523.4 C578.4,528 580.3,530 583,535 C585.7,540 586.8,543.9 588.5,548.5 C590.2,553.1 590.7,554.4 591.5,558 C592.3,561.6 592.4,564.7 592.6,566.4" fill="none" stroke="#555" stroke-width="0.6"/>
<path d="M577,459.5 L583,463 L588.8,474.7 L592.5,484 L594.3,492 L595.4,507.6 L595.8,523.5 L594.6,547 L592.3,556.4 L588.8,561.1 L582,564 L574.7,565.5 L560,566 L550,566 L547.5,563.5 L550,560.5 L553.5,559.5 L560.6,557.6 L568.8,551.7 L572.9,538.8 L574.7,527 L578.2,517.6 L584,504 L586.4,500 L575.7,501.6 L564.1,507 L553.5,514.1 L542.9,525.9 L533,535.5 L527,539.5 L521,540.5 L515.5,538 L513,534 L515.3,530 L527.1,519.4 L542.8,508.9 L553.4,499.7 L558.6,493.1 L565.2,482.6 L571.8,468.1 L575,462Z" fill="#6A6A6A" stroke="#555" stroke-width="0.5" fill-opacity="0.42" stroke-dasharray="1.5,1"/>
<line x1="478.2" y1="423" x2="478.2" y2="566.4" stroke="#666" stroke-width="0.8"/>
<line x1="478.2" y1="566.4" x2="665.7" y2="566.4" stroke="#666" stroke-width="0.8"/>
<line x1="475.2" y1="566.4" x2="478.2" y2="566.4" stroke="#666" stroke-width="0.8"/>
<text x="472.5" y="569" text-anchor="end" textLength="4.6" lengthAdjust="spacingAndGlyphs" font-size="9">0</text>
<line x1="475.2" y1="530.6" x2="478.2" y2="530.6" stroke="#666" stroke-width="0.8"/>
<text x="472.5" y="533.2" text-anchor="end" textLength="4.6" lengthAdjust="spacingAndGlyphs" font-size="9">2</text>
<line x1="475.2" y1="494.8" x2="478.2" y2="494.8" stroke="#666" stroke-width="0.8"/>
<text x="472.5" y="497.4" text-anchor="end" textLength="4.6" lengthAdjust="spacingAndGlyphs" font-size="9">4</text>
<line x1="475.2" y1="459" x2="478.2" y2="459" stroke="#666" stroke-width="0.8"/>
<text x="472.5" y="461.6" text-anchor="end" textLength="4.6" lengthAdjust="spacingAndGlyphs" font-size="9">6</text>
<line x1="475.2" y1="423.2" x2="478.2" y2="423.2" stroke="#666" stroke-width="0.8"/>
<text x="472.5" y="425.8" text-anchor="end" textLength="4.6" lengthAdjust="spacingAndGlyphs" font-size="9">8</text>
<line x1="478.2" y1="566.4" x2="478.2" y2="569.4" stroke="#666" stroke-width="0.8"/>
<text x="478.2" y="579.2" text-anchor="middle" textLength="4.6" lengthAdjust="spacingAndGlyphs" font-size="9">0</text>
<line x1="509.4" y1="566.4" x2="509.4" y2="569.4" stroke="#666" stroke-width="0.8"/>
<text x="509.4" y="579.2" text-anchor="middle" textLength="4.6" lengthAdjust="spacingAndGlyphs" font-size="9">2</text>
<line x1="540.6" y1="566.4" x2="540.6" y2="569.4" stroke="#666" stroke-width="0.8"/>
<text x="540.6" y="579.2" text-anchor="middle" textLength="4.6" lengthAdjust="spacingAndGlyphs" font-size="9">4</text>
<line x1="571.8" y1="566.4" x2="571.8" y2="569.4" stroke="#666" stroke-width="0.8"/>
<text x="571.8" y="579.2" text-anchor="middle" textLength="4.6" lengthAdjust="spacingAndGlyphs" font-size="9">6</text>
<line x1="603" y1="566.4" x2="603" y2="569.4" stroke="#666" stroke-width="0.8"/>
<text x="603" y="579.2" text-anchor="middle" textLength="4.6" lengthAdjust="spacingAndGlyphs" font-size="9">8</text>
<line x1="634.2" y1="566.4" x2="634.2" y2="569.4" stroke="#666" stroke-width="0.8"/>
<text x="634.2" y="579.2" text-anchor="middle" textLength="7.9" lengthAdjust="spacingAndGlyphs" font-size="9">10</text>
<line x1="665.4" y1="566.4" x2="665.4" y2="569.4" stroke="#666" stroke-width="0.8"/>
<text x="665.4" y="579.2" text-anchor="middle" textLength="7.9" lengthAdjust="spacingAndGlyphs" font-size="9">12</text>
<text x="572.5" y="592.6" text-anchor="middle" textLength="118" lengthAdjust="spacingAndGlyphs" font-size="8.5">Standard difference (mm Hg)</text>
<text x="0" y="3.1" text-anchor="middle" textLength="116" lengthAdjust="spacingAndGlyphs" font-size="8.5" transform="translate(456,495) rotate(-90)">Absolute mean error (mm Hg)</text>
<line x1="639.4" y1="504.9" x2="580.5" y2="540" stroke="#D8D8D8" stroke-width="0.8"/>
<line x1="580.5" y1="540" x2="554.6" y2="555.5" stroke="#555" stroke-width="0.7"/>
<path d="M552.5,556.8 L554.4,554.1 L555.7,556.4Z" fill="#555" stroke="none" stroke-width="0.8"/>
<circle cx="577.1" cy="463.6" r="2.6" fill="#5FCAD3" stroke="#333" stroke-width="0.7"/>
<circle cx="591.2" cy="496.5" r="2.6" fill="#FDD98B" stroke="#333" stroke-width="0.7"/>
<circle cx="552.4" cy="508.7" r="2.6" fill="#FDD98B" stroke="#333" stroke-width="0.7"/>
<circle cx="518.9" cy="532.4" r="2.6" fill="#2E9E62" stroke="#333" stroke-width="0.7"/>
<circle cx="528.3" cy="536" r="2.6" fill="#5FCAD3" stroke="#333" stroke-width="0.7"/>
<circle cx="580.1" cy="542.9" r="2.6" fill="#4B80C8" stroke="#333" stroke-width="0.7"/>
<circle cx="575.2" cy="550.7" r="2.6" fill="#F5887A" stroke="#333" stroke-width="0.7"/>
<circle cx="588.2" cy="556.5" r="2.6" fill="#5FCAD3" stroke="#333" stroke-width="0.7"/>
<circle cx="539.2" cy="560.5" r="2.6" fill="#7C6CC8" stroke="#333" stroke-width="0.7"/>
<circle cx="547.8" cy="564.3" r="2.6" fill="#2E9E62" stroke="#333" stroke-width="0.7"/>
<circle cx="550.3" cy="562.2" r="2.6" fill="#F5887A" stroke="#333" stroke-width="0.7"/>
<circle cx="639.4" cy="504.9" r="2.6" fill="#A01E25" stroke="#333" stroke-width="0.7"/>
<path d="M548.6,555.7 L549.5,558.3 L552.3,558.4 L550.1,560.1 L550.9,562.8 L548.6,561.2 L546.3,562.8 L547.1,560.1 L544.9,558.4 L547.7,558.3Z" fill="#B8202A" stroke="none" stroke-width="0.8"/>
<text x="618.4" y="498.2" textLength="43.8" lengthAdjust="spacingAndGlyphs" font-size="8.5">Without MAP</text>
<text x="525.6" y="551.8" textLength="32.7" lengthAdjust="spacingAndGlyphs" font-size="8.5">With MAP</text>
<rect x="485.2" y="411.9" width="17.3" height="6.5" fill="#FEE8AE" stroke="#555" stroke-width="0.5"/>
<text x="507.1" y="417.8" textLength="26.5" lengthAdjust="spacingAndGlyphs" font-size="8.5">Grade A</text>
<rect x="548.3" y="411.9" width="17.2" height="6.5" fill="#BCD8F1" stroke="#555" stroke-width="0.5"/>
<text x="570" y="417.8" textLength="27.4" lengthAdjust="spacingAndGlyphs" font-size="8.5">Grade B</text>
<rect x="611.1" y="412.2" width="16.8" height="6.4" fill="#EEA7A9" stroke="#555" stroke-width="0.5"/>
<text x="633" y="417.8" textLength="27.7" lengthAdjust="spacingAndGlyphs" font-size="8.5">Grade C</text>
<circle cx="487.7" cy="427.7" r="2.6" fill="#F5887A" stroke="#333" stroke-width="0.7"/>
<text x="495.7" y="430.3" textLength="35.9" lengthAdjust="spacingAndGlyphs" font-size="8.5">Tonometry</text>
<circle cx="546.9" cy="427.7" r="2.6" fill="#5FCAD3" stroke="#333" stroke-width="0.7"/>
<text x="554.9" y="430.3" textLength="42.6" lengthAdjust="spacingAndGlyphs" font-size="8.5">Cuff method</text>
<circle cx="613.5" cy="427.7" r="2.6" fill="#2E9E62" stroke="#333" stroke-width="0.7"/>
<text x="621.5" y="430.3" textLength="48.3" lengthAdjust="spacingAndGlyphs" font-size="8.5">Bioimpedance</text>
<circle cx="487.7" cy="438.9" r="2.6" fill="#4B80C8" stroke="#333" stroke-width="0.7"/>
<text x="495.7" y="441.5" textLength="64.6" lengthAdjust="spacingAndGlyphs" font-size="8.5">Ultrasound imaging</text>
<circle cx="584.6" cy="438.9" r="2.6" fill="#FDD98B" stroke="#333" stroke-width="0.7"/>
<text x="592.6" y="441.5" textLength="78.5" lengthAdjust="spacingAndGlyphs" font-size="8.5">Photoplethysmography</text>
<circle cx="487.7" cy="450.5" r="2.6" fill="#7C6CC8" stroke="#333" stroke-width="0.7"/>
<text x="495.7" y="453.1" textLength="58.2" lengthAdjust="spacingAndGlyphs" font-size="8.5">Ultrasound patch</text>
<rect x="578.2" y="446.3" width="12.6" height="8.2" fill="#9A9A9A" stroke="#777" stroke-width="0.5" stroke-dasharray="1.5,1"/>
<text x="596.1" y="453.1" textLength="67.9" lengthAdjust="spacingAndGlyphs" font-size="8.5">Static measurement</text>
</svg></body></html>
